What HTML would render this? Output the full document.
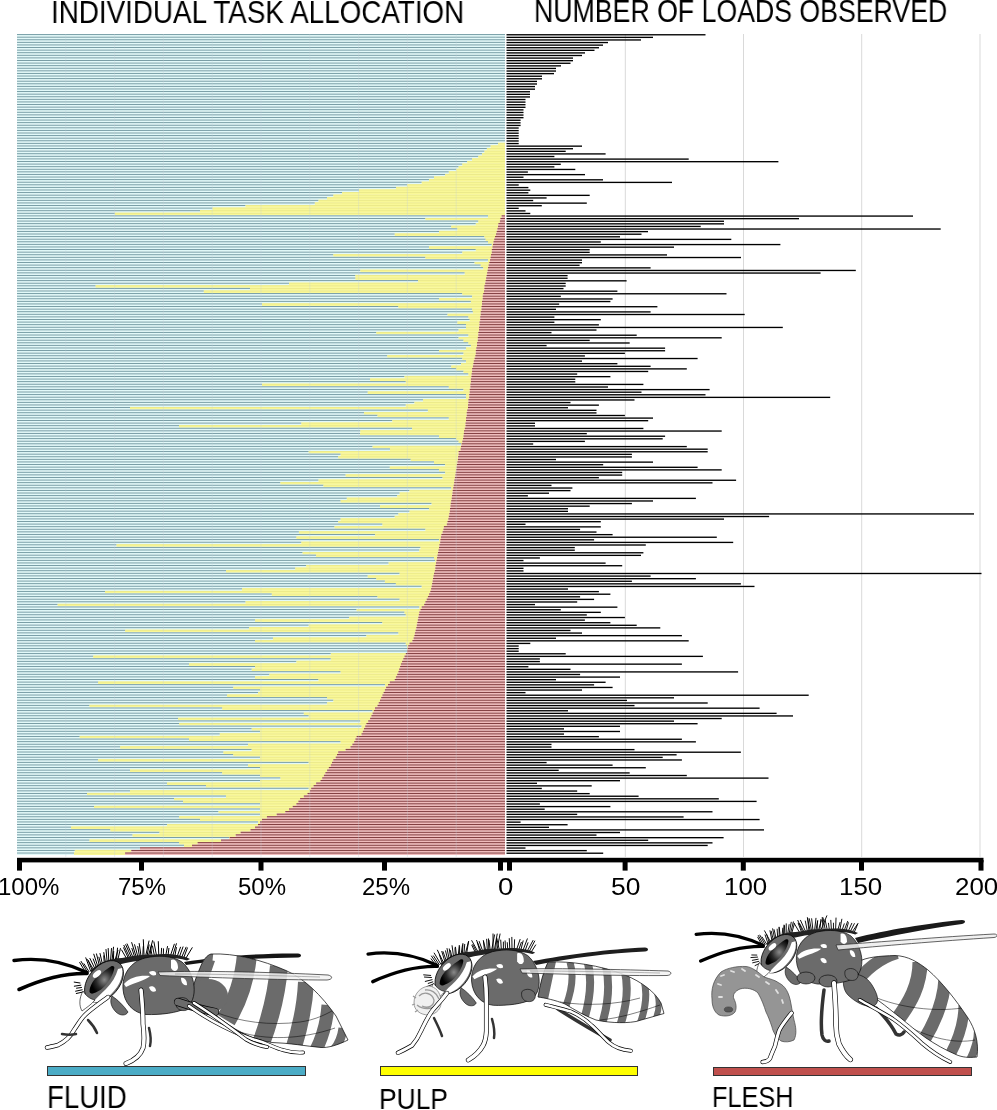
<!DOCTYPE html>
<html><head><meta charset="utf-8"><style>
html,body{margin:0;padding:0;background:#fff;}
body{width:997px;height:1110px;position:relative;overflow:hidden;font-family:"Liberation Sans",sans-serif;color:#000;}
.t{position:absolute;white-space:nowrap;line-height:1;transform-origin:0 0;will-change:transform;}
svg{position:absolute;left:0;top:0;}
</style></head><body>
<svg width="997" height="1110" viewBox="0 0 997 1110" shape-rendering="auto">
<rect x="624.8" y="34.0" width="1" height="823.0" fill="#d9d9d9"/><rect x="743.0" y="34.0" width="1" height="823.0" fill="#d9d9d9"/><rect x="861.2" y="34.0" width="1" height="823.0" fill="#d9d9d9"/><rect x="979.5" y="34.0" width="1" height="823.0" fill="#d9d9d9"/>
<rect x="17.00" y="34.00" width="488.00" height="2.61" fill="#e2f9f9"/><rect x="17.00" y="36.59" width="488.00" height="2.61" fill="#e2f9f9"/><rect x="17.00" y="39.18" width="488.00" height="2.61" fill="#e2f9f9"/><rect x="17.00" y="41.77" width="488.00" height="2.61" fill="#e2f9f9"/><rect x="17.00" y="44.36" width="488.00" height="2.61" fill="#e2f9f9"/><rect x="17.00" y="46.95" width="488.00" height="2.61" fill="#e2f9f9"/><rect x="17.00" y="49.54" width="488.00" height="2.61" fill="#e2f9f9"/><rect x="17.00" y="52.13" width="488.00" height="2.61" fill="#e2f9f9"/><rect x="17.00" y="54.72" width="488.00" height="2.61" fill="#e2f9f9"/><rect x="17.00" y="57.31" width="488.00" height="2.61" fill="#e2f9f9"/><rect x="17.00" y="59.90" width="488.00" height="2.61" fill="#e2f9f9"/><rect x="17.00" y="62.49" width="488.00" height="2.61" fill="#e2f9f9"/><rect x="17.00" y="65.08" width="488.00" height="2.61" fill="#e2f9f9"/><rect x="17.00" y="67.67" width="488.00" height="2.61" fill="#e2f9f9"/><rect x="17.00" y="70.26" width="488.00" height="2.61" fill="#e2f9f9"/><rect x="17.00" y="72.85" width="488.00" height="2.61" fill="#e2f9f9"/><rect x="17.00" y="75.44" width="488.00" height="2.61" fill="#e2f9f9"/><rect x="17.00" y="78.03" width="488.00" height="2.61" fill="#e2f9f9"/><rect x="17.00" y="80.62" width="488.00" height="2.61" fill="#e2f9f9"/><rect x="17.00" y="83.21" width="488.00" height="2.61" fill="#e2f9f9"/><rect x="17.00" y="85.80" width="488.00" height="2.61" fill="#e2f9f9"/><rect x="17.00" y="88.39" width="488.00" height="2.61" fill="#e2f9f9"/><rect x="17.00" y="90.98" width="488.00" height="2.61" fill="#e2f9f9"/><rect x="17.00" y="93.57" width="488.00" height="2.61" fill="#e2f9f9"/><rect x="17.00" y="96.16" width="488.00" height="2.61" fill="#e2f9f9"/><rect x="17.00" y="98.75" width="488.00" height="2.61" fill="#e2f9f9"/><rect x="17.00" y="101.34" width="488.00" height="2.61" fill="#e2f9f9"/><rect x="17.00" y="103.93" width="488.00" height="2.61" fill="#e2f9f9"/><rect x="17.00" y="106.52" width="488.00" height="2.61" fill="#e2f9f9"/><rect x="17.00" y="109.11" width="488.00" height="2.61" fill="#e2f9f9"/><rect x="17.00" y="111.70" width="488.00" height="2.61" fill="#e2f9f9"/><rect x="17.00" y="114.29" width="488.00" height="2.61" fill="#e2f9f9"/><rect x="17.00" y="116.88" width="488.00" height="2.61" fill="#e2f9f9"/><rect x="17.00" y="119.47" width="488.00" height="2.61" fill="#e2f9f9"/><rect x="17.00" y="122.06" width="488.00" height="2.61" fill="#e2f9f9"/><rect x="17.00" y="124.65" width="488.00" height="2.61" fill="#e2f9f9"/><rect x="17.00" y="127.24" width="488.00" height="2.61" fill="#e2f9f9"/><rect x="17.00" y="129.83" width="488.00" height="2.61" fill="#e2f9f9"/><rect x="17.00" y="132.42" width="488.00" height="2.61" fill="#e2f9f9"/><rect x="17.00" y="135.01" width="488.00" height="2.61" fill="#e2f9f9"/><rect x="17.00" y="137.60" width="488.00" height="2.61" fill="#e2f9f9"/><rect x="17.00" y="140.19" width="488.00" height="2.61" fill="#e2f9f9"/><rect x="17.00" y="142.78" width="481.00" height="2.61" fill="#e2f9f9"/><rect x="498.00" y="142.78" width="7.00" height="2.61" fill="#f9f897"/><rect x="17.00" y="145.37" width="473.60" height="2.61" fill="#e2f9f9"/><rect x="490.60" y="145.37" width="14.40" height="2.61" fill="#f9f897"/><rect x="17.00" y="147.96" width="469.90" height="2.61" fill="#e2f9f9"/><rect x="486.90" y="147.96" width="18.10" height="2.61" fill="#f9f897"/><rect x="17.00" y="150.55" width="467.40" height="2.61" fill="#e2f9f9"/><rect x="484.40" y="150.55" width="20.60" height="2.61" fill="#f9f897"/><rect x="17.00" y="153.14" width="465.00" height="2.61" fill="#e2f9f9"/><rect x="482.00" y="153.14" width="23.00" height="2.61" fill="#f9f897"/><rect x="17.00" y="155.73" width="461.30" height="2.61" fill="#e2f9f9"/><rect x="478.30" y="155.73" width="26.70" height="2.61" fill="#f9f897"/><rect x="17.00" y="158.32" width="455.00" height="2.61" fill="#e2f9f9"/><rect x="472.00" y="158.32" width="33.00" height="2.61" fill="#f9f897"/><rect x="17.00" y="160.91" width="450.20" height="2.61" fill="#e2f9f9"/><rect x="467.20" y="160.91" width="37.80" height="2.61" fill="#f9f897"/><rect x="17.00" y="163.50" width="445.30" height="2.61" fill="#e2f9f9"/><rect x="462.30" y="163.50" width="42.70" height="2.61" fill="#f9f897"/><rect x="17.00" y="166.09" width="441.60" height="2.61" fill="#e2f9f9"/><rect x="458.60" y="166.09" width="46.40" height="2.61" fill="#f9f897"/><rect x="17.00" y="168.68" width="439.20" height="2.61" fill="#e2f9f9"/><rect x="456.20" y="168.68" width="48.80" height="2.61" fill="#f9f897"/><rect x="17.00" y="171.27" width="431.80" height="2.61" fill="#e2f9f9"/><rect x="448.80" y="171.27" width="56.20" height="2.61" fill="#f9f897"/><rect x="17.00" y="173.86" width="428.00" height="2.61" fill="#e2f9f9"/><rect x="445.00" y="173.86" width="60.00" height="2.61" fill="#f9f897"/><rect x="17.00" y="176.45" width="417.00" height="2.61" fill="#e2f9f9"/><rect x="434.00" y="176.45" width="71.00" height="2.61" fill="#f9f897"/><rect x="17.00" y="179.04" width="412.00" height="2.61" fill="#e2f9f9"/><rect x="429.00" y="179.04" width="76.00" height="2.61" fill="#f9f897"/><rect x="17.00" y="181.63" width="404.70" height="2.61" fill="#e2f9f9"/><rect x="421.70" y="181.63" width="83.30" height="2.61" fill="#f9f897"/><rect x="17.00" y="184.22" width="390.00" height="2.61" fill="#e2f9f9"/><rect x="407.00" y="184.22" width="98.00" height="2.61" fill="#f9f897"/><rect x="17.00" y="186.81" width="379.00" height="2.61" fill="#e2f9f9"/><rect x="396.00" y="186.81" width="109.00" height="2.61" fill="#f9f897"/><rect x="17.00" y="189.40" width="342.00" height="2.61" fill="#e2f9f9"/><rect x="359.00" y="189.40" width="146.00" height="2.61" fill="#f9f897"/><rect x="17.00" y="191.99" width="325.00" height="2.61" fill="#e2f9f9"/><rect x="342.00" y="191.99" width="163.00" height="2.61" fill="#f9f897"/><rect x="17.00" y="194.58" width="316.30" height="2.61" fill="#e2f9f9"/><rect x="333.30" y="194.58" width="171.70" height="2.61" fill="#f9f897"/><rect x="17.00" y="197.17" width="310.00" height="2.61" fill="#e2f9f9"/><rect x="327.00" y="197.17" width="178.00" height="2.61" fill="#f9f897"/><rect x="17.00" y="199.76" width="301.50" height="2.61" fill="#e2f9f9"/><rect x="318.50" y="199.76" width="186.50" height="2.61" fill="#f9f897"/><rect x="17.00" y="202.35" width="297.80" height="2.61" fill="#e2f9f9"/><rect x="314.80" y="202.35" width="190.20" height="2.61" fill="#f9f897"/><rect x="17.00" y="204.94" width="228.50" height="2.61" fill="#e2f9f9"/><rect x="245.50" y="204.94" width="259.50" height="2.61" fill="#f9f897"/><rect x="17.00" y="207.53" width="195.40" height="2.61" fill="#e2f9f9"/><rect x="212.40" y="207.53" width="292.60" height="2.61" fill="#f9f897"/><rect x="17.00" y="210.12" width="183.00" height="2.61" fill="#e2f9f9"/><rect x="200.00" y="210.12" width="305.00" height="2.61" fill="#f9f897"/><rect x="17.00" y="212.71" width="97.80" height="2.61" fill="#e2f9f9"/><rect x="114.80" y="212.71" width="390.20" height="2.61" fill="#f9f897"/><rect x="17.00" y="215.30" width="471.00" height="2.61" fill="#e2f9f9"/><rect x="488.00" y="215.30" width="13.60" height="2.61" fill="#f9f897"/><rect x="501.60" y="215.30" width="3.40" height="2.61" fill="#f0bcbc"/><rect x="17.00" y="217.89" width="408.40" height="2.61" fill="#e2f9f9"/><rect x="425.40" y="217.89" width="75.00" height="2.61" fill="#f9f897"/><rect x="500.40" y="217.89" width="4.60" height="2.61" fill="#f0bcbc"/><rect x="17.00" y="220.48" width="461.30" height="2.61" fill="#e2f9f9"/><rect x="478.30" y="220.48" width="21.60" height="2.61" fill="#f9f897"/><rect x="499.90" y="220.48" width="5.10" height="2.61" fill="#f0bcbc"/><rect x="17.00" y="223.07" width="458.80" height="2.61" fill="#e2f9f9"/><rect x="475.80" y="223.07" width="22.60" height="2.61" fill="#f9f897"/><rect x="498.40" y="223.07" width="6.60" height="2.61" fill="#f0bcbc"/><rect x="17.00" y="225.66" width="434.20" height="2.61" fill="#e2f9f9"/><rect x="451.20" y="225.66" width="46.80" height="2.61" fill="#f9f897"/><rect x="498.00" y="225.66" width="7.00" height="2.61" fill="#f0bcbc"/><rect x="17.00" y="228.25" width="440.40" height="2.61" fill="#e2f9f9"/><rect x="457.40" y="228.25" width="40.00" height="2.61" fill="#f9f897"/><rect x="497.40" y="228.25" width="7.60" height="2.61" fill="#f0bcbc"/><rect x="17.00" y="230.84" width="422.00" height="2.61" fill="#e2f9f9"/><rect x="439.00" y="230.84" width="57.70" height="2.61" fill="#f9f897"/><rect x="496.70" y="230.84" width="8.30" height="2.61" fill="#f0bcbc"/><rect x="17.00" y="233.43" width="377.70" height="2.61" fill="#e2f9f9"/><rect x="394.70" y="233.43" width="101.30" height="2.61" fill="#f9f897"/><rect x="496.00" y="233.43" width="9.00" height="2.61" fill="#f0bcbc"/><rect x="17.00" y="236.02" width="467.40" height="2.61" fill="#e2f9f9"/><rect x="484.40" y="236.02" width="10.60" height="2.61" fill="#f9f897"/><rect x="495.00" y="236.02" width="10.00" height="2.61" fill="#f0bcbc"/><rect x="17.00" y="238.61" width="468.60" height="2.61" fill="#e2f9f9"/><rect x="485.60" y="238.61" width="8.60" height="2.61" fill="#f9f897"/><rect x="494.20" y="238.61" width="10.80" height="2.61" fill="#f0bcbc"/><rect x="17.00" y="241.20" width="471.00" height="2.61" fill="#e2f9f9"/><rect x="488.00" y="241.20" width="5.50" height="2.61" fill="#f9f897"/><rect x="493.50" y="241.20" width="11.50" height="2.61" fill="#f0bcbc"/><rect x="17.00" y="243.79" width="474.80" height="2.61" fill="#e2f9f9"/><rect x="491.80" y="243.79" width="1.20" height="2.61" fill="#f9f897"/><rect x="493.00" y="243.79" width="12.00" height="2.61" fill="#f0bcbc"/><rect x="17.00" y="246.38" width="412.00" height="2.61" fill="#e2f9f9"/><rect x="429.00" y="246.38" width="63.50" height="2.61" fill="#f9f897"/><rect x="492.50" y="246.38" width="12.50" height="2.61" fill="#f0bcbc"/><rect x="17.00" y="248.97" width="458.80" height="2.61" fill="#e2f9f9"/><rect x="475.80" y="248.97" width="16.00" height="2.61" fill="#f9f897"/><rect x="491.80" y="248.97" width="13.20" height="2.61" fill="#f0bcbc"/><rect x="17.00" y="251.56" width="445.30" height="2.61" fill="#e2f9f9"/><rect x="462.30" y="251.56" width="29.50" height="2.61" fill="#f9f897"/><rect x="491.80" y="251.56" width="13.20" height="2.61" fill="#f0bcbc"/><rect x="17.00" y="254.15" width="316.30" height="2.61" fill="#e2f9f9"/><rect x="333.30" y="254.15" width="157.70" height="2.61" fill="#f9f897"/><rect x="491.00" y="254.15" width="14.00" height="2.61" fill="#f0bcbc"/><rect x="17.00" y="256.74" width="408.40" height="2.61" fill="#e2f9f9"/><rect x="425.40" y="256.74" width="65.20" height="2.61" fill="#f9f897"/><rect x="490.60" y="256.74" width="14.40" height="2.61" fill="#f0bcbc"/><rect x="17.00" y="259.33" width="471.00" height="2.61" fill="#e2f9f9"/><rect x="488.00" y="259.33" width="2.00" height="2.61" fill="#f9f897"/><rect x="490.00" y="259.33" width="15.00" height="2.61" fill="#f0bcbc"/><rect x="17.00" y="261.92" width="457.60" height="2.61" fill="#e2f9f9"/><rect x="474.60" y="261.92" width="14.70" height="2.61" fill="#f9f897"/><rect x="489.30" y="261.92" width="15.70" height="2.61" fill="#f0bcbc"/><rect x="17.00" y="264.51" width="463.70" height="2.61" fill="#e2f9f9"/><rect x="480.70" y="264.51" width="7.90" height="2.61" fill="#f9f897"/><rect x="488.60" y="264.51" width="16.40" height="2.61" fill="#f0bcbc"/><rect x="17.00" y="267.10" width="466.20" height="2.61" fill="#e2f9f9"/><rect x="483.20" y="267.10" width="4.80" height="2.61" fill="#f9f897"/><rect x="488.00" y="267.10" width="17.00" height="2.61" fill="#f0bcbc"/><rect x="17.00" y="269.69" width="343.30" height="2.61" fill="#e2f9f9"/><rect x="360.30" y="269.69" width="127.30" height="2.61" fill="#f9f897"/><rect x="487.60" y="269.69" width="17.40" height="2.61" fill="#f0bcbc"/><rect x="17.00" y="272.28" width="447.70" height="2.61" fill="#e2f9f9"/><rect x="464.70" y="272.28" width="22.40" height="2.61" fill="#f9f897"/><rect x="487.10" y="272.28" width="17.90" height="2.61" fill="#f0bcbc"/><rect x="17.00" y="274.87" width="338.40" height="2.61" fill="#e2f9f9"/><rect x="355.40" y="274.87" width="131.20" height="2.61" fill="#f9f897"/><rect x="486.60" y="274.87" width="18.40" height="2.61" fill="#f0bcbc"/><rect x="17.00" y="277.46" width="338.40" height="2.61" fill="#e2f9f9"/><rect x="355.40" y="277.46" width="130.70" height="2.61" fill="#f9f897"/><rect x="486.10" y="277.46" width="18.90" height="2.61" fill="#f0bcbc"/><rect x="17.00" y="280.05" width="401.00" height="2.61" fill="#e2f9f9"/><rect x="418.00" y="280.05" width="67.60" height="2.61" fill="#f9f897"/><rect x="485.60" y="280.05" width="19.40" height="2.61" fill="#f0bcbc"/><rect x="17.00" y="282.64" width="272.00" height="2.61" fill="#e2f9f9"/><rect x="289.00" y="282.64" width="196.20" height="2.61" fill="#f9f897"/><rect x="485.20" y="282.64" width="19.80" height="2.61" fill="#f0bcbc"/><rect x="17.00" y="285.23" width="78.60" height="2.61" fill="#e2f9f9"/><rect x="95.60" y="285.23" width="388.80" height="2.61" fill="#f9f897"/><rect x="484.40" y="285.23" width="20.60" height="2.61" fill="#f0bcbc"/><rect x="17.00" y="287.82" width="233.00" height="2.61" fill="#e2f9f9"/><rect x="250.00" y="287.82" width="234.40" height="2.61" fill="#f9f897"/><rect x="484.40" y="287.82" width="20.60" height="2.61" fill="#f0bcbc"/><rect x="17.00" y="290.41" width="186.80" height="2.61" fill="#e2f9f9"/><rect x="203.80" y="290.41" width="280.20" height="2.61" fill="#f9f897"/><rect x="484.00" y="290.41" width="21.00" height="2.61" fill="#f0bcbc"/><rect x="17.00" y="293.00" width="445.30" height="2.61" fill="#e2f9f9"/><rect x="462.30" y="293.00" width="20.90" height="2.61" fill="#f9f897"/><rect x="483.20" y="293.00" width="21.80" height="2.61" fill="#f0bcbc"/><rect x="17.00" y="295.59" width="455.10" height="2.61" fill="#e2f9f9"/><rect x="472.10" y="295.59" width="10.60" height="2.61" fill="#f9f897"/><rect x="482.70" y="295.59" width="22.30" height="2.61" fill="#f0bcbc"/><rect x="17.00" y="298.18" width="422.00" height="2.61" fill="#e2f9f9"/><rect x="439.00" y="298.18" width="43.70" height="2.61" fill="#f9f897"/><rect x="482.70" y="298.18" width="22.30" height="2.61" fill="#f0bcbc"/><rect x="17.00" y="300.77" width="453.90" height="2.61" fill="#e2f9f9"/><rect x="470.90" y="300.77" width="11.10" height="2.61" fill="#f9f897"/><rect x="482.00" y="300.77" width="23.00" height="2.61" fill="#f0bcbc"/><rect x="17.00" y="303.36" width="245.00" height="2.61" fill="#e2f9f9"/><rect x="262.00" y="303.36" width="220.00" height="2.61" fill="#f9f897"/><rect x="482.00" y="303.36" width="23.00" height="2.61" fill="#f0bcbc"/><rect x="17.00" y="305.95" width="381.40" height="2.61" fill="#e2f9f9"/><rect x="398.40" y="305.95" width="83.10" height="2.61" fill="#f9f897"/><rect x="481.50" y="305.95" width="23.50" height="2.61" fill="#f0bcbc"/><rect x="17.00" y="308.54" width="455.10" height="2.61" fill="#e2f9f9"/><rect x="472.10" y="308.54" width="9.40" height="2.61" fill="#f9f897"/><rect x="481.50" y="308.54" width="23.50" height="2.61" fill="#f0bcbc"/><rect x="17.00" y="311.13" width="455.90" height="2.61" fill="#e2f9f9"/><rect x="472.90" y="311.13" width="7.80" height="2.61" fill="#f9f897"/><rect x="480.70" y="311.13" width="24.30" height="2.61" fill="#f0bcbc"/><rect x="17.00" y="313.72" width="430.50" height="2.61" fill="#e2f9f9"/><rect x="447.50" y="313.72" width="33.20" height="2.61" fill="#f9f897"/><rect x="480.70" y="313.72" width="24.30" height="2.61" fill="#f0bcbc"/><rect x="17.00" y="316.31" width="451.40" height="2.61" fill="#e2f9f9"/><rect x="468.40" y="316.31" width="11.80" height="2.61" fill="#f9f897"/><rect x="480.20" y="316.31" width="24.80" height="2.61" fill="#f0bcbc"/><rect x="17.00" y="318.90" width="452.70" height="2.61" fill="#e2f9f9"/><rect x="469.70" y="318.90" width="10.50" height="2.61" fill="#f9f897"/><rect x="480.20" y="318.90" width="24.80" height="2.61" fill="#f0bcbc"/><rect x="17.00" y="321.49" width="440.40" height="2.61" fill="#e2f9f9"/><rect x="457.40" y="321.49" width="22.10" height="2.61" fill="#f9f897"/><rect x="479.50" y="321.49" width="25.50" height="2.61" fill="#f0bcbc"/><rect x="17.00" y="324.08" width="449.00" height="2.61" fill="#e2f9f9"/><rect x="466.00" y="324.08" width="13.50" height="2.61" fill="#f9f897"/><rect x="479.50" y="324.08" width="25.50" height="2.61" fill="#f0bcbc"/><rect x="17.00" y="326.67" width="449.00" height="2.61" fill="#e2f9f9"/><rect x="466.00" y="326.67" width="13.00" height="2.61" fill="#f9f897"/><rect x="479.00" y="326.67" width="26.00" height="2.61" fill="#f0bcbc"/><rect x="17.00" y="329.26" width="441.60" height="2.61" fill="#e2f9f9"/><rect x="458.60" y="329.26" width="20.40" height="2.61" fill="#f9f897"/><rect x="479.00" y="329.26" width="26.00" height="2.61" fill="#f0bcbc"/><rect x="17.00" y="331.85" width="359.30" height="2.61" fill="#e2f9f9"/><rect x="376.30" y="331.85" width="102.00" height="2.61" fill="#f9f897"/><rect x="478.30" y="331.85" width="26.70" height="2.61" fill="#f0bcbc"/><rect x="17.00" y="334.44" width="451.40" height="2.61" fill="#e2f9f9"/><rect x="468.40" y="334.44" width="9.90" height="2.61" fill="#f9f897"/><rect x="478.30" y="334.44" width="26.70" height="2.61" fill="#f0bcbc"/><rect x="17.00" y="337.03" width="441.60" height="2.61" fill="#e2f9f9"/><rect x="458.60" y="337.03" width="19.20" height="2.61" fill="#f9f897"/><rect x="477.80" y="337.03" width="27.20" height="2.61" fill="#f0bcbc"/><rect x="17.00" y="339.62" width="446.50" height="2.61" fill="#e2f9f9"/><rect x="463.50" y="339.62" width="14.30" height="2.61" fill="#f9f897"/><rect x="477.80" y="339.62" width="27.20" height="2.61" fill="#f0bcbc"/><rect x="17.00" y="342.21" width="451.40" height="2.61" fill="#e2f9f9"/><rect x="468.40" y="342.21" width="8.60" height="2.61" fill="#f9f897"/><rect x="477.00" y="342.21" width="28.00" height="2.61" fill="#f0bcbc"/><rect x="17.00" y="344.80" width="453.90" height="2.61" fill="#e2f9f9"/><rect x="470.90" y="344.80" width="6.10" height="2.61" fill="#f9f897"/><rect x="477.00" y="344.80" width="28.00" height="2.61" fill="#f0bcbc"/><rect x="17.00" y="347.39" width="449.00" height="2.61" fill="#e2f9f9"/><rect x="466.00" y="347.39" width="10.30" height="2.61" fill="#f9f897"/><rect x="476.30" y="347.39" width="28.70" height="2.61" fill="#f0bcbc"/><rect x="17.00" y="349.98" width="422.00" height="2.61" fill="#e2f9f9"/><rect x="439.00" y="349.98" width="36.80" height="2.61" fill="#f9f897"/><rect x="475.80" y="349.98" width="29.20" height="2.61" fill="#f0bcbc"/><rect x="17.00" y="352.57" width="446.50" height="2.61" fill="#e2f9f9"/><rect x="463.50" y="352.57" width="12.30" height="2.61" fill="#f9f897"/><rect x="475.80" y="352.57" width="29.20" height="2.61" fill="#f0bcbc"/><rect x="17.00" y="355.16" width="370.30" height="2.61" fill="#e2f9f9"/><rect x="387.30" y="355.16" width="88.00" height="2.61" fill="#f9f897"/><rect x="475.30" y="355.16" width="29.70" height="2.61" fill="#f0bcbc"/><rect x="17.00" y="357.75" width="445.30" height="2.61" fill="#e2f9f9"/><rect x="462.30" y="357.75" width="12.30" height="2.61" fill="#f9f897"/><rect x="474.60" y="357.75" width="30.40" height="2.61" fill="#f0bcbc"/><rect x="17.00" y="360.34" width="449.00" height="2.61" fill="#e2f9f9"/><rect x="466.00" y="360.34" width="7.80" height="2.61" fill="#f9f897"/><rect x="473.80" y="360.34" width="31.20" height="2.61" fill="#f0bcbc"/><rect x="17.00" y="362.93" width="444.00" height="2.61" fill="#e2f9f9"/><rect x="461.00" y="362.93" width="12.40" height="2.61" fill="#f9f897"/><rect x="473.40" y="362.93" width="31.60" height="2.61" fill="#f0bcbc"/><rect x="17.00" y="365.52" width="434.20" height="2.61" fill="#e2f9f9"/><rect x="451.20" y="365.52" width="21.70" height="2.61" fill="#f9f897"/><rect x="472.90" y="365.52" width="32.10" height="2.61" fill="#f0bcbc"/><rect x="17.00" y="368.11" width="439.20" height="2.61" fill="#e2f9f9"/><rect x="456.20" y="368.11" width="15.90" height="2.61" fill="#f9f897"/><rect x="472.10" y="368.11" width="32.90" height="2.61" fill="#f0bcbc"/><rect x="17.00" y="370.70" width="446.50" height="2.61" fill="#e2f9f9"/><rect x="463.50" y="370.70" width="8.60" height="2.61" fill="#f9f897"/><rect x="472.10" y="370.70" width="32.90" height="2.61" fill="#f0bcbc"/><rect x="17.00" y="373.29" width="451.40" height="2.61" fill="#e2f9f9"/><rect x="468.40" y="373.29" width="3.20" height="2.61" fill="#f9f897"/><rect x="471.60" y="373.29" width="33.40" height="2.61" fill="#f0bcbc"/><rect x="17.00" y="375.88" width="387.50" height="2.61" fill="#e2f9f9"/><rect x="404.50" y="375.88" width="66.90" height="2.61" fill="#f9f897"/><rect x="471.40" y="375.88" width="33.60" height="2.61" fill="#f0bcbc"/><rect x="17.00" y="378.47" width="353.10" height="2.61" fill="#e2f9f9"/><rect x="370.10" y="378.47" width="100.80" height="2.61" fill="#f9f897"/><rect x="470.90" y="378.47" width="34.10" height="2.61" fill="#f0bcbc"/><rect x="17.00" y="381.06" width="388.80" height="2.61" fill="#e2f9f9"/><rect x="405.80" y="381.06" width="65.10" height="2.61" fill="#f9f897"/><rect x="470.90" y="381.06" width="34.10" height="2.61" fill="#f0bcbc"/><rect x="17.00" y="383.65" width="245.00" height="2.61" fill="#e2f9f9"/><rect x="262.00" y="383.65" width="208.40" height="2.61" fill="#f9f897"/><rect x="470.40" y="383.65" width="34.60" height="2.61" fill="#f0bcbc"/><rect x="17.00" y="386.24" width="431.80" height="2.61" fill="#e2f9f9"/><rect x="448.80" y="386.24" width="21.60" height="2.61" fill="#f9f897"/><rect x="470.40" y="386.24" width="34.60" height="2.61" fill="#f0bcbc"/><rect x="17.00" y="388.83" width="446.50" height="2.61" fill="#e2f9f9"/><rect x="463.50" y="388.83" width="6.20" height="2.61" fill="#f9f897"/><rect x="469.70" y="388.83" width="35.30" height="2.61" fill="#f0bcbc"/><rect x="17.00" y="391.42" width="350.70" height="2.61" fill="#e2f9f9"/><rect x="367.70" y="391.42" width="102.00" height="2.61" fill="#f9f897"/><rect x="469.70" y="391.42" width="35.30" height="2.61" fill="#f0bcbc"/><rect x="17.00" y="394.01" width="449.00" height="2.61" fill="#e2f9f9"/><rect x="466.00" y="394.01" width="3.20" height="2.61" fill="#f9f897"/><rect x="469.20" y="394.01" width="35.80" height="2.61" fill="#f0bcbc"/><rect x="17.00" y="396.60" width="449.00" height="2.61" fill="#e2f9f9"/><rect x="466.00" y="396.60" width="3.20" height="2.61" fill="#f9f897"/><rect x="469.20" y="396.60" width="35.80" height="2.61" fill="#f0bcbc"/><rect x="17.00" y="399.19" width="406.00" height="2.61" fill="#e2f9f9"/><rect x="423.00" y="399.19" width="45.40" height="2.61" fill="#f9f897"/><rect x="468.40" y="399.19" width="36.60" height="2.61" fill="#f0bcbc"/><rect x="17.00" y="401.78" width="397.40" height="2.61" fill="#e2f9f9"/><rect x="414.40" y="401.78" width="54.00" height="2.61" fill="#f9f897"/><rect x="468.40" y="401.78" width="36.60" height="2.61" fill="#f0bcbc"/><rect x="17.00" y="404.37" width="388.80" height="2.61" fill="#e2f9f9"/><rect x="405.80" y="404.37" width="62.20" height="2.61" fill="#f9f897"/><rect x="468.00" y="404.37" width="37.00" height="2.61" fill="#f0bcbc"/><rect x="17.00" y="406.96" width="113.00" height="2.61" fill="#e2f9f9"/><rect x="130.00" y="406.96" width="338.00" height="2.61" fill="#f9f897"/><rect x="468.00" y="406.96" width="37.00" height="2.61" fill="#f0bcbc"/><rect x="17.00" y="409.55" width="410.90" height="2.61" fill="#e2f9f9"/><rect x="427.90" y="409.55" width="39.30" height="2.61" fill="#f9f897"/><rect x="467.20" y="409.55" width="37.80" height="2.61" fill="#f0bcbc"/><rect x="17.00" y="412.14" width="347.00" height="2.61" fill="#e2f9f9"/><rect x="364.00" y="412.14" width="102.70" height="2.61" fill="#f9f897"/><rect x="466.70" y="412.14" width="38.30" height="2.61" fill="#f0bcbc"/><rect x="17.00" y="414.73" width="360.50" height="2.61" fill="#e2f9f9"/><rect x="377.50" y="414.73" width="89.20" height="2.61" fill="#f9f897"/><rect x="466.70" y="414.73" width="38.30" height="2.61" fill="#f0bcbc"/><rect x="17.00" y="417.32" width="431.80" height="2.61" fill="#e2f9f9"/><rect x="448.80" y="417.32" width="17.20" height="2.61" fill="#f9f897"/><rect x="466.00" y="417.32" width="39.00" height="2.61" fill="#f0bcbc"/><rect x="17.00" y="419.91" width="375.30" height="2.61" fill="#e2f9f9"/><rect x="392.30" y="419.91" width="73.70" height="2.61" fill="#f9f897"/><rect x="466.00" y="419.91" width="39.00" height="2.61" fill="#f0bcbc"/><rect x="17.00" y="422.50" width="284.30" height="2.61" fill="#e2f9f9"/><rect x="301.30" y="422.50" width="164.20" height="2.61" fill="#f9f897"/><rect x="465.50" y="422.50" width="39.50" height="2.61" fill="#f0bcbc"/><rect x="17.00" y="425.09" width="162.00" height="2.61" fill="#e2f9f9"/><rect x="179.00" y="425.09" width="286.50" height="2.61" fill="#f9f897"/><rect x="465.50" y="425.09" width="39.50" height="2.61" fill="#f0bcbc"/><rect x="17.00" y="427.68" width="395.00" height="2.61" fill="#e2f9f9"/><rect x="412.00" y="427.68" width="52.80" height="2.61" fill="#f9f897"/><rect x="464.80" y="427.68" width="40.20" height="2.61" fill="#f0bcbc"/><rect x="17.00" y="430.27" width="343.30" height="2.61" fill="#e2f9f9"/><rect x="360.30" y="430.27" width="103.70" height="2.61" fill="#f9f897"/><rect x="464.00" y="430.27" width="41.00" height="2.61" fill="#f0bcbc"/><rect x="17.00" y="432.86" width="343.00" height="2.61" fill="#e2f9f9"/><rect x="360.00" y="432.86" width="103.80" height="2.61" fill="#f9f897"/><rect x="463.80" y="432.86" width="41.20" height="2.61" fill="#f0bcbc"/><rect x="17.00" y="435.45" width="422.00" height="2.61" fill="#e2f9f9"/><rect x="439.00" y="435.45" width="24.50" height="2.61" fill="#f9f897"/><rect x="463.50" y="435.45" width="41.50" height="2.61" fill="#f0bcbc"/><rect x="17.00" y="438.04" width="439.20" height="2.61" fill="#e2f9f9"/><rect x="456.20" y="438.04" width="6.80" height="2.61" fill="#f9f897"/><rect x="463.00" y="438.04" width="42.00" height="2.61" fill="#f0bcbc"/><rect x="17.00" y="440.63" width="441.60" height="2.61" fill="#e2f9f9"/><rect x="458.60" y="440.63" width="3.70" height="2.61" fill="#f9f897"/><rect x="462.30" y="440.63" width="42.70" height="2.61" fill="#f0bcbc"/><rect x="17.00" y="443.22" width="444.00" height="2.61" fill="#e2f9f9"/><rect x="461.00" y="443.22" width="0.60" height="2.61" fill="#f9f897"/><rect x="461.60" y="443.22" width="43.40" height="2.61" fill="#f0bcbc"/><rect x="17.00" y="445.81" width="355.60" height="2.61" fill="#e2f9f9"/><rect x="372.60" y="445.81" width="88.40" height="2.61" fill="#f9f897"/><rect x="461.00" y="445.81" width="44.00" height="2.61" fill="#f0bcbc"/><rect x="17.00" y="448.40" width="373.00" height="2.61" fill="#e2f9f9"/><rect x="390.00" y="448.40" width="70.60" height="2.61" fill="#f9f897"/><rect x="460.60" y="448.40" width="44.40" height="2.61" fill="#f0bcbc"/><rect x="17.00" y="450.99" width="291.70" height="2.61" fill="#e2f9f9"/><rect x="308.70" y="450.99" width="149.90" height="2.61" fill="#f9f897"/><rect x="458.60" y="450.99" width="46.40" height="2.61" fill="#f0bcbc"/><rect x="17.00" y="453.58" width="323.60" height="2.61" fill="#e2f9f9"/><rect x="340.60" y="453.58" width="118.00" height="2.61" fill="#f9f897"/><rect x="458.60" y="453.58" width="46.40" height="2.61" fill="#f0bcbc"/><rect x="17.00" y="456.17" width="321.20" height="2.61" fill="#e2f9f9"/><rect x="338.20" y="456.17" width="119.90" height="2.61" fill="#f9f897"/><rect x="458.10" y="456.17" width="46.90" height="2.61" fill="#f0bcbc"/><rect x="17.00" y="458.76" width="393.70" height="2.61" fill="#e2f9f9"/><rect x="410.70" y="458.76" width="47.20" height="2.61" fill="#f9f897"/><rect x="457.90" y="458.76" width="47.10" height="2.61" fill="#f0bcbc"/><rect x="17.00" y="461.35" width="417.00" height="2.61" fill="#e2f9f9"/><rect x="434.00" y="461.35" width="23.40" height="2.61" fill="#f9f897"/><rect x="457.40" y="461.35" width="47.60" height="2.61" fill="#f0bcbc"/><rect x="17.00" y="463.94" width="428.10" height="2.61" fill="#e2f9f9"/><rect x="445.10" y="463.94" width="11.80" height="2.61" fill="#f9f897"/><rect x="456.90" y="463.94" width="48.10" height="2.61" fill="#f0bcbc"/><rect x="17.00" y="466.53" width="372.80" height="2.61" fill="#e2f9f9"/><rect x="389.80" y="466.53" width="66.80" height="2.61" fill="#f9f897"/><rect x="456.60" y="466.53" width="48.40" height="2.61" fill="#f0bcbc"/><rect x="17.00" y="469.12" width="422.00" height="2.61" fill="#e2f9f9"/><rect x="439.00" y="469.12" width="17.20" height="2.61" fill="#f9f897"/><rect x="456.20" y="469.12" width="48.80" height="2.61" fill="#f0bcbc"/><rect x="17.00" y="471.71" width="428.10" height="2.61" fill="#e2f9f9"/><rect x="445.10" y="471.71" width="10.60" height="2.61" fill="#f9f897"/><rect x="455.70" y="471.71" width="49.30" height="2.61" fill="#f0bcbc"/><rect x="17.00" y="474.30" width="328.60" height="2.61" fill="#e2f9f9"/><rect x="345.60" y="474.30" width="109.80" height="2.61" fill="#f9f897"/><rect x="455.40" y="474.30" width="49.60" height="2.61" fill="#f0bcbc"/><rect x="17.00" y="476.89" width="425.60" height="2.61" fill="#e2f9f9"/><rect x="442.60" y="476.89" width="12.30" height="2.61" fill="#f9f897"/><rect x="454.90" y="476.89" width="50.10" height="2.61" fill="#f0bcbc"/><rect x="17.00" y="479.48" width="301.50" height="2.61" fill="#e2f9f9"/><rect x="318.50" y="479.48" width="135.90" height="2.61" fill="#f9f897"/><rect x="454.40" y="479.48" width="50.60" height="2.61" fill="#f0bcbc"/><rect x="17.00" y="482.07" width="263.40" height="2.61" fill="#e2f9f9"/><rect x="280.40" y="482.07" width="173.80" height="2.61" fill="#f9f897"/><rect x="454.20" y="482.07" width="50.80" height="2.61" fill="#f0bcbc"/><rect x="17.00" y="484.66" width="306.40" height="2.61" fill="#e2f9f9"/><rect x="323.40" y="484.66" width="130.30" height="2.61" fill="#f9f897"/><rect x="453.70" y="484.66" width="51.30" height="2.61" fill="#f0bcbc"/><rect x="17.00" y="487.25" width="434.20" height="2.61" fill="#e2f9f9"/><rect x="451.20" y="487.25" width="2.00" height="2.61" fill="#f9f897"/><rect x="453.20" y="487.25" width="51.80" height="2.61" fill="#f0bcbc"/><rect x="17.00" y="489.84" width="392.50" height="2.61" fill="#e2f9f9"/><rect x="409.50" y="489.84" width="43.20" height="2.61" fill="#f9f897"/><rect x="452.70" y="489.84" width="52.30" height="2.61" fill="#f0bcbc"/><rect x="17.00" y="492.43" width="382.60" height="2.61" fill="#e2f9f9"/><rect x="399.60" y="492.43" width="52.90" height="2.61" fill="#f9f897"/><rect x="452.50" y="492.43" width="52.50" height="2.61" fill="#f0bcbc"/><rect x="17.00" y="495.02" width="380.20" height="2.61" fill="#e2f9f9"/><rect x="397.20" y="495.02" width="54.80" height="2.61" fill="#f9f897"/><rect x="452.00" y="495.02" width="53.00" height="2.61" fill="#f0bcbc"/><rect x="17.00" y="497.61" width="329.80" height="2.61" fill="#e2f9f9"/><rect x="346.80" y="497.61" width="104.90" height="2.61" fill="#f9f897"/><rect x="451.70" y="497.61" width="53.30" height="2.61" fill="#f0bcbc"/><rect x="17.00" y="500.20" width="323.60" height="2.61" fill="#e2f9f9"/><rect x="340.60" y="500.20" width="110.60" height="2.61" fill="#f9f897"/><rect x="451.20" y="500.20" width="53.80" height="2.61" fill="#f0bcbc"/><rect x="17.00" y="502.79" width="414.60" height="2.61" fill="#e2f9f9"/><rect x="431.60" y="502.79" width="19.10" height="2.61" fill="#f9f897"/><rect x="450.70" y="502.79" width="54.30" height="2.61" fill="#f0bcbc"/><rect x="17.00" y="505.38" width="363.00" height="2.61" fill="#e2f9f9"/><rect x="380.00" y="505.38" width="70.50" height="2.61" fill="#f9f897"/><rect x="450.50" y="505.38" width="54.50" height="2.61" fill="#f0bcbc"/><rect x="17.00" y="507.97" width="412.10" height="2.61" fill="#e2f9f9"/><rect x="429.10" y="507.97" width="20.90" height="2.61" fill="#f9f897"/><rect x="450.00" y="507.97" width="55.00" height="2.61" fill="#f0bcbc"/><rect x="17.00" y="510.56" width="392.50" height="2.61" fill="#e2f9f9"/><rect x="409.50" y="510.56" width="40.30" height="2.61" fill="#f9f897"/><rect x="449.80" y="510.56" width="55.20" height="2.61" fill="#f0bcbc"/><rect x="17.00" y="513.15" width="381.40" height="2.61" fill="#e2f9f9"/><rect x="398.40" y="513.15" width="50.90" height="2.61" fill="#f9f897"/><rect x="449.30" y="513.15" width="55.70" height="2.61" fill="#f0bcbc"/><rect x="17.00" y="515.74" width="377.70" height="2.61" fill="#e2f9f9"/><rect x="394.70" y="515.74" width="54.10" height="2.61" fill="#f9f897"/><rect x="448.80" y="515.74" width="56.20" height="2.61" fill="#f0bcbc"/><rect x="17.00" y="518.33" width="323.60" height="2.61" fill="#e2f9f9"/><rect x="340.60" y="518.33" width="107.70" height="2.61" fill="#f9f897"/><rect x="448.30" y="518.33" width="56.70" height="2.61" fill="#f0bcbc"/><rect x="17.00" y="520.92" width="321.20" height="2.61" fill="#e2f9f9"/><rect x="338.20" y="520.92" width="109.30" height="2.61" fill="#f9f897"/><rect x="447.50" y="520.92" width="57.50" height="2.61" fill="#f0bcbc"/><rect x="17.00" y="523.51" width="365.40" height="2.61" fill="#e2f9f9"/><rect x="382.40" y="523.51" width="64.40" height="2.61" fill="#f9f897"/><rect x="446.80" y="523.51" width="58.20" height="2.61" fill="#f0bcbc"/><rect x="17.00" y="526.10" width="317.50" height="2.61" fill="#e2f9f9"/><rect x="334.50" y="526.10" width="109.40" height="2.61" fill="#f9f897"/><rect x="443.90" y="526.10" width="61.10" height="2.61" fill="#f0bcbc"/><rect x="17.00" y="528.69" width="408.40" height="2.61" fill="#e2f9f9"/><rect x="425.40" y="528.69" width="18.00" height="2.61" fill="#f9f897"/><rect x="443.40" y="528.69" width="61.60" height="2.61" fill="#f0bcbc"/><rect x="17.00" y="531.28" width="281.90" height="2.61" fill="#e2f9f9"/><rect x="298.90" y="531.28" width="143.70" height="2.61" fill="#f9f897"/><rect x="442.60" y="531.28" width="62.40" height="2.61" fill="#f0bcbc"/><rect x="17.00" y="533.87" width="358.00" height="2.61" fill="#e2f9f9"/><rect x="375.00" y="533.87" width="66.40" height="2.61" fill="#f9f897"/><rect x="441.40" y="533.87" width="63.60" height="2.61" fill="#f0bcbc"/><rect x="17.00" y="536.46" width="279.40" height="2.61" fill="#e2f9f9"/><rect x="296.40" y="536.46" width="144.50" height="2.61" fill="#f9f897"/><rect x="440.90" y="536.46" width="64.10" height="2.61" fill="#f0bcbc"/><rect x="17.00" y="539.05" width="422.00" height="2.61" fill="#e2f9f9"/><rect x="439.00" y="539.05" width="1.40" height="2.61" fill="#f9f897"/><rect x="440.40" y="539.05" width="64.60" height="2.61" fill="#f0bcbc"/><rect x="17.00" y="541.64" width="284.30" height="2.61" fill="#e2f9f9"/><rect x="301.30" y="541.64" width="138.90" height="2.61" fill="#f9f897"/><rect x="440.20" y="541.64" width="64.80" height="2.61" fill="#f0bcbc"/><rect x="17.00" y="544.23" width="99.50" height="2.61" fill="#e2f9f9"/><rect x="116.50" y="544.23" width="322.90" height="2.61" fill="#f9f897"/><rect x="439.40" y="544.23" width="65.60" height="2.61" fill="#f0bcbc"/><rect x="17.00" y="546.82" width="403.50" height="2.61" fill="#e2f9f9"/><rect x="420.50" y="546.82" width="18.50" height="2.61" fill="#f9f897"/><rect x="439.00" y="546.82" width="66.00" height="2.61" fill="#f0bcbc"/><rect x="17.00" y="549.41" width="402.30" height="2.61" fill="#e2f9f9"/><rect x="419.30" y="549.41" width="19.20" height="2.61" fill="#f9f897"/><rect x="438.50" y="549.41" width="66.50" height="2.61" fill="#f0bcbc"/><rect x="17.00" y="552.00" width="285.60" height="2.61" fill="#e2f9f9"/><rect x="302.60" y="552.00" width="135.40" height="2.61" fill="#f9f897"/><rect x="438.00" y="552.00" width="67.00" height="2.61" fill="#f0bcbc"/><rect x="17.00" y="554.59" width="299.10" height="2.61" fill="#e2f9f9"/><rect x="316.10" y="554.59" width="121.40" height="2.61" fill="#f9f897"/><rect x="437.50" y="554.59" width="67.50" height="2.61" fill="#f0bcbc"/><rect x="17.00" y="557.18" width="417.00" height="2.61" fill="#e2f9f9"/><rect x="434.00" y="557.18" width="3.00" height="2.61" fill="#f9f897"/><rect x="437.00" y="557.18" width="68.00" height="2.61" fill="#f0bcbc"/><rect x="17.00" y="559.77" width="418.30" height="2.61" fill="#e2f9f9"/><rect x="435.30" y="559.77" width="1.20" height="2.61" fill="#f9f897"/><rect x="436.50" y="559.77" width="68.50" height="2.61" fill="#f0bcbc"/><rect x="17.00" y="562.36" width="371.60" height="2.61" fill="#e2f9f9"/><rect x="388.60" y="562.36" width="47.40" height="2.61" fill="#f9f897"/><rect x="436.00" y="562.36" width="69.00" height="2.61" fill="#f0bcbc"/><rect x="17.00" y="564.95" width="289.20" height="2.61" fill="#e2f9f9"/><rect x="306.20" y="564.95" width="129.30" height="2.61" fill="#f9f897"/><rect x="435.50" y="564.95" width="69.50" height="2.61" fill="#f0bcbc"/><rect x="17.00" y="567.54" width="278.20" height="2.61" fill="#e2f9f9"/><rect x="295.20" y="567.54" width="140.10" height="2.61" fill="#f9f897"/><rect x="435.30" y="567.54" width="69.70" height="2.61" fill="#f0bcbc"/><rect x="17.00" y="570.13" width="209.00" height="2.61" fill="#e2f9f9"/><rect x="226.00" y="570.13" width="208.80" height="2.61" fill="#f9f897"/><rect x="434.80" y="570.13" width="70.20" height="2.61" fill="#f0bcbc"/><rect x="17.00" y="572.72" width="382.60" height="2.61" fill="#e2f9f9"/><rect x="399.60" y="572.72" width="34.40" height="2.61" fill="#f9f897"/><rect x="434.00" y="572.72" width="71.00" height="2.61" fill="#f0bcbc"/><rect x="17.00" y="575.31" width="350.70" height="2.61" fill="#e2f9f9"/><rect x="367.70" y="575.31" width="65.80" height="2.61" fill="#f9f897"/><rect x="433.50" y="575.31" width="71.50" height="2.61" fill="#f0bcbc"/><rect x="17.00" y="577.90" width="359.30" height="2.61" fill="#e2f9f9"/><rect x="376.30" y="577.90" width="56.70" height="2.61" fill="#f9f897"/><rect x="433.00" y="577.90" width="72.00" height="2.61" fill="#f0bcbc"/><rect x="17.00" y="580.49" width="367.90" height="2.61" fill="#e2f9f9"/><rect x="384.90" y="580.49" width="47.70" height="2.61" fill="#f9f897"/><rect x="432.60" y="580.49" width="72.40" height="2.61" fill="#f0bcbc"/><rect x="17.00" y="583.08" width="378.90" height="2.61" fill="#e2f9f9"/><rect x="395.90" y="583.08" width="36.20" height="2.61" fill="#f9f897"/><rect x="432.10" y="583.08" width="72.90" height="2.61" fill="#f0bcbc"/><rect x="17.00" y="585.67" width="404.70" height="2.61" fill="#e2f9f9"/><rect x="421.70" y="585.67" width="9.90" height="2.61" fill="#f9f897"/><rect x="431.60" y="585.67" width="73.40" height="2.61" fill="#f0bcbc"/><rect x="17.00" y="588.26" width="225.00" height="2.61" fill="#e2f9f9"/><rect x="242.00" y="588.26" width="189.10" height="2.61" fill="#f9f897"/><rect x="431.10" y="588.26" width="73.90" height="2.61" fill="#f0bcbc"/><rect x="17.00" y="590.85" width="88.00" height="2.61" fill="#e2f9f9"/><rect x="105.00" y="590.85" width="325.30" height="2.61" fill="#f9f897"/><rect x="430.30" y="590.85" width="74.70" height="2.61" fill="#f0bcbc"/><rect x="17.00" y="593.44" width="254.80" height="2.61" fill="#e2f9f9"/><rect x="271.80" y="593.44" width="157.30" height="2.61" fill="#f9f897"/><rect x="429.10" y="593.44" width="75.90" height="2.61" fill="#f0bcbc"/><rect x="17.00" y="596.03" width="360.50" height="2.61" fill="#e2f9f9"/><rect x="377.50" y="596.03" width="50.40" height="2.61" fill="#f9f897"/><rect x="427.90" y="596.03" width="77.10" height="2.61" fill="#f0bcbc"/><rect x="17.00" y="598.62" width="382.60" height="2.61" fill="#e2f9f9"/><rect x="399.60" y="598.62" width="27.10" height="2.61" fill="#f9f897"/><rect x="426.70" y="598.62" width="78.30" height="2.61" fill="#f0bcbc"/><rect x="17.00" y="601.21" width="228.50" height="2.61" fill="#e2f9f9"/><rect x="245.50" y="601.21" width="179.90" height="2.61" fill="#f9f897"/><rect x="425.40" y="601.21" width="79.60" height="2.61" fill="#f0bcbc"/><rect x="17.00" y="603.80" width="40.60" height="2.61" fill="#e2f9f9"/><rect x="57.60" y="603.80" width="366.60" height="2.61" fill="#f9f897"/><rect x="424.20" y="603.80" width="80.80" height="2.61" fill="#f0bcbc"/><rect x="17.00" y="606.39" width="402.30" height="2.61" fill="#e2f9f9"/><rect x="419.30" y="606.39" width="2.40" height="2.61" fill="#f9f897"/><rect x="421.70" y="606.39" width="83.30" height="2.61" fill="#f0bcbc"/><rect x="17.00" y="608.98" width="339.60" height="2.61" fill="#e2f9f9"/><rect x="356.60" y="608.98" width="63.90" height="2.61" fill="#f9f897"/><rect x="420.50" y="608.98" width="84.50" height="2.61" fill="#f0bcbc"/><rect x="17.00" y="611.57" width="387.50" height="2.61" fill="#e2f9f9"/><rect x="404.50" y="611.57" width="14.80" height="2.61" fill="#f9f897"/><rect x="419.30" y="611.57" width="85.70" height="2.61" fill="#f0bcbc"/><rect x="17.00" y="614.16" width="388.80" height="2.61" fill="#e2f9f9"/><rect x="405.80" y="614.16" width="13.00" height="2.61" fill="#f9f897"/><rect x="418.80" y="614.16" width="86.20" height="2.61" fill="#f0bcbc"/><rect x="17.00" y="616.75" width="332.20" height="2.61" fill="#e2f9f9"/><rect x="349.20" y="616.75" width="69.10" height="2.61" fill="#f9f897"/><rect x="418.30" y="616.75" width="86.70" height="2.61" fill="#f0bcbc"/><rect x="17.00" y="619.34" width="238.00" height="2.61" fill="#e2f9f9"/><rect x="255.00" y="619.34" width="162.80" height="2.61" fill="#f9f897"/><rect x="417.80" y="619.34" width="87.20" height="2.61" fill="#f0bcbc"/><rect x="17.00" y="621.93" width="365.40" height="2.61" fill="#e2f9f9"/><rect x="382.40" y="621.93" width="34.90" height="2.61" fill="#f9f897"/><rect x="417.30" y="621.93" width="87.70" height="2.61" fill="#f0bcbc"/><rect x="17.00" y="624.52" width="291.70" height="2.61" fill="#e2f9f9"/><rect x="308.70" y="624.52" width="108.10" height="2.61" fill="#f9f897"/><rect x="416.80" y="624.52" width="88.20" height="2.61" fill="#f0bcbc"/><rect x="17.00" y="627.11" width="232.00" height="2.61" fill="#e2f9f9"/><rect x="249.00" y="627.11" width="167.30" height="2.61" fill="#f9f897"/><rect x="416.30" y="627.11" width="88.70" height="2.61" fill="#f0bcbc"/><rect x="17.00" y="629.70" width="108.10" height="2.61" fill="#e2f9f9"/><rect x="125.10" y="629.70" width="290.50" height="2.61" fill="#f9f897"/><rect x="415.60" y="629.70" width="89.40" height="2.61" fill="#f0bcbc"/><rect x="17.00" y="632.29" width="381.40" height="2.61" fill="#e2f9f9"/><rect x="398.40" y="632.29" width="16.50" height="2.61" fill="#f9f897"/><rect x="414.90" y="632.29" width="90.10" height="2.61" fill="#f0bcbc"/><rect x="17.00" y="634.88" width="349.40" height="2.61" fill="#e2f9f9"/><rect x="366.40" y="634.88" width="48.00" height="2.61" fill="#f9f897"/><rect x="414.40" y="634.88" width="90.60" height="2.61" fill="#f0bcbc"/><rect x="17.00" y="637.47" width="256.00" height="2.61" fill="#e2f9f9"/><rect x="273.00" y="637.47" width="140.60" height="2.61" fill="#f9f897"/><rect x="413.60" y="637.47" width="91.40" height="2.61" fill="#f0bcbc"/><rect x="17.00" y="640.06" width="238.00" height="2.61" fill="#e2f9f9"/><rect x="255.00" y="640.06" width="157.40" height="2.61" fill="#f9f897"/><rect x="412.40" y="640.06" width="92.60" height="2.61" fill="#f0bcbc"/><rect x="17.00" y="642.65" width="388.80" height="2.61" fill="#e2f9f9"/><rect x="405.80" y="642.65" width="3.70" height="2.61" fill="#f9f897"/><rect x="409.50" y="642.65" width="95.50" height="2.61" fill="#f0bcbc"/><rect x="17.00" y="645.24" width="390.00" height="2.61" fill="#e2f9f9"/><rect x="407.00" y="645.24" width="1.20" height="2.61" fill="#f9f897"/><rect x="408.20" y="645.24" width="96.80" height="2.61" fill="#f0bcbc"/><rect x="17.00" y="647.83" width="390.00" height="2.61" fill="#e2f9f9"/><rect x="407.00" y="647.83" width="0.50" height="2.61" fill="#f9f897"/><rect x="407.50" y="647.83" width="97.50" height="2.61" fill="#f0bcbc"/><rect x="17.00" y="650.42" width="390.00" height="2.61" fill="#e2f9f9"/><rect x="407.00" y="650.42" width="98.00" height="2.61" fill="#f0bcbc"/><rect x="17.00" y="653.01" width="313.80" height="2.61" fill="#e2f9f9"/><rect x="330.80" y="653.01" width="75.00" height="2.61" fill="#f9f897"/><rect x="405.80" y="653.01" width="99.20" height="2.61" fill="#f0bcbc"/><rect x="17.00" y="655.60" width="76.20" height="2.61" fill="#e2f9f9"/><rect x="93.20" y="655.60" width="311.30" height="2.61" fill="#f9f897"/><rect x="404.50" y="655.60" width="100.50" height="2.61" fill="#f0bcbc"/><rect x="17.00" y="658.19" width="313.80" height="2.61" fill="#e2f9f9"/><rect x="330.80" y="658.19" width="72.50" height="2.61" fill="#f9f897"/><rect x="403.30" y="658.19" width="101.70" height="2.61" fill="#f0bcbc"/><rect x="17.00" y="660.78" width="279.40" height="2.61" fill="#e2f9f9"/><rect x="296.40" y="660.78" width="105.70" height="2.61" fill="#f9f897"/><rect x="402.10" y="660.78" width="102.90" height="2.61" fill="#f0bcbc"/><rect x="17.00" y="663.37" width="172.00" height="2.61" fill="#e2f9f9"/><rect x="189.00" y="663.37" width="211.90" height="2.61" fill="#f9f897"/><rect x="400.90" y="663.37" width="104.10" height="2.61" fill="#f0bcbc"/><rect x="17.00" y="665.96" width="238.00" height="2.61" fill="#e2f9f9"/><rect x="255.00" y="665.96" width="145.10" height="2.61" fill="#f9f897"/><rect x="400.10" y="665.96" width="104.90" height="2.61" fill="#f0bcbc"/><rect x="17.00" y="668.55" width="234.70" height="2.61" fill="#e2f9f9"/><rect x="251.70" y="668.55" width="147.40" height="2.61" fill="#f9f897"/><rect x="399.10" y="668.55" width="105.90" height="2.61" fill="#f0bcbc"/><rect x="17.00" y="671.14" width="323.60" height="2.61" fill="#e2f9f9"/><rect x="340.60" y="671.14" width="57.80" height="2.61" fill="#f9f897"/><rect x="398.40" y="671.14" width="106.60" height="2.61" fill="#f0bcbc"/><rect x="17.00" y="673.73" width="252.40" height="2.61" fill="#e2f9f9"/><rect x="269.40" y="673.73" width="127.80" height="2.61" fill="#f9f897"/><rect x="397.20" y="673.73" width="107.80" height="2.61" fill="#f0bcbc"/><rect x="17.00" y="676.32" width="238.00" height="2.61" fill="#e2f9f9"/><rect x="255.00" y="676.32" width="140.90" height="2.61" fill="#f9f897"/><rect x="395.90" y="676.32" width="109.10" height="2.61" fill="#f0bcbc"/><rect x="17.00" y="678.91" width="301.50" height="2.61" fill="#e2f9f9"/><rect x="318.50" y="678.91" width="76.20" height="2.61" fill="#f9f897"/><rect x="394.70" y="678.91" width="110.30" height="2.61" fill="#f0bcbc"/><rect x="17.00" y="681.50" width="81.10" height="2.61" fill="#e2f9f9"/><rect x="98.10" y="681.50" width="291.70" height="2.61" fill="#f9f897"/><rect x="389.80" y="681.50" width="115.20" height="2.61" fill="#f0bcbc"/><rect x="17.00" y="684.09" width="368.00" height="2.61" fill="#e2f9f9"/><rect x="385.00" y="684.09" width="3.00" height="2.61" fill="#f9f897"/><rect x="388.00" y="684.09" width="117.00" height="2.61" fill="#f0bcbc"/><rect x="17.00" y="686.68" width="216.30" height="2.61" fill="#e2f9f9"/><rect x="233.30" y="686.68" width="152.80" height="2.61" fill="#f9f897"/><rect x="386.10" y="686.68" width="118.90" height="2.61" fill="#f0bcbc"/><rect x="17.00" y="689.27" width="243.00" height="2.61" fill="#e2f9f9"/><rect x="260.00" y="689.27" width="124.90" height="2.61" fill="#f9f897"/><rect x="384.90" y="689.27" width="120.10" height="2.61" fill="#f0bcbc"/><rect x="17.00" y="691.86" width="241.00" height="2.61" fill="#e2f9f9"/><rect x="258.00" y="691.86" width="125.60" height="2.61" fill="#f9f897"/><rect x="383.60" y="691.86" width="121.40" height="2.61" fill="#f0bcbc"/><rect x="17.00" y="694.45" width="210.10" height="2.61" fill="#e2f9f9"/><rect x="227.10" y="694.45" width="155.30" height="2.61" fill="#f9f897"/><rect x="382.40" y="694.45" width="122.60" height="2.61" fill="#f0bcbc"/><rect x="17.00" y="697.04" width="310.10" height="2.61" fill="#e2f9f9"/><rect x="327.10" y="697.04" width="54.10" height="2.61" fill="#f9f897"/><rect x="381.20" y="697.04" width="123.80" height="2.61" fill="#f0bcbc"/><rect x="17.00" y="699.63" width="316.30" height="2.61" fill="#e2f9f9"/><rect x="333.30" y="699.63" width="46.70" height="2.61" fill="#f9f897"/><rect x="380.00" y="699.63" width="125.00" height="2.61" fill="#f0bcbc"/><rect x="17.00" y="702.22" width="310.10" height="2.61" fill="#e2f9f9"/><rect x="327.10" y="702.22" width="51.60" height="2.61" fill="#f9f897"/><rect x="378.70" y="702.22" width="126.30" height="2.61" fill="#f0bcbc"/><rect x="17.00" y="704.81" width="72.50" height="2.61" fill="#e2f9f9"/><rect x="89.50" y="704.81" width="288.00" height="2.61" fill="#f9f897"/><rect x="377.50" y="704.81" width="127.50" height="2.61" fill="#f0bcbc"/><rect x="17.00" y="707.40" width="205.20" height="2.61" fill="#e2f9f9"/><rect x="222.20" y="707.40" width="152.80" height="2.61" fill="#f9f897"/><rect x="375.00" y="707.40" width="130.00" height="2.61" fill="#f0bcbc"/><rect x="17.00" y="709.99" width="355.60" height="2.61" fill="#e2f9f9"/><rect x="372.60" y="709.99" width="1.20" height="2.61" fill="#f9f897"/><rect x="373.80" y="709.99" width="131.20" height="2.61" fill="#f0bcbc"/><rect x="17.00" y="712.58" width="286.80" height="2.61" fill="#e2f9f9"/><rect x="303.80" y="712.58" width="68.80" height="2.61" fill="#f9f897"/><rect x="372.60" y="712.58" width="132.40" height="2.61" fill="#f0bcbc"/><rect x="17.00" y="715.17" width="291.70" height="2.61" fill="#e2f9f9"/><rect x="308.70" y="715.17" width="62.70" height="2.61" fill="#f9f897"/><rect x="371.40" y="715.17" width="133.60" height="2.61" fill="#f0bcbc"/><rect x="17.00" y="717.76" width="161.00" height="2.61" fill="#e2f9f9"/><rect x="178.00" y="717.76" width="192.10" height="2.61" fill="#f9f897"/><rect x="370.10" y="717.76" width="134.90" height="2.61" fill="#f0bcbc"/><rect x="17.00" y="720.35" width="343.30" height="2.61" fill="#e2f9f9"/><rect x="360.30" y="720.35" width="7.90" height="2.61" fill="#f9f897"/><rect x="368.20" y="720.35" width="136.80" height="2.61" fill="#f0bcbc"/><rect x="17.00" y="722.94" width="162.20" height="2.61" fill="#e2f9f9"/><rect x="179.20" y="722.94" width="187.20" height="2.61" fill="#f9f897"/><rect x="366.40" y="722.94" width="138.60" height="2.61" fill="#f0bcbc"/><rect x="17.00" y="725.53" width="344.50" height="2.61" fill="#e2f9f9"/><rect x="361.50" y="725.53" width="3.70" height="2.61" fill="#f9f897"/><rect x="365.20" y="725.53" width="139.80" height="2.61" fill="#f0bcbc"/><rect x="17.00" y="728.12" width="234.70" height="2.61" fill="#e2f9f9"/><rect x="251.70" y="728.12" width="112.30" height="2.61" fill="#f9f897"/><rect x="364.00" y="728.12" width="141.00" height="2.61" fill="#f0bcbc"/><rect x="17.00" y="730.71" width="243.00" height="2.61" fill="#e2f9f9"/><rect x="260.00" y="730.71" width="102.80" height="2.61" fill="#f9f897"/><rect x="362.80" y="730.71" width="142.20" height="2.61" fill="#f0bcbc"/><rect x="17.00" y="733.30" width="202.80" height="2.61" fill="#e2f9f9"/><rect x="219.80" y="733.30" width="141.70" height="2.61" fill="#f9f897"/><rect x="361.50" y="733.30" width="143.50" height="2.61" fill="#f0bcbc"/><rect x="17.00" y="735.89" width="62.70" height="2.61" fill="#e2f9f9"/><rect x="79.70" y="735.89" width="276.90" height="2.61" fill="#f9f897"/><rect x="356.60" y="735.89" width="148.40" height="2.61" fill="#f0bcbc"/><rect x="17.00" y="738.48" width="172.00" height="2.61" fill="#e2f9f9"/><rect x="189.00" y="738.48" width="166.40" height="2.61" fill="#f9f897"/><rect x="355.40" y="738.48" width="149.60" height="2.61" fill="#f0bcbc"/><rect x="17.00" y="741.07" width="323.60" height="2.61" fill="#e2f9f9"/><rect x="340.60" y="741.07" width="13.60" height="2.61" fill="#f9f897"/><rect x="354.20" y="741.07" width="150.80" height="2.61" fill="#f0bcbc"/><rect x="17.00" y="743.66" width="231.00" height="2.61" fill="#e2f9f9"/><rect x="248.00" y="743.66" width="104.40" height="2.61" fill="#f9f897"/><rect x="352.40" y="743.66" width="152.60" height="2.61" fill="#f0bcbc"/><rect x="17.00" y="746.25" width="103.20" height="2.61" fill="#e2f9f9"/><rect x="120.20" y="746.25" width="230.30" height="2.61" fill="#f9f897"/><rect x="350.50" y="746.25" width="154.50" height="2.61" fill="#f0bcbc"/><rect x="17.00" y="748.84" width="234.70" height="2.61" fill="#e2f9f9"/><rect x="251.70" y="748.84" width="93.90" height="2.61" fill="#f9f897"/><rect x="345.60" y="748.84" width="159.40" height="2.61" fill="#f0bcbc"/><rect x="17.00" y="751.43" width="206.40" height="2.61" fill="#e2f9f9"/><rect x="223.40" y="751.43" width="114.80" height="2.61" fill="#f9f897"/><rect x="338.20" y="751.43" width="166.80" height="2.61" fill="#f0bcbc"/><rect x="17.00" y="754.02" width="216.30" height="2.61" fill="#e2f9f9"/><rect x="233.30" y="754.02" width="103.70" height="2.61" fill="#f9f897"/><rect x="337.00" y="754.02" width="168.00" height="2.61" fill="#f0bcbc"/><rect x="17.00" y="756.61" width="243.00" height="2.61" fill="#e2f9f9"/><rect x="260.00" y="756.61" width="75.70" height="2.61" fill="#f9f897"/><rect x="335.70" y="756.61" width="169.30" height="2.61" fill="#f0bcbc"/><rect x="17.00" y="759.20" width="81.10" height="2.61" fill="#e2f9f9"/><rect x="98.10" y="759.20" width="235.20" height="2.61" fill="#f9f897"/><rect x="333.30" y="759.20" width="171.70" height="2.61" fill="#f0bcbc"/><rect x="17.00" y="761.79" width="291.70" height="2.61" fill="#e2f9f9"/><rect x="308.70" y="761.79" width="23.30" height="2.61" fill="#f9f897"/><rect x="332.00" y="761.79" width="173.00" height="2.61" fill="#f0bcbc"/><rect x="17.00" y="764.38" width="231.00" height="2.61" fill="#e2f9f9"/><rect x="248.00" y="764.38" width="82.80" height="2.61" fill="#f9f897"/><rect x="330.80" y="764.38" width="174.20" height="2.61" fill="#f0bcbc"/><rect x="17.00" y="766.97" width="243.00" height="2.61" fill="#e2f9f9"/><rect x="260.00" y="766.97" width="68.80" height="2.61" fill="#f9f897"/><rect x="328.80" y="766.97" width="176.20" height="2.61" fill="#f0bcbc"/><rect x="17.00" y="769.56" width="113.00" height="2.61" fill="#e2f9f9"/><rect x="130.00" y="769.56" width="197.10" height="2.61" fill="#f9f897"/><rect x="327.10" y="769.56" width="177.90" height="2.61" fill="#f0bcbc"/><rect x="17.00" y="772.15" width="205.20" height="2.61" fill="#e2f9f9"/><rect x="222.20" y="772.15" width="103.20" height="2.61" fill="#f9f897"/><rect x="325.40" y="772.15" width="179.60" height="2.61" fill="#f0bcbc"/><rect x="17.00" y="774.74" width="243.00" height="2.61" fill="#e2f9f9"/><rect x="260.00" y="774.74" width="63.90" height="2.61" fill="#f9f897"/><rect x="323.90" y="774.74" width="181.10" height="2.61" fill="#f0bcbc"/><rect x="17.00" y="777.33" width="263.40" height="2.61" fill="#e2f9f9"/><rect x="280.40" y="777.33" width="41.80" height="2.61" fill="#f9f897"/><rect x="322.20" y="777.33" width="182.80" height="2.61" fill="#f0bcbc"/><rect x="17.00" y="779.92" width="243.00" height="2.61" fill="#e2f9f9"/><rect x="260.00" y="779.92" width="60.50" height="2.61" fill="#f9f897"/><rect x="320.50" y="779.92" width="184.50" height="2.61" fill="#f0bcbc"/><rect x="17.00" y="782.51" width="150.00" height="2.61" fill="#e2f9f9"/><rect x="167.00" y="782.51" width="149.10" height="2.61" fill="#f9f897"/><rect x="316.10" y="782.51" width="188.90" height="2.61" fill="#f0bcbc"/><rect x="17.00" y="785.10" width="189.00" height="2.61" fill="#e2f9f9"/><rect x="206.00" y="785.10" width="107.60" height="2.61" fill="#f9f897"/><rect x="313.60" y="785.10" width="191.40" height="2.61" fill="#f0bcbc"/><rect x="17.00" y="787.69" width="291.70" height="2.61" fill="#e2f9f9"/><rect x="308.70" y="787.69" width="2.50" height="2.61" fill="#f9f897"/><rect x="311.20" y="787.69" width="193.80" height="2.61" fill="#f0bcbc"/><rect x="17.00" y="790.28" width="113.00" height="2.61" fill="#e2f9f9"/><rect x="130.00" y="790.28" width="179.90" height="2.61" fill="#f9f897"/><rect x="309.90" y="790.28" width="195.10" height="2.61" fill="#f0bcbc"/><rect x="17.00" y="792.87" width="70.00" height="2.61" fill="#e2f9f9"/><rect x="87.00" y="792.87" width="220.50" height="2.61" fill="#f9f897"/><rect x="307.50" y="792.87" width="197.50" height="2.61" fill="#f0bcbc"/><rect x="17.00" y="795.46" width="209.00" height="2.61" fill="#e2f9f9"/><rect x="226.00" y="795.46" width="77.80" height="2.61" fill="#f9f897"/><rect x="303.80" y="795.46" width="201.20" height="2.61" fill="#f0bcbc"/><rect x="17.00" y="798.05" width="157.00" height="2.61" fill="#e2f9f9"/><rect x="174.00" y="798.05" width="126.10" height="2.61" fill="#f9f897"/><rect x="300.10" y="798.05" width="204.90" height="2.61" fill="#f0bcbc"/><rect x="17.00" y="800.64" width="166.00" height="2.61" fill="#e2f9f9"/><rect x="183.00" y="800.64" width="115.40" height="2.61" fill="#f9f897"/><rect x="298.40" y="800.64" width="206.60" height="2.61" fill="#f0bcbc"/><rect x="17.00" y="803.23" width="243.00" height="2.61" fill="#e2f9f9"/><rect x="260.00" y="803.23" width="36.40" height="2.61" fill="#f9f897"/><rect x="296.40" y="803.23" width="208.60" height="2.61" fill="#f0bcbc"/><rect x="17.00" y="805.82" width="77.00" height="2.61" fill="#e2f9f9"/><rect x="94.00" y="805.82" width="198.70" height="2.61" fill="#f9f897"/><rect x="292.70" y="805.82" width="212.30" height="2.61" fill="#f0bcbc"/><rect x="17.00" y="808.41" width="243.00" height="2.61" fill="#e2f9f9"/><rect x="260.00" y="808.41" width="29.00" height="2.61" fill="#f9f897"/><rect x="289.00" y="808.41" width="216.00" height="2.61" fill="#f0bcbc"/><rect x="17.00" y="811.00" width="201.50" height="2.61" fill="#e2f9f9"/><rect x="218.50" y="811.00" width="66.80" height="2.61" fill="#f9f897"/><rect x="285.30" y="811.00" width="219.70" height="2.61" fill="#f0bcbc"/><rect x="17.00" y="813.59" width="243.00" height="2.61" fill="#e2f9f9"/><rect x="260.00" y="813.59" width="16.70" height="2.61" fill="#f9f897"/><rect x="276.70" y="813.59" width="228.30" height="2.61" fill="#f0bcbc"/><rect x="17.00" y="816.18" width="162.20" height="2.61" fill="#e2f9f9"/><rect x="179.20" y="816.18" width="87.70" height="2.61" fill="#f9f897"/><rect x="266.90" y="816.18" width="238.10" height="2.61" fill="#f0bcbc"/><rect x="17.00" y="818.77" width="183.00" height="2.61" fill="#e2f9f9"/><rect x="200.00" y="818.77" width="62.00" height="2.61" fill="#f9f897"/><rect x="262.00" y="818.77" width="243.00" height="2.61" fill="#f0bcbc"/><rect x="17.00" y="821.36" width="241.00" height="2.61" fill="#e2f9f9"/><rect x="258.00" y="821.36" width="2.00" height="2.61" fill="#f9f897"/><rect x="260.00" y="821.36" width="245.00" height="2.61" fill="#f0bcbc"/><rect x="17.00" y="823.95" width="150.00" height="2.61" fill="#e2f9f9"/><rect x="167.00" y="823.95" width="91.00" height="2.61" fill="#f9f897"/><rect x="258.00" y="823.95" width="247.00" height="2.61" fill="#f0bcbc"/><rect x="17.00" y="826.54" width="54.00" height="2.61" fill="#e2f9f9"/><rect x="71.00" y="826.54" width="184.00" height="2.61" fill="#f9f897"/><rect x="255.00" y="826.54" width="250.00" height="2.61" fill="#f0bcbc"/><rect x="17.00" y="829.13" width="93.40" height="2.61" fill="#e2f9f9"/><rect x="110.40" y="829.13" width="140.10" height="2.61" fill="#f9f897"/><rect x="250.50" y="829.13" width="254.50" height="2.61" fill="#f0bcbc"/><rect x="17.00" y="831.72" width="142.50" height="2.61" fill="#e2f9f9"/><rect x="159.50" y="831.72" width="81.10" height="2.61" fill="#f9f897"/><rect x="240.60" y="831.72" width="264.40" height="2.61" fill="#f0bcbc"/><rect x="17.00" y="834.31" width="115.50" height="2.61" fill="#e2f9f9"/><rect x="132.50" y="834.31" width="103.20" height="2.61" fill="#f9f897"/><rect x="235.70" y="834.31" width="269.30" height="2.61" fill="#f0bcbc"/><rect x="17.00" y="836.90" width="212.00" height="2.61" fill="#e2f9f9"/><rect x="229.00" y="836.90" width="0.60" height="2.61" fill="#f9f897"/><rect x="229.60" y="836.90" width="275.40" height="2.61" fill="#f0bcbc"/><rect x="17.00" y="839.49" width="72.50" height="2.61" fill="#e2f9f9"/><rect x="89.50" y="839.49" width="131.50" height="2.61" fill="#f9f897"/><rect x="221.00" y="839.49" width="284.00" height="2.61" fill="#f0bcbc"/><rect x="17.00" y="842.08" width="162.20" height="2.61" fill="#e2f9f9"/><rect x="179.20" y="842.08" width="18.40" height="2.61" fill="#f9f897"/><rect x="197.60" y="842.08" width="307.40" height="2.61" fill="#f0bcbc"/><rect x="17.00" y="844.67" width="167.00" height="2.61" fill="#e2f9f9"/><rect x="184.00" y="844.67" width="8.00" height="2.61" fill="#f9f897"/><rect x="192.00" y="844.67" width="313.00" height="2.61" fill="#f0bcbc"/><rect x="17.00" y="847.26" width="123.00" height="2.61" fill="#e2f9f9"/><rect x="140.00" y="847.26" width="365.00" height="2.61" fill="#f0bcbc"/><rect x="17.00" y="849.85" width="57.80" height="2.61" fill="#e2f9f9"/><rect x="74.80" y="849.85" width="56.50" height="2.61" fill="#f9f897"/><rect x="131.30" y="849.85" width="373.70" height="2.61" fill="#f0bcbc"/><rect x="17.00" y="852.44" width="57.00" height="2.61" fill="#e2f9f9"/><rect x="74.00" y="852.44" width="51.10" height="2.61" fill="#f9f897"/><rect x="125.10" y="852.44" width="379.90" height="2.61" fill="#f0bcbc"/><rect x="17.00" y="34.10" width="488.00" height="0.95" fill="#7499a2"/><rect x="17.00" y="36.69" width="488.00" height="0.95" fill="#7499a2"/><rect x="17.00" y="39.28" width="488.00" height="0.95" fill="#7499a2"/><rect x="17.00" y="41.87" width="488.00" height="0.95" fill="#7499a2"/><rect x="17.00" y="44.46" width="488.00" height="0.95" fill="#7499a2"/><rect x="17.00" y="47.05" width="488.00" height="0.95" fill="#7499a2"/><rect x="17.00" y="49.64" width="488.00" height="0.95" fill="#7499a2"/><rect x="17.00" y="52.23" width="488.00" height="0.95" fill="#7499a2"/><rect x="17.00" y="54.82" width="488.00" height="0.95" fill="#7499a2"/><rect x="17.00" y="57.41" width="488.00" height="0.95" fill="#7499a2"/><rect x="17.00" y="60.00" width="488.00" height="0.95" fill="#7499a2"/><rect x="17.00" y="62.59" width="488.00" height="0.95" fill="#7499a2"/><rect x="17.00" y="65.18" width="488.00" height="0.95" fill="#7499a2"/><rect x="17.00" y="67.77" width="488.00" height="0.95" fill="#7499a2"/><rect x="17.00" y="70.36" width="488.00" height="0.95" fill="#7499a2"/><rect x="17.00" y="72.95" width="488.00" height="0.95" fill="#7499a2"/><rect x="17.00" y="75.54" width="488.00" height="0.95" fill="#7499a2"/><rect x="17.00" y="78.13" width="488.00" height="0.95" fill="#7499a2"/><rect x="17.00" y="80.72" width="488.00" height="0.95" fill="#7499a2"/><rect x="17.00" y="83.31" width="488.00" height="0.95" fill="#7499a2"/><rect x="17.00" y="85.90" width="488.00" height="0.95" fill="#7499a2"/><rect x="17.00" y="88.49" width="488.00" height="0.95" fill="#7499a2"/><rect x="17.00" y="91.08" width="488.00" height="0.95" fill="#7499a2"/><rect x="17.00" y="93.67" width="488.00" height="0.95" fill="#7499a2"/><rect x="17.00" y="96.26" width="488.00" height="0.95" fill="#7499a2"/><rect x="17.00" y="98.85" width="488.00" height="0.95" fill="#7499a2"/><rect x="17.00" y="101.44" width="488.00" height="0.95" fill="#7499a2"/><rect x="17.00" y="104.03" width="488.00" height="0.95" fill="#7499a2"/><rect x="17.00" y="106.62" width="488.00" height="0.95" fill="#7499a2"/><rect x="17.00" y="109.21" width="488.00" height="0.95" fill="#7499a2"/><rect x="17.00" y="111.80" width="488.00" height="0.95" fill="#7499a2"/><rect x="17.00" y="114.39" width="488.00" height="0.95" fill="#7499a2"/><rect x="17.00" y="116.98" width="488.00" height="0.95" fill="#7499a2"/><rect x="17.00" y="119.57" width="488.00" height="0.95" fill="#7499a2"/><rect x="17.00" y="122.16" width="488.00" height="0.95" fill="#7499a2"/><rect x="17.00" y="124.75" width="488.00" height="0.95" fill="#7499a2"/><rect x="17.00" y="127.34" width="488.00" height="0.95" fill="#7499a2"/><rect x="17.00" y="129.93" width="488.00" height="0.95" fill="#7499a2"/><rect x="17.00" y="132.52" width="488.00" height="0.95" fill="#7499a2"/><rect x="17.00" y="135.11" width="488.00" height="0.95" fill="#7499a2"/><rect x="17.00" y="137.70" width="488.00" height="0.95" fill="#7499a2"/><rect x="17.00" y="140.29" width="488.00" height="0.95" fill="#7499a2"/><rect x="17.00" y="142.88" width="481.00" height="0.95" fill="#7499a2"/><rect x="498.00" y="142.88" width="7.00" height="0.95" fill="#ebe98a"/><rect x="17.00" y="145.47" width="473.60" height="0.95" fill="#7499a2"/><rect x="490.60" y="145.47" width="14.40" height="0.95" fill="#ebe98a"/><rect x="17.00" y="148.06" width="469.90" height="0.95" fill="#7499a2"/><rect x="486.90" y="148.06" width="18.10" height="0.95" fill="#ebe98a"/><rect x="17.00" y="150.65" width="467.40" height="0.95" fill="#7499a2"/><rect x="484.40" y="150.65" width="20.60" height="0.95" fill="#ebe98a"/><rect x="17.00" y="153.24" width="465.00" height="0.95" fill="#7499a2"/><rect x="482.00" y="153.24" width="23.00" height="0.95" fill="#ebe98a"/><rect x="17.00" y="155.83" width="461.30" height="0.95" fill="#7499a2"/><rect x="478.30" y="155.83" width="26.70" height="0.95" fill="#ebe98a"/><rect x="17.00" y="158.42" width="455.00" height="0.95" fill="#7499a2"/><rect x="472.00" y="158.42" width="33.00" height="0.95" fill="#ebe98a"/><rect x="17.00" y="161.01" width="450.20" height="0.95" fill="#7499a2"/><rect x="467.20" y="161.01" width="37.80" height="0.95" fill="#ebe98a"/><rect x="17.00" y="163.60" width="445.30" height="0.95" fill="#7499a2"/><rect x="462.30" y="163.60" width="42.70" height="0.95" fill="#ebe98a"/><rect x="17.00" y="166.19" width="441.60" height="0.95" fill="#7499a2"/><rect x="458.60" y="166.19" width="46.40" height="0.95" fill="#ebe98a"/><rect x="17.00" y="168.78" width="439.20" height="0.95" fill="#7499a2"/><rect x="456.20" y="168.78" width="48.80" height="0.95" fill="#ebe98a"/><rect x="17.00" y="171.37" width="431.80" height="0.95" fill="#7499a2"/><rect x="448.80" y="171.37" width="56.20" height="0.95" fill="#ebe98a"/><rect x="17.00" y="173.96" width="428.00" height="0.95" fill="#7499a2"/><rect x="445.00" y="173.96" width="60.00" height="0.95" fill="#ebe98a"/><rect x="17.00" y="176.55" width="417.00" height="0.95" fill="#7499a2"/><rect x="434.00" y="176.55" width="71.00" height="0.95" fill="#ebe98a"/><rect x="17.00" y="179.14" width="412.00" height="0.95" fill="#7499a2"/><rect x="429.00" y="179.14" width="76.00" height="0.95" fill="#ebe98a"/><rect x="17.00" y="181.73" width="404.70" height="0.95" fill="#7499a2"/><rect x="421.70" y="181.73" width="83.30" height="0.95" fill="#ebe98a"/><rect x="17.00" y="184.32" width="390.00" height="0.95" fill="#7499a2"/><rect x="407.00" y="184.32" width="98.00" height="0.95" fill="#ebe98a"/><rect x="17.00" y="186.91" width="379.00" height="0.95" fill="#7499a2"/><rect x="396.00" y="186.91" width="109.00" height="0.95" fill="#ebe98a"/><rect x="17.00" y="189.50" width="342.00" height="0.95" fill="#7499a2"/><rect x="359.00" y="189.50" width="146.00" height="0.95" fill="#ebe98a"/><rect x="17.00" y="192.09" width="325.00" height="0.95" fill="#7499a2"/><rect x="342.00" y="192.09" width="163.00" height="0.95" fill="#ebe98a"/><rect x="17.00" y="194.68" width="316.30" height="0.95" fill="#7499a2"/><rect x="333.30" y="194.68" width="171.70" height="0.95" fill="#ebe98a"/><rect x="17.00" y="197.27" width="310.00" height="0.95" fill="#7499a2"/><rect x="327.00" y="197.27" width="178.00" height="0.95" fill="#ebe98a"/><rect x="17.00" y="199.86" width="301.50" height="0.95" fill="#7499a2"/><rect x="318.50" y="199.86" width="186.50" height="0.95" fill="#ebe98a"/><rect x="17.00" y="202.45" width="297.80" height="0.95" fill="#7499a2"/><rect x="314.80" y="202.45" width="190.20" height="0.95" fill="#ebe98a"/><rect x="17.00" y="205.04" width="228.50" height="0.95" fill="#7499a2"/><rect x="245.50" y="205.04" width="259.50" height="0.95" fill="#ebe98a"/><rect x="17.00" y="207.63" width="195.40" height="0.95" fill="#7499a2"/><rect x="212.40" y="207.63" width="292.60" height="0.95" fill="#ebe98a"/><rect x="17.00" y="210.22" width="183.00" height="0.95" fill="#7499a2"/><rect x="200.00" y="210.22" width="305.00" height="0.95" fill="#ebe98a"/><rect x="17.00" y="212.81" width="97.80" height="0.95" fill="#7499a2"/><rect x="114.80" y="212.81" width="390.20" height="0.95" fill="#ebe98a"/><rect x="17.00" y="215.40" width="471.00" height="0.95" fill="#7499a2"/><rect x="488.00" y="215.40" width="13.60" height="0.95" fill="#ebe98a"/><rect x="501.60" y="215.40" width="3.40" height="0.95" fill="#7c383a"/><rect x="17.00" y="217.99" width="408.40" height="0.95" fill="#7499a2"/><rect x="425.40" y="217.99" width="75.00" height="0.95" fill="#ebe98a"/><rect x="500.40" y="217.99" width="4.60" height="0.95" fill="#7c383a"/><rect x="17.00" y="220.58" width="461.30" height="0.95" fill="#7499a2"/><rect x="478.30" y="220.58" width="21.60" height="0.95" fill="#ebe98a"/><rect x="499.90" y="220.58" width="5.10" height="0.95" fill="#7c383a"/><rect x="17.00" y="223.17" width="458.80" height="0.95" fill="#7499a2"/><rect x="475.80" y="223.17" width="22.60" height="0.95" fill="#ebe98a"/><rect x="498.40" y="223.17" width="6.60" height="0.95" fill="#7c383a"/><rect x="17.00" y="225.76" width="434.20" height="0.95" fill="#7499a2"/><rect x="451.20" y="225.76" width="46.80" height="0.95" fill="#ebe98a"/><rect x="498.00" y="225.76" width="7.00" height="0.95" fill="#7c383a"/><rect x="17.00" y="228.35" width="440.40" height="0.95" fill="#7499a2"/><rect x="457.40" y="228.35" width="40.00" height="0.95" fill="#ebe98a"/><rect x="497.40" y="228.35" width="7.60" height="0.95" fill="#7c383a"/><rect x="17.00" y="230.94" width="422.00" height="0.95" fill="#7499a2"/><rect x="439.00" y="230.94" width="57.70" height="0.95" fill="#ebe98a"/><rect x="496.70" y="230.94" width="8.30" height="0.95" fill="#7c383a"/><rect x="17.00" y="233.53" width="377.70" height="0.95" fill="#7499a2"/><rect x="394.70" y="233.53" width="101.30" height="0.95" fill="#ebe98a"/><rect x="496.00" y="233.53" width="9.00" height="0.95" fill="#7c383a"/><rect x="17.00" y="236.12" width="467.40" height="0.95" fill="#7499a2"/><rect x="484.40" y="236.12" width="10.60" height="0.95" fill="#ebe98a"/><rect x="495.00" y="236.12" width="10.00" height="0.95" fill="#7c383a"/><rect x="17.00" y="238.71" width="468.60" height="0.95" fill="#7499a2"/><rect x="485.60" y="238.71" width="8.60" height="0.95" fill="#ebe98a"/><rect x="494.20" y="238.71" width="10.80" height="0.95" fill="#7c383a"/><rect x="17.00" y="241.30" width="471.00" height="0.95" fill="#7499a2"/><rect x="488.00" y="241.30" width="5.50" height="0.95" fill="#ebe98a"/><rect x="493.50" y="241.30" width="11.50" height="0.95" fill="#7c383a"/><rect x="17.00" y="243.89" width="474.80" height="0.95" fill="#7499a2"/><rect x="491.80" y="243.89" width="1.20" height="0.95" fill="#ebe98a"/><rect x="493.00" y="243.89" width="12.00" height="0.95" fill="#7c383a"/><rect x="17.00" y="246.48" width="412.00" height="0.95" fill="#7499a2"/><rect x="429.00" y="246.48" width="63.50" height="0.95" fill="#ebe98a"/><rect x="492.50" y="246.48" width="12.50" height="0.95" fill="#7c383a"/><rect x="17.00" y="249.07" width="458.80" height="0.95" fill="#7499a2"/><rect x="475.80" y="249.07" width="16.00" height="0.95" fill="#ebe98a"/><rect x="491.80" y="249.07" width="13.20" height="0.95" fill="#7c383a"/><rect x="17.00" y="251.66" width="445.30" height="0.95" fill="#7499a2"/><rect x="462.30" y="251.66" width="29.50" height="0.95" fill="#ebe98a"/><rect x="491.80" y="251.66" width="13.20" height="0.95" fill="#7c383a"/><rect x="17.00" y="254.25" width="316.30" height="0.95" fill="#7499a2"/><rect x="333.30" y="254.25" width="157.70" height="0.95" fill="#ebe98a"/><rect x="491.00" y="254.25" width="14.00" height="0.95" fill="#7c383a"/><rect x="17.00" y="256.84" width="408.40" height="0.95" fill="#7499a2"/><rect x="425.40" y="256.84" width="65.20" height="0.95" fill="#ebe98a"/><rect x="490.60" y="256.84" width="14.40" height="0.95" fill="#7c383a"/><rect x="17.00" y="259.43" width="471.00" height="0.95" fill="#7499a2"/><rect x="488.00" y="259.43" width="2.00" height="0.95" fill="#ebe98a"/><rect x="490.00" y="259.43" width="15.00" height="0.95" fill="#7c383a"/><rect x="17.00" y="262.02" width="457.60" height="0.95" fill="#7499a2"/><rect x="474.60" y="262.02" width="14.70" height="0.95" fill="#ebe98a"/><rect x="489.30" y="262.02" width="15.70" height="0.95" fill="#7c383a"/><rect x="17.00" y="264.61" width="463.70" height="0.95" fill="#7499a2"/><rect x="480.70" y="264.61" width="7.90" height="0.95" fill="#ebe98a"/><rect x="488.60" y="264.61" width="16.40" height="0.95" fill="#7c383a"/><rect x="17.00" y="267.20" width="466.20" height="0.95" fill="#7499a2"/><rect x="483.20" y="267.20" width="4.80" height="0.95" fill="#ebe98a"/><rect x="488.00" y="267.20" width="17.00" height="0.95" fill="#7c383a"/><rect x="17.00" y="269.79" width="343.30" height="0.95" fill="#7499a2"/><rect x="360.30" y="269.79" width="127.30" height="0.95" fill="#ebe98a"/><rect x="487.60" y="269.79" width="17.40" height="0.95" fill="#7c383a"/><rect x="17.00" y="272.38" width="447.70" height="0.95" fill="#7499a2"/><rect x="464.70" y="272.38" width="22.40" height="0.95" fill="#ebe98a"/><rect x="487.10" y="272.38" width="17.90" height="0.95" fill="#7c383a"/><rect x="17.00" y="274.97" width="338.40" height="0.95" fill="#7499a2"/><rect x="355.40" y="274.97" width="131.20" height="0.95" fill="#ebe98a"/><rect x="486.60" y="274.97" width="18.40" height="0.95" fill="#7c383a"/><rect x="17.00" y="277.56" width="338.40" height="0.95" fill="#7499a2"/><rect x="355.40" y="277.56" width="130.70" height="0.95" fill="#ebe98a"/><rect x="486.10" y="277.56" width="18.90" height="0.95" fill="#7c383a"/><rect x="17.00" y="280.15" width="401.00" height="0.95" fill="#7499a2"/><rect x="418.00" y="280.15" width="67.60" height="0.95" fill="#ebe98a"/><rect x="485.60" y="280.15" width="19.40" height="0.95" fill="#7c383a"/><rect x="17.00" y="282.74" width="272.00" height="0.95" fill="#7499a2"/><rect x="289.00" y="282.74" width="196.20" height="0.95" fill="#ebe98a"/><rect x="485.20" y="282.74" width="19.80" height="0.95" fill="#7c383a"/><rect x="17.00" y="285.33" width="78.60" height="0.95" fill="#7499a2"/><rect x="95.60" y="285.33" width="388.80" height="0.95" fill="#ebe98a"/><rect x="484.40" y="285.33" width="20.60" height="0.95" fill="#7c383a"/><rect x="17.00" y="287.92" width="233.00" height="0.95" fill="#7499a2"/><rect x="250.00" y="287.92" width="234.40" height="0.95" fill="#ebe98a"/><rect x="484.40" y="287.92" width="20.60" height="0.95" fill="#7c383a"/><rect x="17.00" y="290.51" width="186.80" height="0.95" fill="#7499a2"/><rect x="203.80" y="290.51" width="280.20" height="0.95" fill="#ebe98a"/><rect x="484.00" y="290.51" width="21.00" height="0.95" fill="#7c383a"/><rect x="17.00" y="293.10" width="445.30" height="0.95" fill="#7499a2"/><rect x="462.30" y="293.10" width="20.90" height="0.95" fill="#ebe98a"/><rect x="483.20" y="293.10" width="21.80" height="0.95" fill="#7c383a"/><rect x="17.00" y="295.69" width="455.10" height="0.95" fill="#7499a2"/><rect x="472.10" y="295.69" width="10.60" height="0.95" fill="#ebe98a"/><rect x="482.70" y="295.69" width="22.30" height="0.95" fill="#7c383a"/><rect x="17.00" y="298.28" width="422.00" height="0.95" fill="#7499a2"/><rect x="439.00" y="298.28" width="43.70" height="0.95" fill="#ebe98a"/><rect x="482.70" y="298.28" width="22.30" height="0.95" fill="#7c383a"/><rect x="17.00" y="300.87" width="453.90" height="0.95" fill="#7499a2"/><rect x="470.90" y="300.87" width="11.10" height="0.95" fill="#ebe98a"/><rect x="482.00" y="300.87" width="23.00" height="0.95" fill="#7c383a"/><rect x="17.00" y="303.46" width="245.00" height="0.95" fill="#7499a2"/><rect x="262.00" y="303.46" width="220.00" height="0.95" fill="#ebe98a"/><rect x="482.00" y="303.46" width="23.00" height="0.95" fill="#7c383a"/><rect x="17.00" y="306.05" width="381.40" height="0.95" fill="#7499a2"/><rect x="398.40" y="306.05" width="83.10" height="0.95" fill="#ebe98a"/><rect x="481.50" y="306.05" width="23.50" height="0.95" fill="#7c383a"/><rect x="17.00" y="308.64" width="455.10" height="0.95" fill="#7499a2"/><rect x="472.10" y="308.64" width="9.40" height="0.95" fill="#ebe98a"/><rect x="481.50" y="308.64" width="23.50" height="0.95" fill="#7c383a"/><rect x="17.00" y="311.23" width="455.90" height="0.95" fill="#7499a2"/><rect x="472.90" y="311.23" width="7.80" height="0.95" fill="#ebe98a"/><rect x="480.70" y="311.23" width="24.30" height="0.95" fill="#7c383a"/><rect x="17.00" y="313.82" width="430.50" height="0.95" fill="#7499a2"/><rect x="447.50" y="313.82" width="33.20" height="0.95" fill="#ebe98a"/><rect x="480.70" y="313.82" width="24.30" height="0.95" fill="#7c383a"/><rect x="17.00" y="316.41" width="451.40" height="0.95" fill="#7499a2"/><rect x="468.40" y="316.41" width="11.80" height="0.95" fill="#ebe98a"/><rect x="480.20" y="316.41" width="24.80" height="0.95" fill="#7c383a"/><rect x="17.00" y="319.00" width="452.70" height="0.95" fill="#7499a2"/><rect x="469.70" y="319.00" width="10.50" height="0.95" fill="#ebe98a"/><rect x="480.20" y="319.00" width="24.80" height="0.95" fill="#7c383a"/><rect x="17.00" y="321.59" width="440.40" height="0.95" fill="#7499a2"/><rect x="457.40" y="321.59" width="22.10" height="0.95" fill="#ebe98a"/><rect x="479.50" y="321.59" width="25.50" height="0.95" fill="#7c383a"/><rect x="17.00" y="324.18" width="449.00" height="0.95" fill="#7499a2"/><rect x="466.00" y="324.18" width="13.50" height="0.95" fill="#ebe98a"/><rect x="479.50" y="324.18" width="25.50" height="0.95" fill="#7c383a"/><rect x="17.00" y="326.77" width="449.00" height="0.95" fill="#7499a2"/><rect x="466.00" y="326.77" width="13.00" height="0.95" fill="#ebe98a"/><rect x="479.00" y="326.77" width="26.00" height="0.95" fill="#7c383a"/><rect x="17.00" y="329.36" width="441.60" height="0.95" fill="#7499a2"/><rect x="458.60" y="329.36" width="20.40" height="0.95" fill="#ebe98a"/><rect x="479.00" y="329.36" width="26.00" height="0.95" fill="#7c383a"/><rect x="17.00" y="331.95" width="359.30" height="0.95" fill="#7499a2"/><rect x="376.30" y="331.95" width="102.00" height="0.95" fill="#ebe98a"/><rect x="478.30" y="331.95" width="26.70" height="0.95" fill="#7c383a"/><rect x="17.00" y="334.54" width="451.40" height="0.95" fill="#7499a2"/><rect x="468.40" y="334.54" width="9.90" height="0.95" fill="#ebe98a"/><rect x="478.30" y="334.54" width="26.70" height="0.95" fill="#7c383a"/><rect x="17.00" y="337.13" width="441.60" height="0.95" fill="#7499a2"/><rect x="458.60" y="337.13" width="19.20" height="0.95" fill="#ebe98a"/><rect x="477.80" y="337.13" width="27.20" height="0.95" fill="#7c383a"/><rect x="17.00" y="339.72" width="446.50" height="0.95" fill="#7499a2"/><rect x="463.50" y="339.72" width="14.30" height="0.95" fill="#ebe98a"/><rect x="477.80" y="339.72" width="27.20" height="0.95" fill="#7c383a"/><rect x="17.00" y="342.31" width="451.40" height="0.95" fill="#7499a2"/><rect x="468.40" y="342.31" width="8.60" height="0.95" fill="#ebe98a"/><rect x="477.00" y="342.31" width="28.00" height="0.95" fill="#7c383a"/><rect x="17.00" y="344.90" width="453.90" height="0.95" fill="#7499a2"/><rect x="470.90" y="344.90" width="6.10" height="0.95" fill="#ebe98a"/><rect x="477.00" y="344.90" width="28.00" height="0.95" fill="#7c383a"/><rect x="17.00" y="347.49" width="449.00" height="0.95" fill="#7499a2"/><rect x="466.00" y="347.49" width="10.30" height="0.95" fill="#ebe98a"/><rect x="476.30" y="347.49" width="28.70" height="0.95" fill="#7c383a"/><rect x="17.00" y="350.08" width="422.00" height="0.95" fill="#7499a2"/><rect x="439.00" y="350.08" width="36.80" height="0.95" fill="#ebe98a"/><rect x="475.80" y="350.08" width="29.20" height="0.95" fill="#7c383a"/><rect x="17.00" y="352.67" width="446.50" height="0.95" fill="#7499a2"/><rect x="463.50" y="352.67" width="12.30" height="0.95" fill="#ebe98a"/><rect x="475.80" y="352.67" width="29.20" height="0.95" fill="#7c383a"/><rect x="17.00" y="355.26" width="370.30" height="0.95" fill="#7499a2"/><rect x="387.30" y="355.26" width="88.00" height="0.95" fill="#ebe98a"/><rect x="475.30" y="355.26" width="29.70" height="0.95" fill="#7c383a"/><rect x="17.00" y="357.85" width="445.30" height="0.95" fill="#7499a2"/><rect x="462.30" y="357.85" width="12.30" height="0.95" fill="#ebe98a"/><rect x="474.60" y="357.85" width="30.40" height="0.95" fill="#7c383a"/><rect x="17.00" y="360.44" width="449.00" height="0.95" fill="#7499a2"/><rect x="466.00" y="360.44" width="7.80" height="0.95" fill="#ebe98a"/><rect x="473.80" y="360.44" width="31.20" height="0.95" fill="#7c383a"/><rect x="17.00" y="363.03" width="444.00" height="0.95" fill="#7499a2"/><rect x="461.00" y="363.03" width="12.40" height="0.95" fill="#ebe98a"/><rect x="473.40" y="363.03" width="31.60" height="0.95" fill="#7c383a"/><rect x="17.00" y="365.62" width="434.20" height="0.95" fill="#7499a2"/><rect x="451.20" y="365.62" width="21.70" height="0.95" fill="#ebe98a"/><rect x="472.90" y="365.62" width="32.10" height="0.95" fill="#7c383a"/><rect x="17.00" y="368.21" width="439.20" height="0.95" fill="#7499a2"/><rect x="456.20" y="368.21" width="15.90" height="0.95" fill="#ebe98a"/><rect x="472.10" y="368.21" width="32.90" height="0.95" fill="#7c383a"/><rect x="17.00" y="370.80" width="446.50" height="0.95" fill="#7499a2"/><rect x="463.50" y="370.80" width="8.60" height="0.95" fill="#ebe98a"/><rect x="472.10" y="370.80" width="32.90" height="0.95" fill="#7c383a"/><rect x="17.00" y="373.39" width="451.40" height="0.95" fill="#7499a2"/><rect x="468.40" y="373.39" width="3.20" height="0.95" fill="#ebe98a"/><rect x="471.60" y="373.39" width="33.40" height="0.95" fill="#7c383a"/><rect x="17.00" y="375.98" width="387.50" height="0.95" fill="#7499a2"/><rect x="404.50" y="375.98" width="66.90" height="0.95" fill="#ebe98a"/><rect x="471.40" y="375.98" width="33.60" height="0.95" fill="#7c383a"/><rect x="17.00" y="378.57" width="353.10" height="0.95" fill="#7499a2"/><rect x="370.10" y="378.57" width="100.80" height="0.95" fill="#ebe98a"/><rect x="470.90" y="378.57" width="34.10" height="0.95" fill="#7c383a"/><rect x="17.00" y="381.16" width="388.80" height="0.95" fill="#7499a2"/><rect x="405.80" y="381.16" width="65.10" height="0.95" fill="#ebe98a"/><rect x="470.90" y="381.16" width="34.10" height="0.95" fill="#7c383a"/><rect x="17.00" y="383.75" width="245.00" height="0.95" fill="#7499a2"/><rect x="262.00" y="383.75" width="208.40" height="0.95" fill="#ebe98a"/><rect x="470.40" y="383.75" width="34.60" height="0.95" fill="#7c383a"/><rect x="17.00" y="386.34" width="431.80" height="0.95" fill="#7499a2"/><rect x="448.80" y="386.34" width="21.60" height="0.95" fill="#ebe98a"/><rect x="470.40" y="386.34" width="34.60" height="0.95" fill="#7c383a"/><rect x="17.00" y="388.93" width="446.50" height="0.95" fill="#7499a2"/><rect x="463.50" y="388.93" width="6.20" height="0.95" fill="#ebe98a"/><rect x="469.70" y="388.93" width="35.30" height="0.95" fill="#7c383a"/><rect x="17.00" y="391.52" width="350.70" height="0.95" fill="#7499a2"/><rect x="367.70" y="391.52" width="102.00" height="0.95" fill="#ebe98a"/><rect x="469.70" y="391.52" width="35.30" height="0.95" fill="#7c383a"/><rect x="17.00" y="394.11" width="449.00" height="0.95" fill="#7499a2"/><rect x="466.00" y="394.11" width="3.20" height="0.95" fill="#ebe98a"/><rect x="469.20" y="394.11" width="35.80" height="0.95" fill="#7c383a"/><rect x="17.00" y="396.70" width="449.00" height="0.95" fill="#7499a2"/><rect x="466.00" y="396.70" width="3.20" height="0.95" fill="#ebe98a"/><rect x="469.20" y="396.70" width="35.80" height="0.95" fill="#7c383a"/><rect x="17.00" y="399.29" width="406.00" height="0.95" fill="#7499a2"/><rect x="423.00" y="399.29" width="45.40" height="0.95" fill="#ebe98a"/><rect x="468.40" y="399.29" width="36.60" height="0.95" fill="#7c383a"/><rect x="17.00" y="401.88" width="397.40" height="0.95" fill="#7499a2"/><rect x="414.40" y="401.88" width="54.00" height="0.95" fill="#ebe98a"/><rect x="468.40" y="401.88" width="36.60" height="0.95" fill="#7c383a"/><rect x="17.00" y="404.47" width="388.80" height="0.95" fill="#7499a2"/><rect x="405.80" y="404.47" width="62.20" height="0.95" fill="#ebe98a"/><rect x="468.00" y="404.47" width="37.00" height="0.95" fill="#7c383a"/><rect x="17.00" y="407.06" width="113.00" height="0.95" fill="#7499a2"/><rect x="130.00" y="407.06" width="338.00" height="0.95" fill="#ebe98a"/><rect x="468.00" y="407.06" width="37.00" height="0.95" fill="#7c383a"/><rect x="17.00" y="409.65" width="410.90" height="0.95" fill="#7499a2"/><rect x="427.90" y="409.65" width="39.30" height="0.95" fill="#ebe98a"/><rect x="467.20" y="409.65" width="37.80" height="0.95" fill="#7c383a"/><rect x="17.00" y="412.24" width="347.00" height="0.95" fill="#7499a2"/><rect x="364.00" y="412.24" width="102.70" height="0.95" fill="#ebe98a"/><rect x="466.70" y="412.24" width="38.30" height="0.95" fill="#7c383a"/><rect x="17.00" y="414.83" width="360.50" height="0.95" fill="#7499a2"/><rect x="377.50" y="414.83" width="89.20" height="0.95" fill="#ebe98a"/><rect x="466.70" y="414.83" width="38.30" height="0.95" fill="#7c383a"/><rect x="17.00" y="417.42" width="431.80" height="0.95" fill="#7499a2"/><rect x="448.80" y="417.42" width="17.20" height="0.95" fill="#ebe98a"/><rect x="466.00" y="417.42" width="39.00" height="0.95" fill="#7c383a"/><rect x="17.00" y="420.01" width="375.30" height="0.95" fill="#7499a2"/><rect x="392.30" y="420.01" width="73.70" height="0.95" fill="#ebe98a"/><rect x="466.00" y="420.01" width="39.00" height="0.95" fill="#7c383a"/><rect x="17.00" y="422.60" width="284.30" height="0.95" fill="#7499a2"/><rect x="301.30" y="422.60" width="164.20" height="0.95" fill="#ebe98a"/><rect x="465.50" y="422.60" width="39.50" height="0.95" fill="#7c383a"/><rect x="17.00" y="425.19" width="162.00" height="0.95" fill="#7499a2"/><rect x="179.00" y="425.19" width="286.50" height="0.95" fill="#ebe98a"/><rect x="465.50" y="425.19" width="39.50" height="0.95" fill="#7c383a"/><rect x="17.00" y="427.78" width="395.00" height="0.95" fill="#7499a2"/><rect x="412.00" y="427.78" width="52.80" height="0.95" fill="#ebe98a"/><rect x="464.80" y="427.78" width="40.20" height="0.95" fill="#7c383a"/><rect x="17.00" y="430.37" width="343.30" height="0.95" fill="#7499a2"/><rect x="360.30" y="430.37" width="103.70" height="0.95" fill="#ebe98a"/><rect x="464.00" y="430.37" width="41.00" height="0.95" fill="#7c383a"/><rect x="17.00" y="432.96" width="343.00" height="0.95" fill="#7499a2"/><rect x="360.00" y="432.96" width="103.80" height="0.95" fill="#ebe98a"/><rect x="463.80" y="432.96" width="41.20" height="0.95" fill="#7c383a"/><rect x="17.00" y="435.55" width="422.00" height="0.95" fill="#7499a2"/><rect x="439.00" y="435.55" width="24.50" height="0.95" fill="#ebe98a"/><rect x="463.50" y="435.55" width="41.50" height="0.95" fill="#7c383a"/><rect x="17.00" y="438.14" width="439.20" height="0.95" fill="#7499a2"/><rect x="456.20" y="438.14" width="6.80" height="0.95" fill="#ebe98a"/><rect x="463.00" y="438.14" width="42.00" height="0.95" fill="#7c383a"/><rect x="17.00" y="440.73" width="441.60" height="0.95" fill="#7499a2"/><rect x="458.60" y="440.73" width="3.70" height="0.95" fill="#ebe98a"/><rect x="462.30" y="440.73" width="42.70" height="0.95" fill="#7c383a"/><rect x="17.00" y="443.32" width="444.00" height="0.95" fill="#7499a2"/><rect x="461.00" y="443.32" width="0.60" height="0.95" fill="#ebe98a"/><rect x="461.60" y="443.32" width="43.40" height="0.95" fill="#7c383a"/><rect x="17.00" y="445.91" width="355.60" height="0.95" fill="#7499a2"/><rect x="372.60" y="445.91" width="88.40" height="0.95" fill="#ebe98a"/><rect x="461.00" y="445.91" width="44.00" height="0.95" fill="#7c383a"/><rect x="17.00" y="448.50" width="373.00" height="0.95" fill="#7499a2"/><rect x="390.00" y="448.50" width="70.60" height="0.95" fill="#ebe98a"/><rect x="460.60" y="448.50" width="44.40" height="0.95" fill="#7c383a"/><rect x="17.00" y="451.09" width="291.70" height="0.95" fill="#7499a2"/><rect x="308.70" y="451.09" width="149.90" height="0.95" fill="#ebe98a"/><rect x="458.60" y="451.09" width="46.40" height="0.95" fill="#7c383a"/><rect x="17.00" y="453.68" width="323.60" height="0.95" fill="#7499a2"/><rect x="340.60" y="453.68" width="118.00" height="0.95" fill="#ebe98a"/><rect x="458.60" y="453.68" width="46.40" height="0.95" fill="#7c383a"/><rect x="17.00" y="456.27" width="321.20" height="0.95" fill="#7499a2"/><rect x="338.20" y="456.27" width="119.90" height="0.95" fill="#ebe98a"/><rect x="458.10" y="456.27" width="46.90" height="0.95" fill="#7c383a"/><rect x="17.00" y="458.86" width="393.70" height="0.95" fill="#7499a2"/><rect x="410.70" y="458.86" width="47.20" height="0.95" fill="#ebe98a"/><rect x="457.90" y="458.86" width="47.10" height="0.95" fill="#7c383a"/><rect x="17.00" y="461.45" width="417.00" height="0.95" fill="#7499a2"/><rect x="434.00" y="461.45" width="23.40" height="0.95" fill="#ebe98a"/><rect x="457.40" y="461.45" width="47.60" height="0.95" fill="#7c383a"/><rect x="17.00" y="464.04" width="428.10" height="0.95" fill="#7499a2"/><rect x="445.10" y="464.04" width="11.80" height="0.95" fill="#ebe98a"/><rect x="456.90" y="464.04" width="48.10" height="0.95" fill="#7c383a"/><rect x="17.00" y="466.63" width="372.80" height="0.95" fill="#7499a2"/><rect x="389.80" y="466.63" width="66.80" height="0.95" fill="#ebe98a"/><rect x="456.60" y="466.63" width="48.40" height="0.95" fill="#7c383a"/><rect x="17.00" y="469.22" width="422.00" height="0.95" fill="#7499a2"/><rect x="439.00" y="469.22" width="17.20" height="0.95" fill="#ebe98a"/><rect x="456.20" y="469.22" width="48.80" height="0.95" fill="#7c383a"/><rect x="17.00" y="471.81" width="428.10" height="0.95" fill="#7499a2"/><rect x="445.10" y="471.81" width="10.60" height="0.95" fill="#ebe98a"/><rect x="455.70" y="471.81" width="49.30" height="0.95" fill="#7c383a"/><rect x="17.00" y="474.40" width="328.60" height="0.95" fill="#7499a2"/><rect x="345.60" y="474.40" width="109.80" height="0.95" fill="#ebe98a"/><rect x="455.40" y="474.40" width="49.60" height="0.95" fill="#7c383a"/><rect x="17.00" y="476.99" width="425.60" height="0.95" fill="#7499a2"/><rect x="442.60" y="476.99" width="12.30" height="0.95" fill="#ebe98a"/><rect x="454.90" y="476.99" width="50.10" height="0.95" fill="#7c383a"/><rect x="17.00" y="479.58" width="301.50" height="0.95" fill="#7499a2"/><rect x="318.50" y="479.58" width="135.90" height="0.95" fill="#ebe98a"/><rect x="454.40" y="479.58" width="50.60" height="0.95" fill="#7c383a"/><rect x="17.00" y="482.17" width="263.40" height="0.95" fill="#7499a2"/><rect x="280.40" y="482.17" width="173.80" height="0.95" fill="#ebe98a"/><rect x="454.20" y="482.17" width="50.80" height="0.95" fill="#7c383a"/><rect x="17.00" y="484.76" width="306.40" height="0.95" fill="#7499a2"/><rect x="323.40" y="484.76" width="130.30" height="0.95" fill="#ebe98a"/><rect x="453.70" y="484.76" width="51.30" height="0.95" fill="#7c383a"/><rect x="17.00" y="487.35" width="434.20" height="0.95" fill="#7499a2"/><rect x="451.20" y="487.35" width="2.00" height="0.95" fill="#ebe98a"/><rect x="453.20" y="487.35" width="51.80" height="0.95" fill="#7c383a"/><rect x="17.00" y="489.94" width="392.50" height="0.95" fill="#7499a2"/><rect x="409.50" y="489.94" width="43.20" height="0.95" fill="#ebe98a"/><rect x="452.70" y="489.94" width="52.30" height="0.95" fill="#7c383a"/><rect x="17.00" y="492.53" width="382.60" height="0.95" fill="#7499a2"/><rect x="399.60" y="492.53" width="52.90" height="0.95" fill="#ebe98a"/><rect x="452.50" y="492.53" width="52.50" height="0.95" fill="#7c383a"/><rect x="17.00" y="495.12" width="380.20" height="0.95" fill="#7499a2"/><rect x="397.20" y="495.12" width="54.80" height="0.95" fill="#ebe98a"/><rect x="452.00" y="495.12" width="53.00" height="0.95" fill="#7c383a"/><rect x="17.00" y="497.71" width="329.80" height="0.95" fill="#7499a2"/><rect x="346.80" y="497.71" width="104.90" height="0.95" fill="#ebe98a"/><rect x="451.70" y="497.71" width="53.30" height="0.95" fill="#7c383a"/><rect x="17.00" y="500.30" width="323.60" height="0.95" fill="#7499a2"/><rect x="340.60" y="500.30" width="110.60" height="0.95" fill="#ebe98a"/><rect x="451.20" y="500.30" width="53.80" height="0.95" fill="#7c383a"/><rect x="17.00" y="502.89" width="414.60" height="0.95" fill="#7499a2"/><rect x="431.60" y="502.89" width="19.10" height="0.95" fill="#ebe98a"/><rect x="450.70" y="502.89" width="54.30" height="0.95" fill="#7c383a"/><rect x="17.00" y="505.48" width="363.00" height="0.95" fill="#7499a2"/><rect x="380.00" y="505.48" width="70.50" height="0.95" fill="#ebe98a"/><rect x="450.50" y="505.48" width="54.50" height="0.95" fill="#7c383a"/><rect x="17.00" y="508.07" width="412.10" height="0.95" fill="#7499a2"/><rect x="429.10" y="508.07" width="20.90" height="0.95" fill="#ebe98a"/><rect x="450.00" y="508.07" width="55.00" height="0.95" fill="#7c383a"/><rect x="17.00" y="510.66" width="392.50" height="0.95" fill="#7499a2"/><rect x="409.50" y="510.66" width="40.30" height="0.95" fill="#ebe98a"/><rect x="449.80" y="510.66" width="55.20" height="0.95" fill="#7c383a"/><rect x="17.00" y="513.25" width="381.40" height="0.95" fill="#7499a2"/><rect x="398.40" y="513.25" width="50.90" height="0.95" fill="#ebe98a"/><rect x="449.30" y="513.25" width="55.70" height="0.95" fill="#7c383a"/><rect x="17.00" y="515.84" width="377.70" height="0.95" fill="#7499a2"/><rect x="394.70" y="515.84" width="54.10" height="0.95" fill="#ebe98a"/><rect x="448.80" y="515.84" width="56.20" height="0.95" fill="#7c383a"/><rect x="17.00" y="518.43" width="323.60" height="0.95" fill="#7499a2"/><rect x="340.60" y="518.43" width="107.70" height="0.95" fill="#ebe98a"/><rect x="448.30" y="518.43" width="56.70" height="0.95" fill="#7c383a"/><rect x="17.00" y="521.02" width="321.20" height="0.95" fill="#7499a2"/><rect x="338.20" y="521.02" width="109.30" height="0.95" fill="#ebe98a"/><rect x="447.50" y="521.02" width="57.50" height="0.95" fill="#7c383a"/><rect x="17.00" y="523.61" width="365.40" height="0.95" fill="#7499a2"/><rect x="382.40" y="523.61" width="64.40" height="0.95" fill="#ebe98a"/><rect x="446.80" y="523.61" width="58.20" height="0.95" fill="#7c383a"/><rect x="17.00" y="526.20" width="317.50" height="0.95" fill="#7499a2"/><rect x="334.50" y="526.20" width="109.40" height="0.95" fill="#ebe98a"/><rect x="443.90" y="526.20" width="61.10" height="0.95" fill="#7c383a"/><rect x="17.00" y="528.79" width="408.40" height="0.95" fill="#7499a2"/><rect x="425.40" y="528.79" width="18.00" height="0.95" fill="#ebe98a"/><rect x="443.40" y="528.79" width="61.60" height="0.95" fill="#7c383a"/><rect x="17.00" y="531.38" width="281.90" height="0.95" fill="#7499a2"/><rect x="298.90" y="531.38" width="143.70" height="0.95" fill="#ebe98a"/><rect x="442.60" y="531.38" width="62.40" height="0.95" fill="#7c383a"/><rect x="17.00" y="533.97" width="358.00" height="0.95" fill="#7499a2"/><rect x="375.00" y="533.97" width="66.40" height="0.95" fill="#ebe98a"/><rect x="441.40" y="533.97" width="63.60" height="0.95" fill="#7c383a"/><rect x="17.00" y="536.56" width="279.40" height="0.95" fill="#7499a2"/><rect x="296.40" y="536.56" width="144.50" height="0.95" fill="#ebe98a"/><rect x="440.90" y="536.56" width="64.10" height="0.95" fill="#7c383a"/><rect x="17.00" y="539.15" width="422.00" height="0.95" fill="#7499a2"/><rect x="439.00" y="539.15" width="1.40" height="0.95" fill="#ebe98a"/><rect x="440.40" y="539.15" width="64.60" height="0.95" fill="#7c383a"/><rect x="17.00" y="541.74" width="284.30" height="0.95" fill="#7499a2"/><rect x="301.30" y="541.74" width="138.90" height="0.95" fill="#ebe98a"/><rect x="440.20" y="541.74" width="64.80" height="0.95" fill="#7c383a"/><rect x="17.00" y="544.33" width="99.50" height="0.95" fill="#7499a2"/><rect x="116.50" y="544.33" width="322.90" height="0.95" fill="#ebe98a"/><rect x="439.40" y="544.33" width="65.60" height="0.95" fill="#7c383a"/><rect x="17.00" y="546.92" width="403.50" height="0.95" fill="#7499a2"/><rect x="420.50" y="546.92" width="18.50" height="0.95" fill="#ebe98a"/><rect x="439.00" y="546.92" width="66.00" height="0.95" fill="#7c383a"/><rect x="17.00" y="549.51" width="402.30" height="0.95" fill="#7499a2"/><rect x="419.30" y="549.51" width="19.20" height="0.95" fill="#ebe98a"/><rect x="438.50" y="549.51" width="66.50" height="0.95" fill="#7c383a"/><rect x="17.00" y="552.10" width="285.60" height="0.95" fill="#7499a2"/><rect x="302.60" y="552.10" width="135.40" height="0.95" fill="#ebe98a"/><rect x="438.00" y="552.10" width="67.00" height="0.95" fill="#7c383a"/><rect x="17.00" y="554.69" width="299.10" height="0.95" fill="#7499a2"/><rect x="316.10" y="554.69" width="121.40" height="0.95" fill="#ebe98a"/><rect x="437.50" y="554.69" width="67.50" height="0.95" fill="#7c383a"/><rect x="17.00" y="557.28" width="417.00" height="0.95" fill="#7499a2"/><rect x="434.00" y="557.28" width="3.00" height="0.95" fill="#ebe98a"/><rect x="437.00" y="557.28" width="68.00" height="0.95" fill="#7c383a"/><rect x="17.00" y="559.87" width="418.30" height="0.95" fill="#7499a2"/><rect x="435.30" y="559.87" width="1.20" height="0.95" fill="#ebe98a"/><rect x="436.50" y="559.87" width="68.50" height="0.95" fill="#7c383a"/><rect x="17.00" y="562.46" width="371.60" height="0.95" fill="#7499a2"/><rect x="388.60" y="562.46" width="47.40" height="0.95" fill="#ebe98a"/><rect x="436.00" y="562.46" width="69.00" height="0.95" fill="#7c383a"/><rect x="17.00" y="565.05" width="289.20" height="0.95" fill="#7499a2"/><rect x="306.20" y="565.05" width="129.30" height="0.95" fill="#ebe98a"/><rect x="435.50" y="565.05" width="69.50" height="0.95" fill="#7c383a"/><rect x="17.00" y="567.64" width="278.20" height="0.95" fill="#7499a2"/><rect x="295.20" y="567.64" width="140.10" height="0.95" fill="#ebe98a"/><rect x="435.30" y="567.64" width="69.70" height="0.95" fill="#7c383a"/><rect x="17.00" y="570.23" width="209.00" height="0.95" fill="#7499a2"/><rect x="226.00" y="570.23" width="208.80" height="0.95" fill="#ebe98a"/><rect x="434.80" y="570.23" width="70.20" height="0.95" fill="#7c383a"/><rect x="17.00" y="572.82" width="382.60" height="0.95" fill="#7499a2"/><rect x="399.60" y="572.82" width="34.40" height="0.95" fill="#ebe98a"/><rect x="434.00" y="572.82" width="71.00" height="0.95" fill="#7c383a"/><rect x="17.00" y="575.41" width="350.70" height="0.95" fill="#7499a2"/><rect x="367.70" y="575.41" width="65.80" height="0.95" fill="#ebe98a"/><rect x="433.50" y="575.41" width="71.50" height="0.95" fill="#7c383a"/><rect x="17.00" y="578.00" width="359.30" height="0.95" fill="#7499a2"/><rect x="376.30" y="578.00" width="56.70" height="0.95" fill="#ebe98a"/><rect x="433.00" y="578.00" width="72.00" height="0.95" fill="#7c383a"/><rect x="17.00" y="580.59" width="367.90" height="0.95" fill="#7499a2"/><rect x="384.90" y="580.59" width="47.70" height="0.95" fill="#ebe98a"/><rect x="432.60" y="580.59" width="72.40" height="0.95" fill="#7c383a"/><rect x="17.00" y="583.18" width="378.90" height="0.95" fill="#7499a2"/><rect x="395.90" y="583.18" width="36.20" height="0.95" fill="#ebe98a"/><rect x="432.10" y="583.18" width="72.90" height="0.95" fill="#7c383a"/><rect x="17.00" y="585.77" width="404.70" height="0.95" fill="#7499a2"/><rect x="421.70" y="585.77" width="9.90" height="0.95" fill="#ebe98a"/><rect x="431.60" y="585.77" width="73.40" height="0.95" fill="#7c383a"/><rect x="17.00" y="588.36" width="225.00" height="0.95" fill="#7499a2"/><rect x="242.00" y="588.36" width="189.10" height="0.95" fill="#ebe98a"/><rect x="431.10" y="588.36" width="73.90" height="0.95" fill="#7c383a"/><rect x="17.00" y="590.95" width="88.00" height="0.95" fill="#7499a2"/><rect x="105.00" y="590.95" width="325.30" height="0.95" fill="#ebe98a"/><rect x="430.30" y="590.95" width="74.70" height="0.95" fill="#7c383a"/><rect x="17.00" y="593.54" width="254.80" height="0.95" fill="#7499a2"/><rect x="271.80" y="593.54" width="157.30" height="0.95" fill="#ebe98a"/><rect x="429.10" y="593.54" width="75.90" height="0.95" fill="#7c383a"/><rect x="17.00" y="596.13" width="360.50" height="0.95" fill="#7499a2"/><rect x="377.50" y="596.13" width="50.40" height="0.95" fill="#ebe98a"/><rect x="427.90" y="596.13" width="77.10" height="0.95" fill="#7c383a"/><rect x="17.00" y="598.72" width="382.60" height="0.95" fill="#7499a2"/><rect x="399.60" y="598.72" width="27.10" height="0.95" fill="#ebe98a"/><rect x="426.70" y="598.72" width="78.30" height="0.95" fill="#7c383a"/><rect x="17.00" y="601.31" width="228.50" height="0.95" fill="#7499a2"/><rect x="245.50" y="601.31" width="179.90" height="0.95" fill="#ebe98a"/><rect x="425.40" y="601.31" width="79.60" height="0.95" fill="#7c383a"/><rect x="17.00" y="603.90" width="40.60" height="0.95" fill="#7499a2"/><rect x="57.60" y="603.90" width="366.60" height="0.95" fill="#ebe98a"/><rect x="424.20" y="603.90" width="80.80" height="0.95" fill="#7c383a"/><rect x="17.00" y="606.49" width="402.30" height="0.95" fill="#7499a2"/><rect x="419.30" y="606.49" width="2.40" height="0.95" fill="#ebe98a"/><rect x="421.70" y="606.49" width="83.30" height="0.95" fill="#7c383a"/><rect x="17.00" y="609.08" width="339.60" height="0.95" fill="#7499a2"/><rect x="356.60" y="609.08" width="63.90" height="0.95" fill="#ebe98a"/><rect x="420.50" y="609.08" width="84.50" height="0.95" fill="#7c383a"/><rect x="17.00" y="611.67" width="387.50" height="0.95" fill="#7499a2"/><rect x="404.50" y="611.67" width="14.80" height="0.95" fill="#ebe98a"/><rect x="419.30" y="611.67" width="85.70" height="0.95" fill="#7c383a"/><rect x="17.00" y="614.26" width="388.80" height="0.95" fill="#7499a2"/><rect x="405.80" y="614.26" width="13.00" height="0.95" fill="#ebe98a"/><rect x="418.80" y="614.26" width="86.20" height="0.95" fill="#7c383a"/><rect x="17.00" y="616.85" width="332.20" height="0.95" fill="#7499a2"/><rect x="349.20" y="616.85" width="69.10" height="0.95" fill="#ebe98a"/><rect x="418.30" y="616.85" width="86.70" height="0.95" fill="#7c383a"/><rect x="17.00" y="619.44" width="238.00" height="0.95" fill="#7499a2"/><rect x="255.00" y="619.44" width="162.80" height="0.95" fill="#ebe98a"/><rect x="417.80" y="619.44" width="87.20" height="0.95" fill="#7c383a"/><rect x="17.00" y="622.03" width="365.40" height="0.95" fill="#7499a2"/><rect x="382.40" y="622.03" width="34.90" height="0.95" fill="#ebe98a"/><rect x="417.30" y="622.03" width="87.70" height="0.95" fill="#7c383a"/><rect x="17.00" y="624.62" width="291.70" height="0.95" fill="#7499a2"/><rect x="308.70" y="624.62" width="108.10" height="0.95" fill="#ebe98a"/><rect x="416.80" y="624.62" width="88.20" height="0.95" fill="#7c383a"/><rect x="17.00" y="627.21" width="232.00" height="0.95" fill="#7499a2"/><rect x="249.00" y="627.21" width="167.30" height="0.95" fill="#ebe98a"/><rect x="416.30" y="627.21" width="88.70" height="0.95" fill="#7c383a"/><rect x="17.00" y="629.80" width="108.10" height="0.95" fill="#7499a2"/><rect x="125.10" y="629.80" width="290.50" height="0.95" fill="#ebe98a"/><rect x="415.60" y="629.80" width="89.40" height="0.95" fill="#7c383a"/><rect x="17.00" y="632.39" width="381.40" height="0.95" fill="#7499a2"/><rect x="398.40" y="632.39" width="16.50" height="0.95" fill="#ebe98a"/><rect x="414.90" y="632.39" width="90.10" height="0.95" fill="#7c383a"/><rect x="17.00" y="634.98" width="349.40" height="0.95" fill="#7499a2"/><rect x="366.40" y="634.98" width="48.00" height="0.95" fill="#ebe98a"/><rect x="414.40" y="634.98" width="90.60" height="0.95" fill="#7c383a"/><rect x="17.00" y="637.57" width="256.00" height="0.95" fill="#7499a2"/><rect x="273.00" y="637.57" width="140.60" height="0.95" fill="#ebe98a"/><rect x="413.60" y="637.57" width="91.40" height="0.95" fill="#7c383a"/><rect x="17.00" y="640.16" width="238.00" height="0.95" fill="#7499a2"/><rect x="255.00" y="640.16" width="157.40" height="0.95" fill="#ebe98a"/><rect x="412.40" y="640.16" width="92.60" height="0.95" fill="#7c383a"/><rect x="17.00" y="642.75" width="388.80" height="0.95" fill="#7499a2"/><rect x="405.80" y="642.75" width="3.70" height="0.95" fill="#ebe98a"/><rect x="409.50" y="642.75" width="95.50" height="0.95" fill="#7c383a"/><rect x="17.00" y="645.34" width="390.00" height="0.95" fill="#7499a2"/><rect x="407.00" y="645.34" width="1.20" height="0.95" fill="#ebe98a"/><rect x="408.20" y="645.34" width="96.80" height="0.95" fill="#7c383a"/><rect x="17.00" y="647.93" width="390.00" height="0.95" fill="#7499a2"/><rect x="407.00" y="647.93" width="0.50" height="0.95" fill="#ebe98a"/><rect x="407.50" y="647.93" width="97.50" height="0.95" fill="#7c383a"/><rect x="17.00" y="650.52" width="390.00" height="0.95" fill="#7499a2"/><rect x="407.00" y="650.52" width="98.00" height="0.95" fill="#7c383a"/><rect x="17.00" y="653.11" width="313.80" height="0.95" fill="#7499a2"/><rect x="330.80" y="653.11" width="75.00" height="0.95" fill="#ebe98a"/><rect x="405.80" y="653.11" width="99.20" height="0.95" fill="#7c383a"/><rect x="17.00" y="655.70" width="76.20" height="0.95" fill="#7499a2"/><rect x="93.20" y="655.70" width="311.30" height="0.95" fill="#ebe98a"/><rect x="404.50" y="655.70" width="100.50" height="0.95" fill="#7c383a"/><rect x="17.00" y="658.29" width="313.80" height="0.95" fill="#7499a2"/><rect x="330.80" y="658.29" width="72.50" height="0.95" fill="#ebe98a"/><rect x="403.30" y="658.29" width="101.70" height="0.95" fill="#7c383a"/><rect x="17.00" y="660.88" width="279.40" height="0.95" fill="#7499a2"/><rect x="296.40" y="660.88" width="105.70" height="0.95" fill="#ebe98a"/><rect x="402.10" y="660.88" width="102.90" height="0.95" fill="#7c383a"/><rect x="17.00" y="663.47" width="172.00" height="0.95" fill="#7499a2"/><rect x="189.00" y="663.47" width="211.90" height="0.95" fill="#ebe98a"/><rect x="400.90" y="663.47" width="104.10" height="0.95" fill="#7c383a"/><rect x="17.00" y="666.06" width="238.00" height="0.95" fill="#7499a2"/><rect x="255.00" y="666.06" width="145.10" height="0.95" fill="#ebe98a"/><rect x="400.10" y="666.06" width="104.90" height="0.95" fill="#7c383a"/><rect x="17.00" y="668.65" width="234.70" height="0.95" fill="#7499a2"/><rect x="251.70" y="668.65" width="147.40" height="0.95" fill="#ebe98a"/><rect x="399.10" y="668.65" width="105.90" height="0.95" fill="#7c383a"/><rect x="17.00" y="671.24" width="323.60" height="0.95" fill="#7499a2"/><rect x="340.60" y="671.24" width="57.80" height="0.95" fill="#ebe98a"/><rect x="398.40" y="671.24" width="106.60" height="0.95" fill="#7c383a"/><rect x="17.00" y="673.83" width="252.40" height="0.95" fill="#7499a2"/><rect x="269.40" y="673.83" width="127.80" height="0.95" fill="#ebe98a"/><rect x="397.20" y="673.83" width="107.80" height="0.95" fill="#7c383a"/><rect x="17.00" y="676.42" width="238.00" height="0.95" fill="#7499a2"/><rect x="255.00" y="676.42" width="140.90" height="0.95" fill="#ebe98a"/><rect x="395.90" y="676.42" width="109.10" height="0.95" fill="#7c383a"/><rect x="17.00" y="679.01" width="301.50" height="0.95" fill="#7499a2"/><rect x="318.50" y="679.01" width="76.20" height="0.95" fill="#ebe98a"/><rect x="394.70" y="679.01" width="110.30" height="0.95" fill="#7c383a"/><rect x="17.00" y="681.60" width="81.10" height="0.95" fill="#7499a2"/><rect x="98.10" y="681.60" width="291.70" height="0.95" fill="#ebe98a"/><rect x="389.80" y="681.60" width="115.20" height="0.95" fill="#7c383a"/><rect x="17.00" y="684.19" width="368.00" height="0.95" fill="#7499a2"/><rect x="385.00" y="684.19" width="3.00" height="0.95" fill="#ebe98a"/><rect x="388.00" y="684.19" width="117.00" height="0.95" fill="#7c383a"/><rect x="17.00" y="686.78" width="216.30" height="0.95" fill="#7499a2"/><rect x="233.30" y="686.78" width="152.80" height="0.95" fill="#ebe98a"/><rect x="386.10" y="686.78" width="118.90" height="0.95" fill="#7c383a"/><rect x="17.00" y="689.37" width="243.00" height="0.95" fill="#7499a2"/><rect x="260.00" y="689.37" width="124.90" height="0.95" fill="#ebe98a"/><rect x="384.90" y="689.37" width="120.10" height="0.95" fill="#7c383a"/><rect x="17.00" y="691.96" width="241.00" height="0.95" fill="#7499a2"/><rect x="258.00" y="691.96" width="125.60" height="0.95" fill="#ebe98a"/><rect x="383.60" y="691.96" width="121.40" height="0.95" fill="#7c383a"/><rect x="17.00" y="694.55" width="210.10" height="0.95" fill="#7499a2"/><rect x="227.10" y="694.55" width="155.30" height="0.95" fill="#ebe98a"/><rect x="382.40" y="694.55" width="122.60" height="0.95" fill="#7c383a"/><rect x="17.00" y="697.14" width="310.10" height="0.95" fill="#7499a2"/><rect x="327.10" y="697.14" width="54.10" height="0.95" fill="#ebe98a"/><rect x="381.20" y="697.14" width="123.80" height="0.95" fill="#7c383a"/><rect x="17.00" y="699.73" width="316.30" height="0.95" fill="#7499a2"/><rect x="333.30" y="699.73" width="46.70" height="0.95" fill="#ebe98a"/><rect x="380.00" y="699.73" width="125.00" height="0.95" fill="#7c383a"/><rect x="17.00" y="702.32" width="310.10" height="0.95" fill="#7499a2"/><rect x="327.10" y="702.32" width="51.60" height="0.95" fill="#ebe98a"/><rect x="378.70" y="702.32" width="126.30" height="0.95" fill="#7c383a"/><rect x="17.00" y="704.91" width="72.50" height="0.95" fill="#7499a2"/><rect x="89.50" y="704.91" width="288.00" height="0.95" fill="#ebe98a"/><rect x="377.50" y="704.91" width="127.50" height="0.95" fill="#7c383a"/><rect x="17.00" y="707.50" width="205.20" height="0.95" fill="#7499a2"/><rect x="222.20" y="707.50" width="152.80" height="0.95" fill="#ebe98a"/><rect x="375.00" y="707.50" width="130.00" height="0.95" fill="#7c383a"/><rect x="17.00" y="710.09" width="355.60" height="0.95" fill="#7499a2"/><rect x="372.60" y="710.09" width="1.20" height="0.95" fill="#ebe98a"/><rect x="373.80" y="710.09" width="131.20" height="0.95" fill="#7c383a"/><rect x="17.00" y="712.68" width="286.80" height="0.95" fill="#7499a2"/><rect x="303.80" y="712.68" width="68.80" height="0.95" fill="#ebe98a"/><rect x="372.60" y="712.68" width="132.40" height="0.95" fill="#7c383a"/><rect x="17.00" y="715.27" width="291.70" height="0.95" fill="#7499a2"/><rect x="308.70" y="715.27" width="62.70" height="0.95" fill="#ebe98a"/><rect x="371.40" y="715.27" width="133.60" height="0.95" fill="#7c383a"/><rect x="17.00" y="717.86" width="161.00" height="0.95" fill="#7499a2"/><rect x="178.00" y="717.86" width="192.10" height="0.95" fill="#ebe98a"/><rect x="370.10" y="717.86" width="134.90" height="0.95" fill="#7c383a"/><rect x="17.00" y="720.45" width="343.30" height="0.95" fill="#7499a2"/><rect x="360.30" y="720.45" width="7.90" height="0.95" fill="#ebe98a"/><rect x="368.20" y="720.45" width="136.80" height="0.95" fill="#7c383a"/><rect x="17.00" y="723.04" width="162.20" height="0.95" fill="#7499a2"/><rect x="179.20" y="723.04" width="187.20" height="0.95" fill="#ebe98a"/><rect x="366.40" y="723.04" width="138.60" height="0.95" fill="#7c383a"/><rect x="17.00" y="725.63" width="344.50" height="0.95" fill="#7499a2"/><rect x="361.50" y="725.63" width="3.70" height="0.95" fill="#ebe98a"/><rect x="365.20" y="725.63" width="139.80" height="0.95" fill="#7c383a"/><rect x="17.00" y="728.22" width="234.70" height="0.95" fill="#7499a2"/><rect x="251.70" y="728.22" width="112.30" height="0.95" fill="#ebe98a"/><rect x="364.00" y="728.22" width="141.00" height="0.95" fill="#7c383a"/><rect x="17.00" y="730.81" width="243.00" height="0.95" fill="#7499a2"/><rect x="260.00" y="730.81" width="102.80" height="0.95" fill="#ebe98a"/><rect x="362.80" y="730.81" width="142.20" height="0.95" fill="#7c383a"/><rect x="17.00" y="733.40" width="202.80" height="0.95" fill="#7499a2"/><rect x="219.80" y="733.40" width="141.70" height="0.95" fill="#ebe98a"/><rect x="361.50" y="733.40" width="143.50" height="0.95" fill="#7c383a"/><rect x="17.00" y="735.99" width="62.70" height="0.95" fill="#7499a2"/><rect x="79.70" y="735.99" width="276.90" height="0.95" fill="#ebe98a"/><rect x="356.60" y="735.99" width="148.40" height="0.95" fill="#7c383a"/><rect x="17.00" y="738.58" width="172.00" height="0.95" fill="#7499a2"/><rect x="189.00" y="738.58" width="166.40" height="0.95" fill="#ebe98a"/><rect x="355.40" y="738.58" width="149.60" height="0.95" fill="#7c383a"/><rect x="17.00" y="741.17" width="323.60" height="0.95" fill="#7499a2"/><rect x="340.60" y="741.17" width="13.60" height="0.95" fill="#ebe98a"/><rect x="354.20" y="741.17" width="150.80" height="0.95" fill="#7c383a"/><rect x="17.00" y="743.76" width="231.00" height="0.95" fill="#7499a2"/><rect x="248.00" y="743.76" width="104.40" height="0.95" fill="#ebe98a"/><rect x="352.40" y="743.76" width="152.60" height="0.95" fill="#7c383a"/><rect x="17.00" y="746.35" width="103.20" height="0.95" fill="#7499a2"/><rect x="120.20" y="746.35" width="230.30" height="0.95" fill="#ebe98a"/><rect x="350.50" y="746.35" width="154.50" height="0.95" fill="#7c383a"/><rect x="17.00" y="748.94" width="234.70" height="0.95" fill="#7499a2"/><rect x="251.70" y="748.94" width="93.90" height="0.95" fill="#ebe98a"/><rect x="345.60" y="748.94" width="159.40" height="0.95" fill="#7c383a"/><rect x="17.00" y="751.53" width="206.40" height="0.95" fill="#7499a2"/><rect x="223.40" y="751.53" width="114.80" height="0.95" fill="#ebe98a"/><rect x="338.20" y="751.53" width="166.80" height="0.95" fill="#7c383a"/><rect x="17.00" y="754.12" width="216.30" height="0.95" fill="#7499a2"/><rect x="233.30" y="754.12" width="103.70" height="0.95" fill="#ebe98a"/><rect x="337.00" y="754.12" width="168.00" height="0.95" fill="#7c383a"/><rect x="17.00" y="756.71" width="243.00" height="0.95" fill="#7499a2"/><rect x="260.00" y="756.71" width="75.70" height="0.95" fill="#ebe98a"/><rect x="335.70" y="756.71" width="169.30" height="0.95" fill="#7c383a"/><rect x="17.00" y="759.30" width="81.10" height="0.95" fill="#7499a2"/><rect x="98.10" y="759.30" width="235.20" height="0.95" fill="#ebe98a"/><rect x="333.30" y="759.30" width="171.70" height="0.95" fill="#7c383a"/><rect x="17.00" y="761.89" width="291.70" height="0.95" fill="#7499a2"/><rect x="308.70" y="761.89" width="23.30" height="0.95" fill="#ebe98a"/><rect x="332.00" y="761.89" width="173.00" height="0.95" fill="#7c383a"/><rect x="17.00" y="764.48" width="231.00" height="0.95" fill="#7499a2"/><rect x="248.00" y="764.48" width="82.80" height="0.95" fill="#ebe98a"/><rect x="330.80" y="764.48" width="174.20" height="0.95" fill="#7c383a"/><rect x="17.00" y="767.07" width="243.00" height="0.95" fill="#7499a2"/><rect x="260.00" y="767.07" width="68.80" height="0.95" fill="#ebe98a"/><rect x="328.80" y="767.07" width="176.20" height="0.95" fill="#7c383a"/><rect x="17.00" y="769.66" width="113.00" height="0.95" fill="#7499a2"/><rect x="130.00" y="769.66" width="197.10" height="0.95" fill="#ebe98a"/><rect x="327.10" y="769.66" width="177.90" height="0.95" fill="#7c383a"/><rect x="17.00" y="772.25" width="205.20" height="0.95" fill="#7499a2"/><rect x="222.20" y="772.25" width="103.20" height="0.95" fill="#ebe98a"/><rect x="325.40" y="772.25" width="179.60" height="0.95" fill="#7c383a"/><rect x="17.00" y="774.84" width="243.00" height="0.95" fill="#7499a2"/><rect x="260.00" y="774.84" width="63.90" height="0.95" fill="#ebe98a"/><rect x="323.90" y="774.84" width="181.10" height="0.95" fill="#7c383a"/><rect x="17.00" y="777.43" width="263.40" height="0.95" fill="#7499a2"/><rect x="280.40" y="777.43" width="41.80" height="0.95" fill="#ebe98a"/><rect x="322.20" y="777.43" width="182.80" height="0.95" fill="#7c383a"/><rect x="17.00" y="780.02" width="243.00" height="0.95" fill="#7499a2"/><rect x="260.00" y="780.02" width="60.50" height="0.95" fill="#ebe98a"/><rect x="320.50" y="780.02" width="184.50" height="0.95" fill="#7c383a"/><rect x="17.00" y="782.61" width="150.00" height="0.95" fill="#7499a2"/><rect x="167.00" y="782.61" width="149.10" height="0.95" fill="#ebe98a"/><rect x="316.10" y="782.61" width="188.90" height="0.95" fill="#7c383a"/><rect x="17.00" y="785.20" width="189.00" height="0.95" fill="#7499a2"/><rect x="206.00" y="785.20" width="107.60" height="0.95" fill="#ebe98a"/><rect x="313.60" y="785.20" width="191.40" height="0.95" fill="#7c383a"/><rect x="17.00" y="787.79" width="291.70" height="0.95" fill="#7499a2"/><rect x="308.70" y="787.79" width="2.50" height="0.95" fill="#ebe98a"/><rect x="311.20" y="787.79" width="193.80" height="0.95" fill="#7c383a"/><rect x="17.00" y="790.38" width="113.00" height="0.95" fill="#7499a2"/><rect x="130.00" y="790.38" width="179.90" height="0.95" fill="#ebe98a"/><rect x="309.90" y="790.38" width="195.10" height="0.95" fill="#7c383a"/><rect x="17.00" y="792.97" width="70.00" height="0.95" fill="#7499a2"/><rect x="87.00" y="792.97" width="220.50" height="0.95" fill="#ebe98a"/><rect x="307.50" y="792.97" width="197.50" height="0.95" fill="#7c383a"/><rect x="17.00" y="795.56" width="209.00" height="0.95" fill="#7499a2"/><rect x="226.00" y="795.56" width="77.80" height="0.95" fill="#ebe98a"/><rect x="303.80" y="795.56" width="201.20" height="0.95" fill="#7c383a"/><rect x="17.00" y="798.15" width="157.00" height="0.95" fill="#7499a2"/><rect x="174.00" y="798.15" width="126.10" height="0.95" fill="#ebe98a"/><rect x="300.10" y="798.15" width="204.90" height="0.95" fill="#7c383a"/><rect x="17.00" y="800.74" width="166.00" height="0.95" fill="#7499a2"/><rect x="183.00" y="800.74" width="115.40" height="0.95" fill="#ebe98a"/><rect x="298.40" y="800.74" width="206.60" height="0.95" fill="#7c383a"/><rect x="17.00" y="803.33" width="243.00" height="0.95" fill="#7499a2"/><rect x="260.00" y="803.33" width="36.40" height="0.95" fill="#ebe98a"/><rect x="296.40" y="803.33" width="208.60" height="0.95" fill="#7c383a"/><rect x="17.00" y="805.92" width="77.00" height="0.95" fill="#7499a2"/><rect x="94.00" y="805.92" width="198.70" height="0.95" fill="#ebe98a"/><rect x="292.70" y="805.92" width="212.30" height="0.95" fill="#7c383a"/><rect x="17.00" y="808.51" width="243.00" height="0.95" fill="#7499a2"/><rect x="260.00" y="808.51" width="29.00" height="0.95" fill="#ebe98a"/><rect x="289.00" y="808.51" width="216.00" height="0.95" fill="#7c383a"/><rect x="17.00" y="811.10" width="201.50" height="0.95" fill="#7499a2"/><rect x="218.50" y="811.10" width="66.80" height="0.95" fill="#ebe98a"/><rect x="285.30" y="811.10" width="219.70" height="0.95" fill="#7c383a"/><rect x="17.00" y="813.69" width="243.00" height="0.95" fill="#7499a2"/><rect x="260.00" y="813.69" width="16.70" height="0.95" fill="#ebe98a"/><rect x="276.70" y="813.69" width="228.30" height="0.95" fill="#7c383a"/><rect x="17.00" y="816.28" width="162.20" height="0.95" fill="#7499a2"/><rect x="179.20" y="816.28" width="87.70" height="0.95" fill="#ebe98a"/><rect x="266.90" y="816.28" width="238.10" height="0.95" fill="#7c383a"/><rect x="17.00" y="818.87" width="183.00" height="0.95" fill="#7499a2"/><rect x="200.00" y="818.87" width="62.00" height="0.95" fill="#ebe98a"/><rect x="262.00" y="818.87" width="243.00" height="0.95" fill="#7c383a"/><rect x="17.00" y="821.46" width="241.00" height="0.95" fill="#7499a2"/><rect x="258.00" y="821.46" width="2.00" height="0.95" fill="#ebe98a"/><rect x="260.00" y="821.46" width="245.00" height="0.95" fill="#7c383a"/><rect x="17.00" y="824.05" width="150.00" height="0.95" fill="#7499a2"/><rect x="167.00" y="824.05" width="91.00" height="0.95" fill="#ebe98a"/><rect x="258.00" y="824.05" width="247.00" height="0.95" fill="#7c383a"/><rect x="17.00" y="826.64" width="54.00" height="0.95" fill="#7499a2"/><rect x="71.00" y="826.64" width="184.00" height="0.95" fill="#ebe98a"/><rect x="255.00" y="826.64" width="250.00" height="0.95" fill="#7c383a"/><rect x="17.00" y="829.23" width="93.40" height="0.95" fill="#7499a2"/><rect x="110.40" y="829.23" width="140.10" height="0.95" fill="#ebe98a"/><rect x="250.50" y="829.23" width="254.50" height="0.95" fill="#7c383a"/><rect x="17.00" y="831.82" width="142.50" height="0.95" fill="#7499a2"/><rect x="159.50" y="831.82" width="81.10" height="0.95" fill="#ebe98a"/><rect x="240.60" y="831.82" width="264.40" height="0.95" fill="#7c383a"/><rect x="17.00" y="834.41" width="115.50" height="0.95" fill="#7499a2"/><rect x="132.50" y="834.41" width="103.20" height="0.95" fill="#ebe98a"/><rect x="235.70" y="834.41" width="269.30" height="0.95" fill="#7c383a"/><rect x="17.00" y="837.00" width="212.00" height="0.95" fill="#7499a2"/><rect x="229.00" y="837.00" width="0.60" height="0.95" fill="#ebe98a"/><rect x="229.60" y="837.00" width="275.40" height="0.95" fill="#7c383a"/><rect x="17.00" y="839.59" width="72.50" height="0.95" fill="#7499a2"/><rect x="89.50" y="839.59" width="131.50" height="0.95" fill="#ebe98a"/><rect x="221.00" y="839.59" width="284.00" height="0.95" fill="#7c383a"/><rect x="17.00" y="842.18" width="162.20" height="0.95" fill="#7499a2"/><rect x="179.20" y="842.18" width="18.40" height="0.95" fill="#ebe98a"/><rect x="197.60" y="842.18" width="307.40" height="0.95" fill="#7c383a"/><rect x="17.00" y="844.77" width="167.00" height="0.95" fill="#7499a2"/><rect x="184.00" y="844.77" width="8.00" height="0.95" fill="#ebe98a"/><rect x="192.00" y="844.77" width="313.00" height="0.95" fill="#7c383a"/><rect x="17.00" y="847.36" width="123.00" height="0.95" fill="#7499a2"/><rect x="140.00" y="847.36" width="365.00" height="0.95" fill="#7c383a"/><rect x="17.00" y="849.95" width="57.80" height="0.95" fill="#7499a2"/><rect x="74.80" y="849.95" width="56.50" height="0.95" fill="#ebe98a"/><rect x="131.30" y="849.95" width="373.70" height="0.95" fill="#7c383a"/><rect x="17.00" y="852.54" width="57.00" height="0.95" fill="#7499a2"/><rect x="74.00" y="852.54" width="51.10" height="0.95" fill="#ebe98a"/><rect x="125.10" y="852.54" width="379.90" height="0.95" fill="#7c383a"/><rect x="506.50" y="34.10" width="199.00" height="1.35" fill="#000"/><rect x="506.50" y="36.69" width="146.50" height="1.35" fill="#000"/><rect x="506.50" y="39.28" width="134.50" height="1.35" fill="#000"/><rect x="506.50" y="41.87" width="101.50" height="1.35" fill="#000"/><rect x="506.50" y="44.46" width="96.50" height="1.35" fill="#000"/><rect x="506.50" y="47.05" width="92.50" height="1.35" fill="#000"/><rect x="506.50" y="49.64" width="88.00" height="1.35" fill="#000"/><rect x="506.50" y="52.23" width="78.50" height="1.35" fill="#000"/><rect x="506.50" y="54.82" width="75.50" height="1.35" fill="#000"/><rect x="506.50" y="57.41" width="66.50" height="1.35" fill="#000"/><rect x="506.50" y="60.00" width="66.50" height="1.35" fill="#000"/><rect x="506.50" y="62.59" width="64.00" height="1.35" fill="#000"/><rect x="506.50" y="65.18" width="54.50" height="1.35" fill="#000"/><rect x="506.50" y="67.77" width="49.50" height="1.35" fill="#000"/><rect x="506.50" y="70.36" width="49.50" height="1.35" fill="#000"/><rect x="506.50" y="72.95" width="47.50" height="1.35" fill="#000"/><rect x="506.50" y="75.54" width="35.50" height="1.35" fill="#000"/><rect x="506.50" y="78.13" width="35.50" height="1.35" fill="#000"/><rect x="506.50" y="80.72" width="30.50" height="1.35" fill="#000"/><rect x="506.50" y="83.31" width="30.50" height="1.35" fill="#000"/><rect x="506.50" y="85.90" width="28.50" height="1.35" fill="#000"/><rect x="506.50" y="88.49" width="28.50" height="1.35" fill="#000"/><rect x="506.50" y="91.08" width="23.50" height="1.35" fill="#000"/><rect x="506.50" y="93.67" width="23.50" height="1.35" fill="#000"/><rect x="506.50" y="96.26" width="23.50" height="1.35" fill="#000"/><rect x="506.50" y="98.85" width="19.00" height="1.35" fill="#000"/><rect x="506.50" y="101.44" width="19.00" height="1.35" fill="#000"/><rect x="506.50" y="104.03" width="19.00" height="1.35" fill="#000"/><rect x="506.50" y="106.62" width="19.00" height="1.35" fill="#000"/><rect x="506.50" y="109.21" width="17.00" height="1.35" fill="#000"/><rect x="506.50" y="111.80" width="17.00" height="1.35" fill="#000"/><rect x="506.50" y="114.39" width="17.00" height="1.35" fill="#000"/><rect x="506.50" y="116.98" width="17.00" height="1.35" fill="#000"/><rect x="506.50" y="119.57" width="14.10" height="1.35" fill="#000"/><rect x="506.50" y="122.16" width="14.10" height="1.35" fill="#000"/><rect x="506.50" y="124.75" width="14.10" height="1.35" fill="#000"/><rect x="506.50" y="127.34" width="12.20" height="1.35" fill="#000"/><rect x="506.50" y="129.93" width="12.20" height="1.35" fill="#000"/><rect x="506.50" y="132.52" width="12.20" height="1.35" fill="#000"/><rect x="506.50" y="135.11" width="12.20" height="1.35" fill="#000"/><rect x="506.50" y="137.70" width="12.20" height="1.35" fill="#000"/><rect x="506.50" y="140.29" width="12.20" height="1.35" fill="#000"/><rect x="506.50" y="142.88" width="12.20" height="1.35" fill="#000"/><rect x="506.50" y="145.47" width="75.50" height="1.35" fill="#000"/><rect x="506.50" y="148.06" width="66.50" height="1.35" fill="#000"/><rect x="506.50" y="150.65" width="59.20" height="1.35" fill="#000"/><rect x="506.50" y="153.24" width="99.10" height="1.35" fill="#000"/><rect x="506.50" y="155.83" width="47.90" height="1.35" fill="#000"/><rect x="506.50" y="158.42" width="182.20" height="1.35" fill="#000"/><rect x="506.50" y="161.01" width="271.90" height="1.35" fill="#000"/><rect x="506.50" y="163.60" width="54.30" height="1.35" fill="#000"/><rect x="506.50" y="166.19" width="47.90" height="1.35" fill="#000"/><rect x="506.50" y="168.78" width="68.80" height="1.35" fill="#000"/><rect x="506.50" y="171.37" width="21.40" height="1.35" fill="#000"/><rect x="506.50" y="173.96" width="78.50" height="1.35" fill="#000"/><rect x="506.50" y="176.55" width="17.00" height="1.35" fill="#000"/><rect x="506.50" y="179.14" width="96.50" height="1.35" fill="#000"/><rect x="506.50" y="181.73" width="165.50" height="1.35" fill="#000"/><rect x="506.50" y="184.32" width="12.20" height="1.35" fill="#000"/><rect x="506.50" y="186.91" width="21.90" height="1.35" fill="#000"/><rect x="506.50" y="189.50" width="23.80" height="1.35" fill="#000"/><rect x="506.50" y="192.09" width="21.90" height="1.35" fill="#000"/><rect x="506.50" y="194.68" width="83.20" height="1.35" fill="#000"/><rect x="506.50" y="197.27" width="40.10" height="1.35" fill="#000"/><rect x="506.50" y="199.86" width="26.70" height="1.35" fill="#000"/><rect x="506.50" y="202.45" width="80.30" height="1.35" fill="#000"/><rect x="506.50" y="205.04" width="35.30" height="1.35" fill="#000"/><rect x="506.50" y="207.63" width="12.20" height="1.35" fill="#000"/><rect x="506.50" y="210.22" width="19.00" height="1.35" fill="#000"/><rect x="506.50" y="212.81" width="23.80" height="1.35" fill="#000"/><rect x="506.50" y="215.40" width="406.50" height="1.35" fill="#000"/><rect x="506.50" y="217.99" width="292.50" height="1.35" fill="#000"/><rect x="506.50" y="220.58" width="217.50" height="1.35" fill="#000"/><rect x="506.50" y="223.17" width="217.50" height="1.35" fill="#000"/><rect x="506.50" y="225.76" width="194.20" height="1.35" fill="#000"/><rect x="506.50" y="228.35" width="434.20" height="1.35" fill="#000"/><rect x="506.50" y="230.94" width="141.50" height="1.35" fill="#000"/><rect x="506.50" y="233.53" width="135.00" height="1.35" fill="#000"/><rect x="506.50" y="236.12" width="113.50" height="1.35" fill="#000"/><rect x="506.50" y="238.71" width="224.80" height="1.35" fill="#000"/><rect x="506.50" y="241.30" width="94.30" height="1.35" fill="#000"/><rect x="506.50" y="243.89" width="273.90" height="1.35" fill="#000"/><rect x="506.50" y="246.48" width="167.50" height="1.35" fill="#000"/><rect x="506.50" y="249.07" width="83.20" height="1.35" fill="#000"/><rect x="506.50" y="251.66" width="83.20" height="1.35" fill="#000"/><rect x="506.50" y="254.25" width="160.50" height="1.35" fill="#000"/><rect x="506.50" y="256.84" width="234.50" height="1.35" fill="#000"/><rect x="506.50" y="259.43" width="75.50" height="1.35" fill="#000"/><rect x="506.50" y="262.02" width="75.50" height="1.35" fill="#000"/><rect x="506.50" y="264.61" width="73.10" height="1.35" fill="#000"/><rect x="506.50" y="267.20" width="144.10" height="1.35" fill="#000"/><rect x="506.50" y="269.79" width="349.30" height="1.35" fill="#000"/><rect x="506.50" y="272.38" width="314.10" height="1.35" fill="#000"/><rect x="506.50" y="274.97" width="61.10" height="1.35" fill="#000"/><rect x="506.50" y="277.56" width="61.10" height="1.35" fill="#000"/><rect x="506.50" y="280.15" width="120.10" height="1.35" fill="#000"/><rect x="506.50" y="282.74" width="59.20" height="1.35" fill="#000"/><rect x="506.50" y="285.33" width="59.20" height="1.35" fill="#000"/><rect x="506.50" y="287.92" width="57.00" height="1.35" fill="#000"/><rect x="506.50" y="290.51" width="110.90" height="1.35" fill="#000"/><rect x="506.50" y="293.10" width="220.00" height="1.35" fill="#000"/><rect x="506.50" y="295.69" width="54.30" height="1.35" fill="#000"/><rect x="506.50" y="298.28" width="106.10" height="1.35" fill="#000"/><rect x="506.50" y="300.87" width="103.90" height="1.35" fill="#000"/><rect x="506.50" y="303.46" width="52.70" height="1.35" fill="#000"/><rect x="506.50" y="306.05" width="150.90" height="1.35" fill="#000"/><rect x="506.50" y="308.64" width="49.50" height="1.35" fill="#000"/><rect x="506.50" y="311.23" width="144.10" height="1.35" fill="#000"/><rect x="506.50" y="313.82" width="238.20" height="1.35" fill="#000"/><rect x="506.50" y="316.41" width="47.90" height="1.35" fill="#000"/><rect x="506.50" y="319.00" width="94.30" height="1.35" fill="#000"/><rect x="506.50" y="321.59" width="47.90" height="1.35" fill="#000"/><rect x="506.50" y="324.18" width="92.40" height="1.35" fill="#000"/><rect x="506.50" y="326.77" width="276.30" height="1.35" fill="#000"/><rect x="506.50" y="329.36" width="90.00" height="1.35" fill="#000"/><rect x="506.50" y="331.95" width="45.00" height="1.35" fill="#000"/><rect x="506.50" y="334.54" width="130.20" height="1.35" fill="#000"/><rect x="506.50" y="337.13" width="215.20" height="1.35" fill="#000"/><rect x="506.50" y="339.72" width="83.20" height="1.35" fill="#000"/><rect x="506.50" y="342.31" width="123.20" height="1.35" fill="#000"/><rect x="506.50" y="344.90" width="40.10" height="1.35" fill="#000"/><rect x="506.50" y="347.49" width="158.60" height="1.35" fill="#000"/><rect x="506.50" y="350.08" width="158.60" height="1.35" fill="#000"/><rect x="506.50" y="352.67" width="118.40" height="1.35" fill="#000"/><rect x="506.50" y="355.26" width="78.40" height="1.35" fill="#000"/><rect x="506.50" y="357.85" width="191.10" height="1.35" fill="#000"/><rect x="506.50" y="360.44" width="75.50" height="1.35" fill="#000"/><rect x="506.50" y="363.03" width="110.90" height="1.35" fill="#000"/><rect x="506.50" y="365.62" width="144.10" height="1.35" fill="#000"/><rect x="506.50" y="368.21" width="180.30" height="1.35" fill="#000"/><rect x="506.50" y="370.80" width="141.70" height="1.35" fill="#000"/><rect x="506.50" y="373.39" width="70.70" height="1.35" fill="#000"/><rect x="506.50" y="375.98" width="103.90" height="1.35" fill="#000"/><rect x="506.50" y="378.57" width="68.80" height="1.35" fill="#000"/><rect x="506.50" y="381.16" width="68.80" height="1.35" fill="#000"/><rect x="506.50" y="383.75" width="136.90" height="1.35" fill="#000"/><rect x="506.50" y="386.34" width="101.50" height="1.35" fill="#000"/><rect x="506.50" y="388.93" width="203.10" height="1.35" fill="#000"/><rect x="506.50" y="391.52" width="135.00" height="1.35" fill="#000"/><rect x="506.50" y="394.11" width="199.00" height="1.35" fill="#000"/><rect x="506.50" y="396.70" width="323.70" height="1.35" fill="#000"/><rect x="506.50" y="399.29" width="128.00" height="1.35" fill="#000"/><rect x="506.50" y="401.88" width="64.00" height="1.35" fill="#000"/><rect x="506.50" y="404.47" width="92.40" height="1.35" fill="#000"/><rect x="506.50" y="407.06" width="61.50" height="1.35" fill="#000"/><rect x="506.50" y="409.65" width="90.00" height="1.35" fill="#000"/><rect x="506.50" y="412.24" width="90.00" height="1.35" fill="#000"/><rect x="506.50" y="414.83" width="118.40" height="1.35" fill="#000"/><rect x="506.50" y="417.42" width="146.50" height="1.35" fill="#000"/><rect x="506.50" y="420.01" width="141.70" height="1.35" fill="#000"/><rect x="506.50" y="422.60" width="28.50" height="1.35" fill="#000"/><rect x="506.50" y="425.19" width="28.50" height="1.35" fill="#000"/><rect x="506.50" y="427.78" width="136.90" height="1.35" fill="#000"/><rect x="506.50" y="430.37" width="215.20" height="1.35" fill="#000"/><rect x="506.50" y="432.96" width="80.30" height="1.35" fill="#000"/><rect x="506.50" y="435.55" width="158.60" height="1.35" fill="#000"/><rect x="506.50" y="438.14" width="156.20" height="1.35" fill="#000"/><rect x="506.50" y="440.73" width="78.40" height="1.35" fill="#000"/><rect x="506.50" y="443.32" width="26.70" height="1.35" fill="#000"/><rect x="506.50" y="445.91" width="180.30" height="1.35" fill="#000"/><rect x="506.50" y="448.50" width="201.20" height="1.35" fill="#000"/><rect x="506.50" y="451.09" width="201.20" height="1.35" fill="#000"/><rect x="506.50" y="453.68" width="125.40" height="1.35" fill="#000"/><rect x="506.50" y="456.27" width="125.40" height="1.35" fill="#000"/><rect x="506.50" y="458.86" width="49.50" height="1.35" fill="#000"/><rect x="506.50" y="461.45" width="146.50" height="1.35" fill="#000"/><rect x="506.50" y="464.04" width="96.70" height="1.35" fill="#000"/><rect x="506.50" y="466.63" width="191.10" height="1.35" fill="#000"/><rect x="506.50" y="469.22" width="215.20" height="1.35" fill="#000"/><rect x="506.50" y="471.81" width="115.70" height="1.35" fill="#000"/><rect x="506.50" y="474.40" width="115.70" height="1.35" fill="#000"/><rect x="506.50" y="476.99" width="92.40" height="1.35" fill="#000"/><rect x="506.50" y="479.58" width="229.60" height="1.35" fill="#000"/><rect x="506.50" y="482.17" width="206.00" height="1.35" fill="#000"/><rect x="506.50" y="484.76" width="45.00" height="1.35" fill="#000"/><rect x="506.50" y="487.35" width="65.90" height="1.35" fill="#000"/><rect x="506.50" y="489.94" width="64.00" height="1.35" fill="#000"/><rect x="506.50" y="492.53" width="42.50" height="1.35" fill="#000"/><rect x="506.50" y="495.12" width="21.40" height="1.35" fill="#000"/><rect x="506.50" y="497.71" width="189.40" height="1.35" fill="#000"/><rect x="506.50" y="500.30" width="146.50" height="1.35" fill="#000"/><rect x="506.50" y="502.89" width="125.40" height="1.35" fill="#000"/><rect x="506.50" y="505.48" width="83.20" height="1.35" fill="#000"/><rect x="506.50" y="508.07" width="61.50" height="1.35" fill="#000"/><rect x="506.50" y="510.66" width="61.50" height="1.35" fill="#000"/><rect x="506.50" y="513.25" width="467.50" height="1.35" fill="#000"/><rect x="506.50" y="515.84" width="262.60" height="1.35" fill="#000"/><rect x="506.50" y="518.43" width="217.50" height="1.35" fill="#000"/><rect x="506.50" y="521.02" width="94.30" height="1.35" fill="#000"/><rect x="506.50" y="523.61" width="19.00" height="1.35" fill="#000"/><rect x="506.50" y="526.20" width="94.30" height="1.35" fill="#000"/><rect x="506.50" y="528.79" width="73.60" height="1.35" fill="#000"/><rect x="506.50" y="531.38" width="90.00" height="1.35" fill="#000"/><rect x="506.50" y="533.97" width="106.10" height="1.35" fill="#000"/><rect x="506.50" y="536.56" width="210.30" height="1.35" fill="#000"/><rect x="506.50" y="539.15" width="87.60" height="1.35" fill="#000"/><rect x="506.50" y="541.74" width="226.70" height="1.35" fill="#000"/><rect x="506.50" y="544.33" width="139.30" height="1.35" fill="#000"/><rect x="506.50" y="546.92" width="68.30" height="1.35" fill="#000"/><rect x="506.50" y="549.51" width="68.30" height="1.35" fill="#000"/><rect x="506.50" y="552.10" width="136.90" height="1.35" fill="#000"/><rect x="506.50" y="554.69" width="134.50" height="1.35" fill="#000"/><rect x="506.50" y="557.28" width="33.40" height="1.35" fill="#000"/><rect x="506.50" y="559.87" width="17.00" height="1.35" fill="#000"/><rect x="506.50" y="562.46" width="99.10" height="1.35" fill="#000"/><rect x="506.50" y="565.05" width="115.70" height="1.35" fill="#000"/><rect x="506.50" y="567.64" width="17.00" height="1.35" fill="#000"/><rect x="506.50" y="570.23" width="17.00" height="1.35" fill="#000"/><rect x="506.50" y="572.82" width="475.00" height="1.35" fill="#000"/><rect x="506.50" y="575.41" width="144.10" height="1.35" fill="#000"/><rect x="506.50" y="578.00" width="189.40" height="1.35" fill="#000"/><rect x="506.50" y="580.59" width="125.40" height="1.35" fill="#000"/><rect x="506.50" y="583.18" width="234.40" height="1.35" fill="#000"/><rect x="506.50" y="585.77" width="248.00" height="1.35" fill="#000"/><rect x="506.50" y="588.36" width="61.50" height="1.35" fill="#000"/><rect x="506.50" y="590.95" width="92.40" height="1.35" fill="#000"/><rect x="506.50" y="593.54" width="103.90" height="1.35" fill="#000"/><rect x="506.50" y="596.13" width="73.60" height="1.35" fill="#000"/><rect x="506.50" y="598.72" width="87.60" height="1.35" fill="#000"/><rect x="506.50" y="601.31" width="70.70" height="1.35" fill="#000"/><rect x="506.50" y="603.90" width="28.50" height="1.35" fill="#000"/><rect x="506.50" y="606.49" width="110.90" height="1.35" fill="#000"/><rect x="506.50" y="609.08" width="54.30" height="1.35" fill="#000"/><rect x="506.50" y="611.67" width="94.30" height="1.35" fill="#000"/><rect x="506.50" y="614.26" width="80.30" height="1.35" fill="#000"/><rect x="506.50" y="616.85" width="118.40" height="1.35" fill="#000"/><rect x="506.50" y="619.44" width="78.40" height="1.35" fill="#000"/><rect x="506.50" y="622.03" width="103.90" height="1.35" fill="#000"/><rect x="506.50" y="624.62" width="130.20" height="1.35" fill="#000"/><rect x="506.50" y="627.21" width="153.80" height="1.35" fill="#000"/><rect x="506.50" y="629.80" width="64.00" height="1.35" fill="#000"/><rect x="506.50" y="632.39" width="75.50" height="1.35" fill="#000"/><rect x="506.50" y="634.98" width="175.40" height="1.35" fill="#000"/><rect x="506.50" y="637.57" width="49.50" height="1.35" fill="#000"/><rect x="506.50" y="640.16" width="182.20" height="1.35" fill="#000"/><rect x="506.50" y="642.75" width="23.80" height="1.35" fill="#000"/><rect x="506.50" y="645.34" width="12.20" height="1.35" fill="#000"/><rect x="506.50" y="647.93" width="12.20" height="1.35" fill="#000"/><rect x="506.50" y="650.52" width="12.20" height="1.35" fill="#000"/><rect x="506.50" y="653.11" width="59.20" height="1.35" fill="#000"/><rect x="506.50" y="655.70" width="196.40" height="1.35" fill="#000"/><rect x="506.50" y="658.29" width="33.40" height="1.35" fill="#000"/><rect x="506.50" y="660.88" width="33.40" height="1.35" fill="#000"/><rect x="506.50" y="663.47" width="175.40" height="1.35" fill="#000"/><rect x="506.50" y="666.06" width="21.90" height="1.35" fill="#000"/><rect x="506.50" y="668.65" width="64.00" height="1.35" fill="#000"/><rect x="506.50" y="671.24" width="231.60" height="1.35" fill="#000"/><rect x="506.50" y="673.83" width="73.60" height="1.35" fill="#000"/><rect x="506.50" y="676.42" width="113.50" height="1.35" fill="#000"/><rect x="506.50" y="679.01" width="49.50" height="1.35" fill="#000"/><rect x="506.50" y="681.60" width="99.10" height="1.35" fill="#000"/><rect x="506.50" y="684.19" width="87.60" height="1.35" fill="#000"/><rect x="506.50" y="686.78" width="106.10" height="1.35" fill="#000"/><rect x="506.50" y="689.37" width="75.50" height="1.35" fill="#000"/><rect x="506.50" y="691.96" width="19.00" height="1.35" fill="#000"/><rect x="506.50" y="694.55" width="302.20" height="1.35" fill="#000"/><rect x="506.50" y="697.14" width="167.50" height="1.35" fill="#000"/><rect x="506.50" y="699.73" width="120.50" height="1.35" fill="#000"/><rect x="506.50" y="702.32" width="201.20" height="1.35" fill="#000"/><rect x="506.50" y="704.91" width="128.00" height="1.35" fill="#000"/><rect x="506.50" y="707.50" width="253.10" height="1.35" fill="#000"/><rect x="506.50" y="710.09" width="61.50" height="1.35" fill="#000"/><rect x="506.50" y="712.68" width="270.10" height="1.35" fill="#000"/><rect x="506.50" y="715.27" width="286.50" height="1.35" fill="#000"/><rect x="506.50" y="717.86" width="215.20" height="1.35" fill="#000"/><rect x="506.50" y="720.45" width="167.50" height="1.35" fill="#000"/><rect x="506.50" y="723.04" width="191.10" height="1.35" fill="#000"/><rect x="506.50" y="725.63" width="113.50" height="1.35" fill="#000"/><rect x="506.50" y="728.22" width="57.50" height="1.35" fill="#000"/><rect x="506.50" y="730.81" width="113.50" height="1.35" fill="#000"/><rect x="506.50" y="733.40" width="57.50" height="1.35" fill="#000"/><rect x="506.50" y="735.99" width="92.40" height="1.35" fill="#000"/><rect x="506.50" y="738.58" width="175.40" height="1.35" fill="#000"/><rect x="506.50" y="741.17" width="189.40" height="1.35" fill="#000"/><rect x="506.50" y="743.76" width="45.00" height="1.35" fill="#000"/><rect x="506.50" y="746.35" width="45.00" height="1.35" fill="#000"/><rect x="506.50" y="748.94" width="128.00" height="1.35" fill="#000"/><rect x="506.50" y="751.53" width="234.40" height="1.35" fill="#000"/><rect x="506.50" y="754.12" width="170.10" height="1.35" fill="#000"/><rect x="506.50" y="756.71" width="156.20" height="1.35" fill="#000"/><rect x="506.50" y="759.30" width="175.40" height="1.35" fill="#000"/><rect x="506.50" y="761.89" width="40.10" height="1.35" fill="#000"/><rect x="506.50" y="764.48" width="106.10" height="1.35" fill="#000"/><rect x="506.50" y="767.07" width="139.30" height="1.35" fill="#000"/><rect x="506.50" y="769.66" width="52.20" height="1.35" fill="#000"/><rect x="506.50" y="772.25" width="123.20" height="1.35" fill="#000"/><rect x="506.50" y="774.84" width="180.30" height="1.35" fill="#000"/><rect x="506.50" y="777.43" width="262.00" height="1.35" fill="#000"/><rect x="506.50" y="780.02" width="113.50" height="1.35" fill="#000"/><rect x="506.50" y="782.61" width="30.50" height="1.35" fill="#000"/><rect x="506.50" y="785.20" width="85.20" height="1.35" fill="#000"/><rect x="506.50" y="787.79" width="35.30" height="1.35" fill="#000"/><rect x="506.50" y="790.38" width="70.70" height="1.35" fill="#000"/><rect x="506.50" y="792.97" width="83.20" height="1.35" fill="#000"/><rect x="506.50" y="795.56" width="132.10" height="1.35" fill="#000"/><rect x="506.50" y="798.15" width="212.30" height="1.35" fill="#000"/><rect x="506.50" y="800.74" width="250.10" height="1.35" fill="#000"/><rect x="506.50" y="803.33" width="33.40" height="1.35" fill="#000"/><rect x="506.50" y="805.92" width="103.90" height="1.35" fill="#000"/><rect x="506.50" y="808.51" width="38.20" height="1.35" fill="#000"/><rect x="506.50" y="811.10" width="206.00" height="1.35" fill="#000"/><rect x="506.50" y="813.69" width="70.70" height="1.35" fill="#000"/><rect x="506.50" y="816.28" width="177.10" height="1.35" fill="#000"/><rect x="506.50" y="818.87" width="253.10" height="1.35" fill="#000"/><rect x="506.50" y="821.46" width="14.10" height="1.35" fill="#000"/><rect x="506.50" y="824.05" width="61.10" height="1.35" fill="#000"/><rect x="506.50" y="826.64" width="42.50" height="1.35" fill="#000"/><rect x="506.50" y="829.23" width="257.50" height="1.35" fill="#000"/><rect x="506.50" y="831.82" width="113.50" height="1.35" fill="#000"/><rect x="506.50" y="834.41" width="90.00" height="1.35" fill="#000"/><rect x="506.50" y="837.00" width="217.10" height="1.35" fill="#000"/><rect x="506.50" y="839.59" width="141.70" height="1.35" fill="#000"/><rect x="506.50" y="842.18" width="206.00" height="1.35" fill="#000"/><rect x="506.50" y="844.77" width="201.20" height="1.35" fill="#000"/><rect x="506.50" y="847.36" width="19.00" height="1.35" fill="#000"/><rect x="506.50" y="849.95" width="80.30" height="1.35" fill="#000"/><rect x="506.50" y="852.54" width="96.70" height="1.35" fill="#000"/>
<rect x="65.3" y="34.0" width="1" height="823.0" fill="#c4d0dc" opacity="0.3"/><rect x="114.1" y="34.0" width="1" height="823.0" fill="#c4d0dc" opacity="0.3"/><rect x="162.9" y="34.0" width="1" height="823.0" fill="#c4d0dc" opacity="0.3"/><rect x="211.7" y="34.0" width="1" height="823.0" fill="#c4d0dc" opacity="0.3"/><rect x="260.5" y="34.0" width="1" height="823.0" fill="#c4d0dc" opacity="0.3"/><rect x="309.3" y="34.0" width="1" height="823.0" fill="#c4d0dc" opacity="0.3"/><rect x="358.1" y="34.0" width="1" height="823.0" fill="#c4d0dc" opacity="0.3"/><rect x="406.9" y="34.0" width="1" height="823.0" fill="#c4d0dc" opacity="0.3"/><rect x="455.7" y="34.0" width="1" height="823.0" fill="#c4d0dc" opacity="0.3"/>
<rect x="17" y="857.8" width="966.5" height="4.6" fill="#000"/><rect x="17" y="860" width="5" height="10.6" fill="#000"/><rect x="139" y="860" width="5" height="10.6" fill="#000"/><rect x="258.5" y="860" width="5" height="10.6" fill="#000"/><rect x="382" y="860" width="5" height="10.6" fill="#000"/><rect x="498" y="860" width="5" height="10.6" fill="#000"/><rect x="507" y="860" width="5" height="10.6" fill="#000"/><rect x="622.6" y="860" width="5" height="10.6" fill="#000"/><rect x="740.8" y="860" width="5" height="10.6" fill="#000"/><rect x="859" y="860" width="5" height="10.6" fill="#000"/><rect x="978.5" y="860" width="5" height="10.6" fill="#000"/>
<defs><radialGradient id="w1eye" cx="0.6" cy="0.5" r="0.55"><stop offset="0" stop-color="#8a8a8a"/><stop offset="0.6" stop-color="#2a2a2a"/><stop offset="1" stop-color="#000"/></radialGradient><radialGradient id="w2eye" cx="0.6" cy="0.5" r="0.55"><stop offset="0" stop-color="#8a8a8a"/><stop offset="0.6" stop-color="#2a2a2a"/><stop offset="1" stop-color="#000"/></radialGradient><radialGradient id="w3eye" cx="0.6" cy="0.5" r="0.55"><stop offset="0" stop-color="#8a8a8a"/><stop offset="0.6" stop-color="#2a2a2a"/><stop offset="1" stop-color="#000"/></radialGradient><clipPath id="ab1"><path d="M211,954 C235,953 262,960 286,970.5 C305,979 321,995 336,1016 L348,1040 C338,1045 328,1048 321,1047.5 C305,1046 290,1043 272,1042.5 C253,1040 233,1030 214,1013.5 C205,1009 197,1007 190,1005 C190,995 194,982 200,968 C203,960 207,955 211,954 Z"/></clipPath><clipPath id="ab2"><path d="M548,962 C570,961 600,965 625,975 C642,982 655,992 661,1003 L664,1013.5 C655,1016 645,1019 636,1021.5 C622,1024 605,1022 596,1020 C585,1016 575,1010 565,1004 C555,1000 545,998 538,997 C540,985 543,972 548,962 Z"/></clipPath><clipPath id="ab3"><path d="M858,962 C866,957 880,956 895,955.5 C908,956 918,962 928,970 C942,982 956,1000 968,1018 C975,1029 979,1042 977,1057 C968,1058 962,1057 957,1055 C945,1050 935,1044 926,1038 C915,1030 908,1024 902,1019 C893,1012 886,1006 879,1001 C872,996 864,990 858,985 Z"/></clipPath></defs><g><path d="M184,962 C215,957 260,953 298,953.5 C302,954 302,957 298,957.5 C260,958 220,960 186,965 Z" fill="#151515"/><path d="M236,1030 C245,1036 253,1041 262,1044" stroke="#333" stroke-width="3" fill="none" stroke-linecap="round" stroke-linejoin="round"/><path d="M211,954 C235,953 262,960 286,970.5 C305,979 321,995 336,1016 L348,1040 C338,1045 328,1048 321,1047.5 C305,1046 290,1043 272,1042.5 C253,1040 233,1030 214,1013.5 C205,1009 197,1007 190,1005 C190,995 194,982 200,968 C203,960 207,955 211,954 Z" fill="#fff"/><g clip-path="url(#ab1)"><path d="M210,948 C203,968 196,988 190,1006" stroke="#6b6b6b" stroke-width="18" fill="none"/><path d="M247,954 C245,978 238,1000 226,1020" stroke="#6b6b6b" stroke-width="20" fill="none"/><path d="M279,966 C277,992 270,1020 260,1046" stroke="#6b6b6b" stroke-width="18" fill="none"/><path d="M306,982 C305,1005 300,1028 293,1050" stroke="#6b6b6b" stroke-width="16" fill="none"/><path d="M328,1005 C327,1020 323,1036 316,1050" stroke="#6b6b6b" stroke-width="13" fill="none"/><path d="M343,1028 C342,1036 339,1044 334,1050" stroke="#6b6b6b" stroke-width="9" fill="none"/><path d="M215,1012 C240,1022 270,1026 300,1022 C315,1020 328,1014 340,1006" stroke="#000" stroke-width="0.5" fill="none"/><path d="M240,1032 C265,1040 300,1040 335,1028" stroke="#000" stroke-width="0.5" fill="none"/></g><g clip-path="url(#ab1)"><ellipse cx="208" cy="996" rx="20" ry="17" fill="#6b6b6b"/><path d="M213,956 C222,957 228,962 230,975" stroke="#fff" stroke-width="9" fill="none"/></g><path d="M211,954 C235,953 262,960 286,970.5 C305,979 321,995 336,1016 L348,1040 C338,1045 328,1048 321,1047.5 C305,1046 290,1043 272,1042.5 C253,1040 233,1030 214,1013.5 C205,1009 197,1007 190,1005 C190,995 194,982 200,968 C203,960 207,955 211,954 Z" fill="none" stroke="#000" stroke-width="0.7"/><path d="M86.0,973.0l-6.3,-10.5M87.5,972.3l-6.4,-10.9M89.0,971.7l-5.0,-7.9M90.6,971.0l-4.8,-13.2M92.1,970.3l-3.8,-9.7M93.6,969.7l-6.1,-10.1M95.1,969.0l-5.2,-10.6M96.7,968.3l-3.5,-9.3M98.2,967.7l-4.4,-13.5M99.7,967.0l-3.2,-13.1M101.2,966.3l-2.3,-9.1M102.8,965.7l-2.8,-12.2M104.3,965.0l-0.5,-9.2M105.8,964.3l-2.0,-11.7M107.3,963.7l-1.3,-14.2M108.9,963.0l-0.7,-14.5M110.4,962.3l1.1,-13.8M111.9,961.7l1.6,-14.5M113.4,961.0l0.3,-9.6M115.0,960.3l2.9,-9.9M116.5,959.7l1.0,-11.6M118.0,959.0l2.4,-10.5M128.0,961.0l-6.4,-11.0M129.5,960.6l-5.9,-12.8M130.9,960.2l-7.0,-14.8M132.4,959.8l-6.7,-15.1M133.9,959.4l-6.8,-15.5M135.3,959.0l-3.4,-10.6M136.8,958.6l-5.1,-16.0M138.3,958.2l-3.7,-13.5M139.7,957.8l-1.9,-11.3M141.2,957.4l-2.0,-13.9M142.7,957.0l0.6,-10.4M144.1,956.6l-0.8,-16.9M145.6,956.2l3.4,-15.2M147.1,955.8l2.0,-10.9M148.5,955.4l4.1,-14.8M150.0,955.0l1.6,-10.2M152.0,955.0l-1.5,-7.2M154.3,955.2l-1.8,-9.2M156.5,955.4l-2.6,-13.6M158.8,955.6l-0.5,-14.0M161.1,955.8l0.5,-7.5M163.3,956.0l0.2,-7.2M165.6,956.2l1.9,-9.7M167.9,956.4l1.0,-8.0M170.1,956.6l4.2,-12.4M172.4,956.8l4.0,-13.1M174.7,957.0l1.7,-9.5M176.9,957.2l3.6,-10.0M179.2,957.4l3.8,-10.5M181.5,957.6l4.6,-10.4M183.7,957.8l3.7,-9.9M186.0,958.0l6.2,-10.3M80.0,983.0l-5.8,-0.9M80.8,985.2l-6.5,1.0M81.5,987.5l-5.0,0.7M82.2,989.8l-6.6,1.4M83.0,992.0l-6.7,1.5" stroke="#000" stroke-width="1.0" fill="none" stroke-linecap="round"/><path d="M90,971 C98,963 110,958 122,958 C130,957 140,954 150,955 C165,953 180,954 190,959 L187,960.5 C175,957 160,957.5 145,960 C128,962 110,965 95,974 Z" fill="#222"/><path d="M87,972.5 C65,962 40,957 14,960.5" stroke="#000" stroke-width="3.4" fill="none" stroke-linecap="round"/><path d="M87,973.5 C65,973 40,980 19,989.5" stroke="#000" stroke-width="3.6" fill="none" stroke-linecap="round"/><path d="M112,996 C118,1000 124,1006 128,1012 C126,1016 120,1016 116,1012 C112,1008 109,1002 112,996 Z" fill="#6b6b6b" stroke="#000" stroke-width="0.6"/><path d="M123,989 C122,975 130,962 145,958 C158,955 172,955.5 182,962 C189,968 193,977 194,986 C195,996 192,1004 186,1008 C178,1013 160,1015 146,1014.5 C133,1013 124,1003 123,989 Z" fill="#6b6b6b" stroke="#000" stroke-width="0.7"/><path d="M124,984 C130,977 140,975 150,976 C146,980 136,982 126,987 Z" fill="#fff"/><path d="M149,972 C153,970 157,971 156,975 C153,976 150,975 149,972 Z" fill="#fff"/><path d="M171,960 C175,958 178,962 178,968 C177,972 173,972 171,968 Z" fill="#fff"/><path d="M181,978 C184,977 187,980 187,985 C184,986 181,983 181,978 Z" fill="#fff"/><path d="M149,987 C152,985 156,987 156,991 C153,993 150,991 149,987 Z" fill="#fff"/><path d="M176,1000 C180,996 188,997 190,1003 C191,1009 186,1012 180,1010 C176,1008 175,1004 176,1000 Z" fill="#6b6b6b" stroke="#000" stroke-width="0.6"/><ellipse cx="104" cy="981.5" rx="24" ry="15.5" transform="rotate(-50 104 981.5)" fill="#6b6b6b" stroke="#000" stroke-width="0.8"/><path d="M122,968 C124,977 118,989 108,997 C102,1001 97,1003 93,1002.5 C96,998 101,994 106,989 C112,983 116,976 118,969 Z" fill="#fff"/><path d="M87.7,993.2 C88,986 93,979 98,975.5 C103,971 108,967 112.5,964.3 C114,963.5 116.5,964 116,966.5 C115.5,970 114,974 111.7,978 C109,982 107,985 105,987 C102,990 100,991.5 97,993 C94,994.5 92,995.5 90.5,995.5 C89,995.5 88,994.5 87.7,993.2 Z" fill="url(#w1eye)" transform="translate(102,980) scale(0.88) translate(-102,-980)"/><ellipse cx="97" cy="974" rx="5" ry="2.6" transform="rotate(-42 97 974)" fill="#fff"/><path d="M83,991 C79,998 79,1006 82,1011 C86,1008 92,1004 95,1000 C90,999 86,996 83,991 Z" fill="#fff" stroke="#000" stroke-width="0.6"/><path d="M178,1002 C190,1006 203,1010 215,1012" stroke="#000" stroke-width="8.3" fill="none" stroke-linecap="round"/><path d="M178,1002 C190,1006 203,1010 215,1012" stroke="#6b6b6b" stroke-width="7" fill="none" stroke-linecap="round"/><path d="M108,997 C100,1003 90,1010 85,1015 C80,1020 77,1026 74,1030 C71,1036 66,1041 58,1045 C54,1046 50,1047 47,1047.5" stroke="#000" stroke-width="4.4" fill="none" stroke-linecap="round" stroke-linejoin="round"/><path d="M108,997 C100,1003 90,1010 85,1015 C80,1020 77,1026 74,1030 C71,1036 66,1041 58,1045 C54,1046 50,1047 47,1047.5" stroke="#fff" stroke-width="3.1" fill="none" stroke-linecap="round" stroke-linejoin="round"/><path d="M88,1020 C92,1024 95,1028 97,1033" stroke="#333" stroke-width="2.5" fill="none" stroke-linecap="round" stroke-linejoin="round"/><path d="M62,1034 C67,1035 72,1035 76,1034" stroke="#333" stroke-width="2.5" fill="none" stroke-linecap="round" stroke-linejoin="round"/><path d="M141,990 C142,1000 143,1012 143,1024 C144,1032 145,1040 143,1048 C141,1054 135,1060 126,1063.5" stroke="#000" stroke-width="4.9" fill="none" stroke-linecap="round" stroke-linejoin="round"/><path d="M141,990 C142,1000 143,1012 143,1024 C144,1032 145,1040 143,1048 C141,1054 135,1060 126,1063.5" stroke="#fff" stroke-width="3.6" fill="none" stroke-linecap="round" stroke-linejoin="round"/><path d="M149,1028 C151,1036 151,1042 150,1046" stroke="#333" stroke-width="2.5" fill="none" stroke-linecap="round" stroke-linejoin="round"/><path d="M189,1006 C200,1014 212,1021 223,1026.5 C236,1033 250,1039 262,1042 C270,1045 278,1049 283,1050 C290,1052 297,1053 303,1052.5" stroke="#000" stroke-width="3.9000000000000004" fill="none" stroke-linecap="round" stroke-linejoin="round"/><path d="M189,1006 C200,1014 212,1021 223,1026.5 C236,1033 250,1039 262,1042 C270,1045 278,1049 283,1050 C290,1052 297,1053 303,1052.5" stroke="#fff" stroke-width="2.6" fill="none" stroke-linecap="round" stroke-linejoin="round"/><path d="M194,1003 C210,1013 228,1026 246,1039.5 C252,1043 260,1046 267,1047" stroke="#000" stroke-width="3.9000000000000004" fill="none" stroke-linecap="round" stroke-linejoin="round"/><path d="M194,1003 C210,1013 228,1026 246,1039.5 C252,1043 260,1046 267,1047" stroke="#fff" stroke-width="2.6" fill="none" stroke-linecap="round" stroke-linejoin="round"/><path d="M158,972 C200,970.5 270,972 328,975 C333,976 333,979.5 327,980 C280,980 210,977.5 160,975.5 Z" fill="#f2f2f2" fill-opacity="0.85" stroke="#222" stroke-width="0.7"/><path d="M175,974 C220,974 270,975.5 320,977" stroke="#888" stroke-width="0.6" fill="none"/></g><g><path d="M533,961 C565,955 610,949 645,947.5 C649,948 649,951 645,951.5 C610,953 570,958 536,965 Z" fill="#1e1e1e"/><path d="M558,1009 C575,1020 592,1030 610,1040" stroke="#333" stroke-width="3.5" fill="none" stroke-linecap="round" stroke-linejoin="round"/><path d="M548,962 C570,961 600,965 625,975 C642,982 655,992 661,1003 L664,1013.5 C655,1016 645,1019 636,1021.5 C622,1024 605,1022 596,1020 C585,1016 575,1010 565,1004 C555,1000 545,998 538,997 C540,985 543,972 548,962 Z" fill="#fff"/><g clip-path="url(#ab2)"><path d="M550,956 C546,975 543,990 540,1003" stroke="#6b6b6b" stroke-width="14" fill="none"/><path d="M570,962 C574,975 572,990 566,1006" stroke="#6b6b6b" stroke-width="7" fill="none"/><path d="M588,963 C592,980 590,1000 584,1020" stroke="#6b6b6b" stroke-width="8" fill="none"/><path d="M606,966 C610,985 608,1005 602,1024" stroke="#6b6b6b" stroke-width="8" fill="none"/><path d="M625,972 C629,990 626,1008 620,1026" stroke="#6b6b6b" stroke-width="8" fill="none"/><path d="M644,980 C648,995 645,1010 640,1024" stroke="#6b6b6b" stroke-width="7" fill="none"/><path d="M657,993 C660,1002 659,1010 656,1018" stroke="#6b6b6b" stroke-width="6" fill="none"/><path d="M560,1002 C585,1006 615,1005 640,998" stroke="#000" stroke-width="0.5" fill="none"/><path d="M600,1020 C620,1018 640,1012 660,1005" stroke="#000" stroke-width="0.5" fill="none"/></g><path d="M548,962 C570,961 600,965 625,975 C642,982 655,992 661,1003 L664,1013.5 C655,1016 645,1019 636,1021.5 C622,1024 605,1022 596,1020 C585,1016 575,1010 565,1004 C555,1000 545,998 538,997 C540,985 543,972 548,962 Z" fill="none" stroke="#000" stroke-width="0.7"/><g transform="translate(349.5,-7.5) translate(104,981.5) scale(0.95) translate(-104,-981.5)"><path d="M86.0,973.0l-5.6,-7.5M87.5,972.3l-6.7,-9.7M89.0,971.7l-6.1,-9.3M90.6,971.0l-6.9,-11.5M92.1,970.3l-2.9,-8.9M93.6,969.7l-6.5,-13.3M95.1,969.0l-3.4,-11.2M96.7,968.3l-3.7,-10.3M98.2,967.7l-2.6,-10.6M99.7,967.0l-2.5,-12.3M101.2,966.3l-1.6,-11.2M102.8,965.7l-2.1,-8.9M104.3,965.0l-1.8,-13.3M105.8,964.3l-0.2,-10.3M107.3,963.7l-1.2,-10.4M108.9,963.0l1.2,-11.6M110.4,962.3l-0.0,-9.6M111.9,961.7l1.6,-10.9M113.4,961.0l0.5,-11.6M115.0,960.3l0.8,-10.0M116.5,959.7l3.4,-12.4M118.0,959.0l1.8,-11.6M128.0,961.0l-4.7,-9.8M129.5,960.6l-5.2,-10.1M130.9,960.2l-7.7,-13.9M132.4,959.8l-3.3,-11.5M133.9,959.4l-5.6,-13.3M135.3,959.0l-4.2,-11.7M136.8,958.6l-1.3,-12.0M138.3,958.2l-2.8,-11.6M139.7,957.8l-0.8,-12.9M141.2,957.4l-0.4,-12.9M142.7,957.0l-1.3,-11.0M144.1,956.6l3.1,-16.3M145.6,956.2l-0.0,-16.9M147.1,955.8l2.9,-16.4M148.5,955.4l1.0,-11.5M150.0,955.0l3.0,-15.6M152.0,955.0l-2.3,-10.4M154.3,955.2l-0.6,-9.4M156.5,955.4l-0.0,-7.5M158.8,955.6l-0.5,-9.0M161.1,955.8l-0.5,-7.3M163.3,956.0l-0.6,-11.8M165.6,956.2l-0.2,-13.3M167.9,956.4l0.4,-11.0M170.1,956.6l4.0,-11.5M172.4,956.8l3.0,-8.6M174.7,957.0l2.6,-10.4M176.9,957.2l4.8,-12.7M179.2,957.4l3.2,-8.8M181.5,957.6l6.2,-11.4M183.7,957.8l5.8,-11.0M186.0,958.0l4.5,-7.1M80.0,983.0l-7.4,-0.6M80.8,985.2l-7.4,-0.5M81.5,987.5l-7.2,1.8M82.2,989.8l-4.8,1.6M83.0,992.0l-7.0,2.8" stroke="#000" stroke-width="1.0" fill="none" stroke-linecap="round"/><path d="M90,971 C98,963 110,958 122,958 C130,957 140,954 150,955 C165,953 180,954 190,959 L187,960.5 C175,957 160,957.5 145,960 C128,962 110,965 95,974 Z" fill="#222"/><path d="M87,972.5 C65,962 40,957 14,960.5" stroke="#000" stroke-width="3.4" fill="none" stroke-linecap="round"/><path d="M87,973.5 C65,973 40,980 19,989.5" stroke="#000" stroke-width="3.6" fill="none" stroke-linecap="round"/><path d="M112,996 C118,1000 124,1006 128,1012 C126,1016 120,1016 116,1012 C112,1008 109,1002 112,996 Z" fill="#6b6b6b" stroke="#000" stroke-width="0.6"/><path d="M123,989 C122,975 130,962 145,958 C158,955 172,955.5 182,962 C189,968 193,977 194,986 C195,996 192,1004 186,1008 C178,1013 160,1015 146,1014.5 C133,1013 124,1003 123,989 Z" fill="#6b6b6b" stroke="#000" stroke-width="0.7"/><path d="M124,984 C130,977 140,975 150,976 C146,980 136,982 126,987 Z" fill="#fff"/><path d="M149,972 C153,970 157,971 156,975 C153,976 150,975 149,972 Z" fill="#fff"/><path d="M171,960 C175,958 178,962 178,968 C177,972 173,972 171,968 Z" fill="#fff"/><path d="M181,978 C184,977 187,980 187,985 C184,986 181,983 181,978 Z" fill="#fff"/><path d="M149,987 C152,985 156,987 156,991 C153,993 150,991 149,987 Z" fill="#fff"/><path d="M176,1000 C180,996 188,997 190,1003 C191,1009 186,1012 180,1010 C176,1008 175,1004 176,1000 Z" fill="#6b6b6b" stroke="#000" stroke-width="0.6"/><ellipse cx="104" cy="981.5" rx="24" ry="15.5" transform="rotate(-50 104 981.5)" fill="#6b6b6b" stroke="#000" stroke-width="0.8"/><path d="M122,968 C124,977 118,989 108,997 C102,1001 97,1003 93,1002.5 C96,998 101,994 106,989 C112,983 116,976 118,969 Z" fill="#fff"/><path d="M87.7,993.2 C88,986 93,979 98,975.5 C103,971 108,967 112.5,964.3 C114,963.5 116.5,964 116,966.5 C115.5,970 114,974 111.7,978 C109,982 107,985 105,987 C102,990 100,991.5 97,993 C94,994.5 92,995.5 90.5,995.5 C89,995.5 88,994.5 87.7,993.2 Z" fill="url(#w2eye)" transform="translate(102,980) scale(0.88) translate(-102,-980)"/><ellipse cx="97" cy="974" rx="5" ry="2.6" transform="rotate(-42 97 974)" fill="#fff"/><path d="M83,991 C79,998 79,1006 82,1011 C86,1008 92,1004 95,1000 C90,999 86,996 83,991 Z" fill="#fff" stroke="#000" stroke-width="0.6"/></g><path d="M429,986 C420,987 414,994 414,1003 C414,1010 420,1015 429,1015 C437,1014 442,1008 441,1000 C440,992 436,987 429,986 Z" fill="#f0f0f0" stroke="#777" stroke-width="0.7"/><path d="M419,996 C424,991 432,993 434,1000 C434,1006 428,1009 422,1006 M417,1005 C423,1010 432,1010 438,1004 M425,990 C431,989 437,993 439,999 M416,998 l-3,-2 M415,1004 l-3,1 M418,1010 l-3,2" stroke="#9a9a9a" stroke-width="1.3" fill="none"/><path d="M447,993 C442,1000 436,1006 432,1011 C427,1018 424,1025 421,1031 C418,1038 415,1042 412,1045.5 C406,1049 402,1051 398,1052.8" stroke="#000" stroke-width="4.4" fill="none" stroke-linecap="round" stroke-linejoin="round"/><path d="M447,993 C442,1000 436,1006 432,1011 C427,1018 424,1025 421,1031 C418,1038 415,1042 412,1045.5 C406,1049 402,1051 398,1052.8" stroke="#fff" stroke-width="3.1" fill="none" stroke-linecap="round" stroke-linejoin="round"/><path d="M434,1018 C437,1024 440,1030 442,1036" stroke="#333" stroke-width="2.5" fill="none" stroke-linecap="round" stroke-linejoin="round"/><path d="M485,977 C486,985 486.5,995 486.4,1002 C486.4,1012 486.4,1022 486.4,1031 C486,1038 485,1042 483,1045.5 C480,1051 475,1056 468.3,1060" stroke="#000" stroke-width="4.9" fill="none" stroke-linecap="round" stroke-linejoin="round"/><path d="M485,977 C486,985 486.5,995 486.4,1002 C486.4,1012 486.4,1022 486.4,1031 C486,1038 485,1042 483,1045.5 C480,1051 475,1056 468.3,1060" stroke="#fff" stroke-width="3.6" fill="none" stroke-linecap="round" stroke-linejoin="round"/><path d="M492,1019 C494,1026 495,1032 494,1038" stroke="#333" stroke-width="2.5" fill="none" stroke-linecap="round" stroke-linejoin="round"/><path d="M545.6,1004.8 C554,1007 563,1009 571,1011.6 C579,1015 586,1020 591.6,1025.3 C598,1031 603,1037 608.7,1042.3 C614,1047 622,1050 630.8,1050.8" stroke="#000" stroke-width="3.9000000000000004" fill="none" stroke-linecap="round" stroke-linejoin="round"/><path d="M545.6,1004.8 C554,1007 563,1009 571,1011.6 C579,1015 586,1020 591.6,1025.3 C598,1031 603,1037 608.7,1042.3 C614,1047 622,1050 630.8,1050.8" stroke="#fff" stroke-width="2.6" fill="none" stroke-linecap="round" stroke-linejoin="round"/><path d="M520,969 C560,968 620,969.5 668,971 C672,972 672,975 667,975.5 C620,976 560,974 522,973 Z" fill="#f2f2f2" fill-opacity="0.85" stroke="#222" stroke-width="0.7"/><path d="M530,971 C570,971 620,972 660,973" stroke="#888" stroke-width="0.6" fill="none"/></g><g><path d="M855,938 C885,930 930,923 962,920 C966,920 966,923 962,924 C930,928 890,936 858,943 Z" fill="#1a1a1a"/><path d="M876,1008 C884,1016 892,1026 896,1034 C899,1036 902,1035 904,1032" stroke="#333" stroke-width="3.5" fill="none" stroke-linecap="round" stroke-linejoin="round"/><path d="M858,962 C866,957 880,956 895,955.5 C908,956 918,962 928,970 C942,982 956,1000 968,1018 C975,1029 979,1042 977,1057 C968,1058 962,1057 957,1055 C945,1050 935,1044 926,1038 C915,1030 908,1024 902,1019 C893,1012 886,1006 879,1001 C872,996 864,990 858,985 Z" fill="#fff"/><g clip-path="url(#ab3)"><path d="M854,986 C864,970 880,958 897,953" stroke="#6b6b6b" stroke-width="12" fill="none"/><path d="M920,962 C920,985 910,1003 897,1020" stroke="#6b6b6b" stroke-width="15" fill="none"/><path d="M945,978 C944,1000 935,1022 924,1040" stroke="#6b6b6b" stroke-width="13" fill="none"/><path d="M964,1005 C964,1022 958,1040 950,1055" stroke="#6b6b6b" stroke-width="11" fill="none"/><path d="M978,1030 C978,1040 975,1050 970,1060" stroke="#6b6b6b" stroke-width="8" fill="none"/><path d="M872,996 C900,1008 935,1012 962,1008" stroke="#000" stroke-width="0.5" fill="none"/><path d="M905,1025 C930,1038 955,1044 975,1040" stroke="#000" stroke-width="0.5" fill="none"/></g><path d="M858,962 C866,957 880,956 895,955.5 C908,956 918,962 928,970 C942,982 956,1000 968,1018 C975,1029 979,1042 977,1057 C968,1058 962,1057 957,1055 C945,1050 935,1044 926,1038 C915,1030 908,1024 902,1019 C893,1012 886,1006 879,1001 C872,996 864,990 858,985 Z" fill="none" stroke="#000" stroke-width="0.7"/><path d="M845,975 C855,972 866,975 872,985 C878,995 880,1002 874,1006 C866,1008 855,1002 848,995 C843,990 842,980 845,975 Z" fill="#6b6b6b" stroke="#000" stroke-width="0.6"/><path d="M824,990 C822,1005 820,1020 822,1035 C823,1040 826,1042 829,1041" stroke="#333" stroke-width="3.5" fill="none" stroke-linecap="round" stroke-linejoin="round"/><g transform="translate(674.9,-27.8) translate(104,981.5) scale(0.92) translate(-104,-981.5)"><path d="M86.0,973.0l-5.0,-9.4M87.5,972.3l-5.9,-10.6M89.0,971.7l-5.7,-10.4M90.6,971.0l-4.8,-7.6M92.1,970.3l-3.1,-9.3M93.6,969.7l-2.8,-9.0M95.1,969.0l-6.7,-12.4M96.7,968.3l-2.4,-11.8M98.2,967.7l-2.5,-10.6M99.7,967.0l-2.5,-12.6M101.2,966.3l-2.4,-10.9M102.8,965.7l-0.7,-10.9M104.3,965.0l-0.1,-12.3M105.8,964.3l-1.5,-11.2M107.3,963.7l0.9,-10.0M108.9,963.0l0.6,-12.6M110.4,962.3l-0.3,-11.3M111.9,961.7l0.1,-12.7M113.4,961.0l1.7,-11.1M115.0,960.3l2.4,-13.0M116.5,959.7l3.2,-12.8M118.0,959.0l2.8,-10.1M128.0,961.0l-7.6,-12.8M129.5,960.6l-4.5,-12.2M130.9,960.2l-6.3,-14.9M132.4,959.8l-5.9,-11.1M133.9,959.4l-6.4,-14.2M135.3,959.0l-2.6,-13.0M136.8,958.6l-1.6,-15.6M138.3,958.2l-3.3,-15.9M139.7,957.8l-2.7,-14.4M141.2,957.4l-1.6,-13.9M142.7,957.0l1.6,-14.0M144.1,956.6l2.1,-10.8M145.6,956.2l0.3,-10.3M147.1,955.8l2.9,-10.3M148.5,955.4l1.2,-11.2M150.0,955.0l6.1,-14.7M152.0,955.0l-0.9,-12.9M154.3,955.2l-2.3,-12.7M156.5,955.4l-2.3,-10.8M158.8,955.6l-0.9,-7.2M161.1,955.8l-0.7,-10.6M163.3,956.0l-0.0,-7.7M165.6,956.2l0.5,-13.5M167.9,956.4l2.5,-8.9M170.1,956.6l2.3,-12.6M172.4,956.8l2.6,-7.8M174.7,957.0l4.0,-10.6M176.9,957.2l2.6,-9.4M179.2,957.4l4.0,-8.9M181.5,957.6l4.5,-8.8M183.7,957.8l5.9,-8.7M186.0,958.0l3.8,-9.1M80.0,983.0l-5.5,-0.1M80.8,985.2l-7.2,0.5M81.5,987.5l-6.4,1.2M82.2,989.8l-6.7,1.6M83.0,992.0l-4.9,2.4" stroke="#000" stroke-width="1.0" fill="none" stroke-linecap="round"/><path d="M90,971 C98,963 110,958 122,958 C130,957 140,954 150,955 C165,953 180,954 190,959 L187,960.5 C175,957 160,957.5 145,960 C128,962 110,965 95,974 Z" fill="#222"/><path d="M87,972.5 C65,962 40,957 14,960.5" stroke="#000" stroke-width="3.4" fill="none" stroke-linecap="round"/><path d="M87,973.5 C65,973 40,980 19,989.5" stroke="#000" stroke-width="3.6" fill="none" stroke-linecap="round"/><path d="M112,996 C118,1000 124,1006 128,1012 C126,1016 120,1016 116,1012 C112,1008 109,1002 112,996 Z" fill="#6b6b6b" stroke="#000" stroke-width="0.6"/><path d="M123,989 C122,975 130,962 145,958 C158,955 172,955.5 182,962 C189,968 193,977 194,986 C195,996 192,1004 186,1008 C178,1013 160,1015 146,1014.5 C133,1013 124,1003 123,989 Z" fill="#6b6b6b" stroke="#000" stroke-width="0.7"/><path d="M124,984 C130,977 140,975 150,976 C146,980 136,982 126,987 Z" fill="#fff"/><path d="M149,972 C153,970 157,971 156,975 C153,976 150,975 149,972 Z" fill="#fff"/><path d="M171,960 C175,958 178,962 178,968 C177,972 173,972 171,968 Z" fill="#fff"/><path d="M181,978 C184,977 187,980 187,985 C184,986 181,983 181,978 Z" fill="#fff"/><path d="M149,987 C152,985 156,987 156,991 C153,993 150,991 149,987 Z" fill="#fff"/><path d="M176,1000 C180,996 188,997 190,1003 C191,1009 186,1012 180,1010 C176,1008 175,1004 176,1000 Z" fill="#6b6b6b" stroke="#000" stroke-width="0.6"/><ellipse cx="104" cy="981.5" rx="24" ry="15.5" transform="rotate(-50 104 981.5)" fill="#6b6b6b" stroke="#000" stroke-width="0.8"/><path d="M122,968 C124,977 118,989 108,997 C102,1001 97,1003 93,1002.5 C96,998 101,994 106,989 C112,983 116,976 118,969 Z" fill="#fff"/><path d="M87.7,993.2 C88,986 93,979 98,975.5 C103,971 108,967 112.5,964.3 C114,963.5 116.5,964 116,966.5 C115.5,970 114,974 111.7,978 C109,982 107,985 105,987 C102,990 100,991.5 97,993 C94,994.5 92,995.5 90.5,995.5 C89,995.5 88,994.5 87.7,993.2 Z" fill="url(#w3eye)" transform="translate(102,980) scale(0.88) translate(-102,-980)"/><ellipse cx="97" cy="974" rx="5" ry="2.6" transform="rotate(-42 97 974)" fill="#fff"/><path d="M83,991 C79,998 79,1006 82,1011 C86,1008 92,1004 95,1000 C90,999 86,996 83,991 Z" fill="#fff" stroke="#000" stroke-width="0.6"/></g><ellipse cx="806" cy="978" rx="9" ry="6" fill="#6b6b6b" stroke="#000" stroke-width="0.6"/><ellipse cx="828" cy="981" rx="9" ry="6" fill="#6b6b6b" stroke="#000" stroke-width="0.6"/><path d="M712,999 C711,990 713,980 721,972 C727,968 737,966 746,966.5 C752,967 758,972 764,977 C770,979 775,980 779,983 C785,986 789,992 791,1004 C792,1010 793,1015 794,1020 C796,1027 797,1034 794,1040 C790,1042 785,1042.5 781,1041 C776,1037 773,1032 772,1027 C770,1021 768,1016 766,1012 C764,1006 762,1000 758,993 C754,989 746,987 740,989 C735,991 732,995 734,999 C736,1003 737,1008 735,1012 C732,1016 725,1017 719,1015 C714,1012 712,1006 712,999 Z" fill="#959595" stroke="#444" stroke-width="0.7"/><ellipse cx="728.5" cy="1009.5" rx="4.2" ry="2.6" fill="#555" stroke="#333" stroke-width="0.5"/><path d="M718,984 l3,1 M721,976 l3,-1 M731,971 l3,1 M742,969 l3,2 M756,975 l3,2 M766,982 l3,2 M776,990 l2,3 M782,1000 l1,3 M719,997 l3,0" stroke="#e0e0e0" stroke-width="1.8" stroke-linecap="round"/><path d="M791.5,1013 C786,1020 781,1026 779,1031 C777,1037 776,1042 775,1046 C773,1051 771,1055 770,1058.5 C768,1061 765,1062 762.6,1062" stroke="#000" stroke-width="4.4" fill="none" stroke-linecap="round" stroke-linejoin="round"/><path d="M791.5,1013 C786,1020 781,1026 779,1031 C777,1037 776,1042 775,1046 C773,1051 771,1055 770,1058.5 C768,1061 765,1062 762.6,1062" stroke="#fff" stroke-width="3.1" fill="none" stroke-linecap="round" stroke-linejoin="round"/><path d="M834,983 C835,995 836,1010 836,1025 C836,1032 837,1038 839,1044 C842,1050 846,1056 850.3,1059.5" stroke="#000" stroke-width="5.3999999999999995" fill="none" stroke-linecap="round" stroke-linejoin="round"/><path d="M834,983 C835,995 836,1010 836,1025 C836,1032 837,1038 839,1044 C842,1050 846,1056 850.3,1059.5" stroke="#fff" stroke-width="4.1" fill="none" stroke-linecap="round" stroke-linejoin="round"/><path d="M859.8,1000 C870,1006 882,1012 893,1019 C903,1026 912,1034 921.6,1042.9 C930,1050 940,1057 950.2,1061.9" stroke="#000" stroke-width="3.9000000000000004" fill="none" stroke-linecap="round" stroke-linejoin="round"/><path d="M859.8,1000 C870,1006 882,1012 893,1019 C903,1026 912,1034 921.6,1042.9 C930,1050 940,1057 950.2,1061.9" stroke="#fff" stroke-width="2.6" fill="none" stroke-linecap="round" stroke-linejoin="round"/><path d="M836,945 C880,942 940,937 994,934 C998,934 998,937 994,937.5 C940,941 880,946 838,950 Z" fill="#ededed" fill-opacity="0.85" stroke="#222" stroke-width="0.7"/></g>
</svg>
<div class="t" style="left:50.5px;top:-3.5px;font-size:30.5px;transform:scaleX(0.912)">INDIVIDUAL TASK ALLOCATION</div>
<div class="t" style="left:533.5px;top:-4px;font-size:30.5px;transform:scaleX(0.875)">NUMBER OF LOADS OBSERVED</div>
<div class="t" style="left:-2px;top:875px;font-size:24px">100%</div>
<div class="t" style="left:118px;top:875px;font-size:24px">75%</div>
<div class="t" style="left:238px;top:875px;font-size:24px">50%</div>
<div class="t" style="left:361.5px;top:875px;font-size:24px">25%</div>
<div class="t" style="left:497.5px;top:875px;font-size:24px;transform:scaleX(1.15)">0</div>
<div class="t" style="left:610.8px;top:875px;font-size:24px;transform:scaleX(1.1)">50</div>
<div class="t" style="left:723.7px;top:875px;font-size:24px;transform:scaleX(1.08)">100</div>
<div class="t" style="left:838.8px;top:875px;font-size:24px;transform:scaleX(1.08)">150</div>
<div class="t" style="left:955.4px;top:875px;font-size:24px;transform:scaleX(1.08)">200</div>
<div style="position:absolute;left:46.5px;top:1066px;width:257px;height:8px;background:#4bacc6;border:1px solid #333"></div>
<div style="position:absolute;left:380px;top:1066px;width:256px;height:7.5px;background:#ffff00;border:1px solid #333"></div>
<div style="position:absolute;left:713px;top:1066.5px;width:257px;height:7.5px;background:#c0504d;border:1px solid #333"></div>
<div class="t" style="left:47px;top:1082px;font-size:31px;transform:scaleX(0.89)">FLUID</div>
<div class="t" style="left:379px;top:1083.5px;font-size:30px;transform:scaleX(0.88)">PULP</div>
<div class="t" style="left:712px;top:1081.5px;font-size:30px;transform:scaleX(0.843)">FLESH</div>
</body></html>
